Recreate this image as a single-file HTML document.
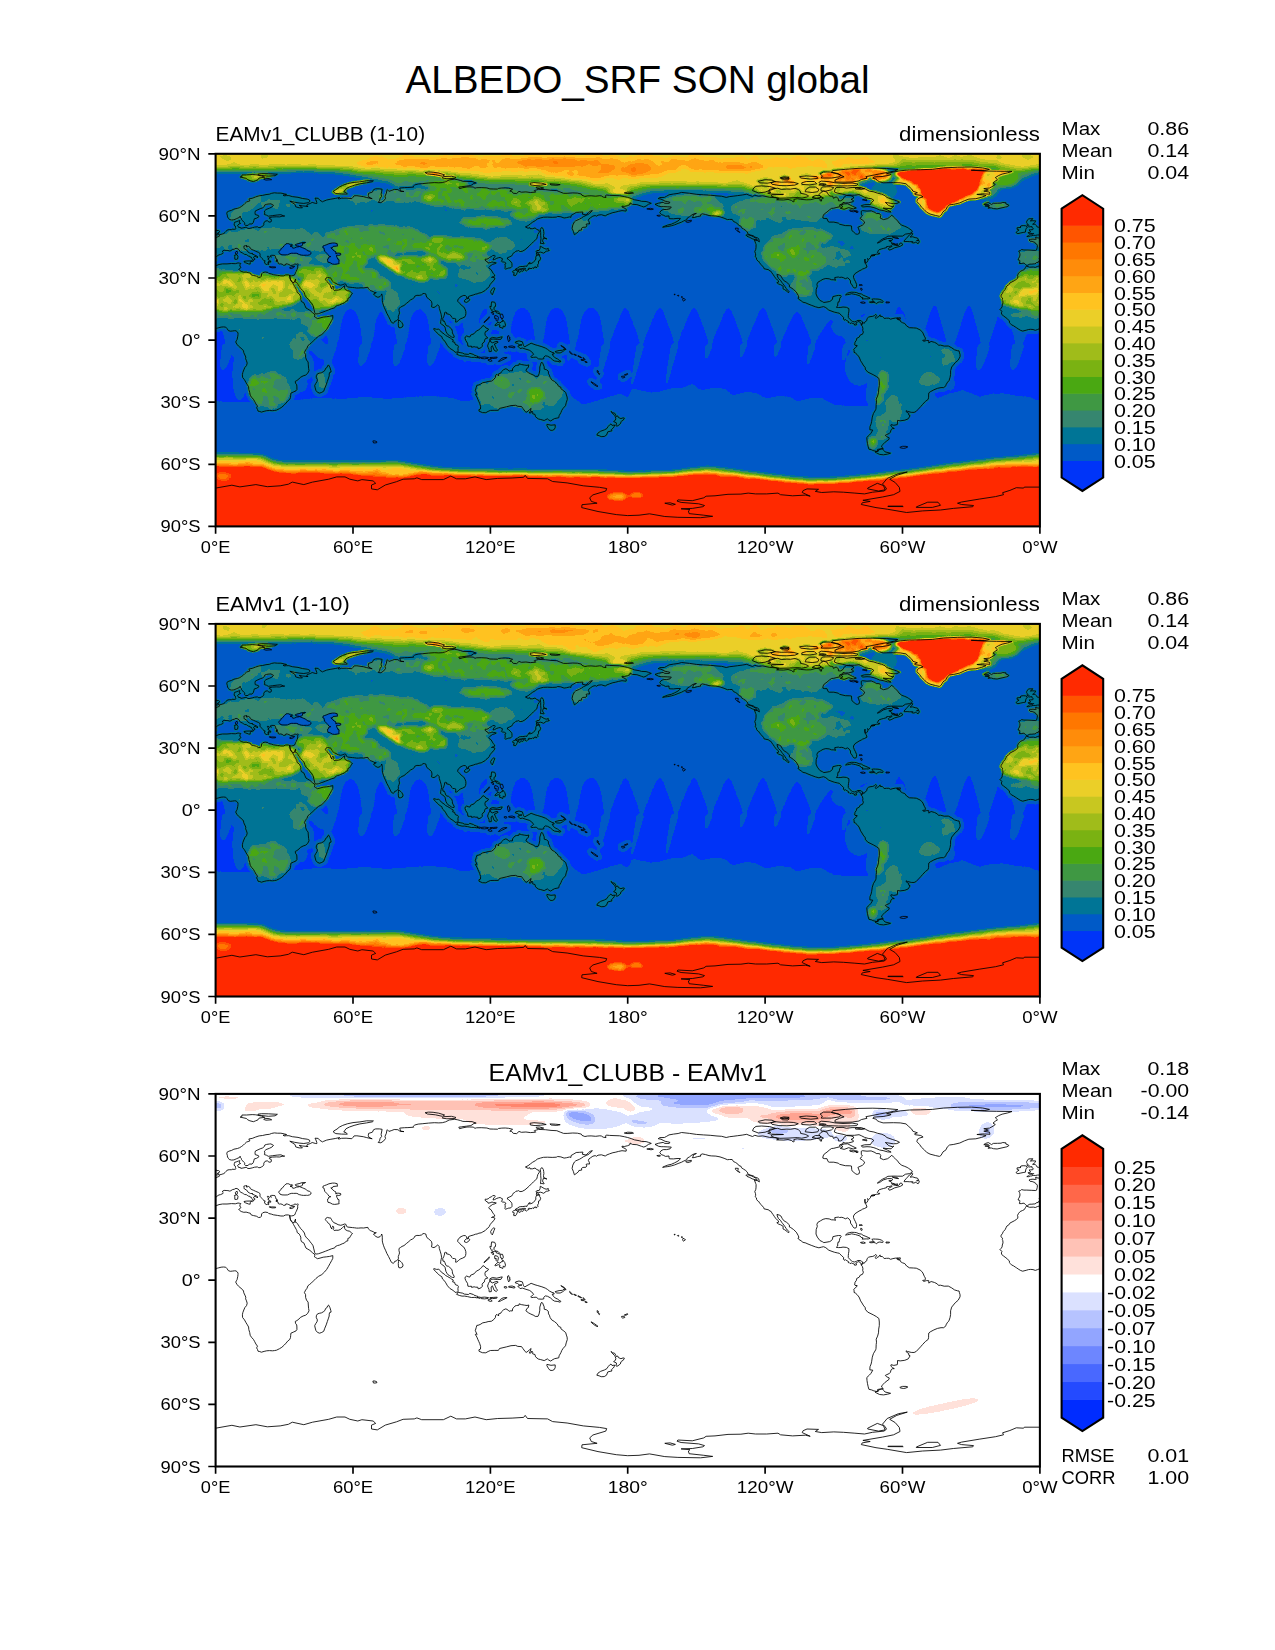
<!DOCTYPE html>
<html><head><meta charset="utf-8"><title>ALBEDO_SRF SON global</title>
<style>html,body{margin:0;padding:0;background:#fff}svg{display:block}text{font-family:"Liberation Sans", sans-serif;fill:#000}</style></head><body>
<svg width="1275" height="1650" viewBox="0 0 1275 1650">
<rect width="1275" height="1650" fill="#fff"/>
<defs>
<clipPath id="axclip"><rect x="0" y="0" width="824.3" height="372.6"/></clipPath>
<path id="landp" d="M-13.5 112.2L-10.3 113.4L-6.6 113.2L-4.6 113.6L-2.3 112.6L0 112L3.4 110.7L6.9 110.1L11.4 110.1L16 109.7L19.7 109.9L22.4 109.1L23.6 109.3L25.2 109.7L24.3 111L24.3 112.6L25.4 113.4L24.5 114.7L23.1 115.5L24 116.5L25.6 117.6L28.2 118.4L30.5 118.2L33.2 119L34.8 119.4L35.7 121.1L38 121.7L40.8 122.3L43 123.6L44.9 123.4L45.8 122.3L46 120.1L47.2 118.8L49.5 118.2L52.2 118.6L53.1 119.6L56.1 120.3L57.7 120.9L61.8 121.5L65.3 122.1L68 122.1L69.6 121.2L71.4 121L73 121.1L74 121.5L74.5 124.2L74.6 125.2L75.6 127.3L76.9 128.8L77.9 130.6L79.2 132.9L80.6 135.4L81.3 136.8L81.5 138.5L83.8 140.3L84.5 141.8L85.2 143.2L85.2 145.7L85.9 147.8L88.2 149L89.3 151.7L90.4 154.2L92.3 155.3L94.3 156.5L97.1 159L98.7 160.2L99.4 161.7L98.5 162.5L99.8 163.5L101.9 164.8L104.4 164.2L107.6 163.3L111.1 162.9L114 162.5L117.2 161.7L117.2 164.4L116.1 166.6L114.5 169.5L112.9 172.4L111.1 175.5L109 178L106.2 180.7L103 182.4L100.3 184.6L98 186.9L95.9 189L93.9 190.6L92.3 191.9L91.4 194.4L90 196.2L88.8 198.7L90 200.8L90 203.5L90.9 206.2L92.5 208.2L92.7 211.1L93 214.5L93.4 216.9L92 219.6L90 221.3L87.5 222.1L84.7 223.6L83.3 225.2L81.3 226.7L79.7 227.5L79.9 229.4L81.1 231L81.3 233.1L81.3 235.8L80.4 237L77.6 238.3L75.3 239.3L75.1 241.4L74.9 243.6L74.2 245.5L72.1 247.2L70.5 249.2L68.7 251.1L66.2 253.4L63.9 254.8L60.9 256.3L58.8 256.7L56.8 256.9L53.8 256.7L51.1 256.9L48.5 257.5L45.8 258.3L44.2 257.7L42.4 257.3L41.9 255.6L41 254L41.9 252.3L40.3 250.1L38.9 247.4L37.8 245.5L35.9 243.4L34.6 241.4L34.1 238.5L33.2 235.6L33 233.1L31.8 231L30.5 228.9L28.9 226L27 223.6L26.8 220.9L27.2 218.8L28.2 216.1L29.3 213.6L30.9 211.8L31.6 209.3L30.9 207L30 204.9L30.2 203.3L29.3 201.2L28.2 198.9L27.9 197.1L27.2 196L25.4 194.4L22.9 192.3L21.3 190.4L20.1 188.2L20.8 186.9L21.5 185.7L21.8 184.2L22.2 182.4L22.4 180.7L22.4 179.3L21.8 178.1L20.4 177L19 176.9L16.7 177.2L14.7 177.4L12.8 176.8L11.4 174.7L10.1 173.3L7.8 173.1L5.5 173.3L3.2 173.9L1.8 174.3L0 174.7L-2.3 175.7L-4.6 176.5L-6.9 175.7L-9.2 175.5L-11.4 175.7L-13.7 176.4L-17.2 177.3L-19.2 176.6L-21.1 175.5L-23.4 173.9L-24.7 173.1L-26.3 172L-28.4 171L-29.8 169.5L-30.5 168.5L-30.5 167L-32.1 165.6L-33.9 163.9L-34.8 163.3L-36.6 161.9L-38.2 160.6L-38.5 159L-38 157.5L-39.4 156.1L-40.1 155.8L-38.7 154.4L-37.8 153L-37.6 151.1L-36.9 149L-37.1 146.8L-37.6 145.7L-37.3 144.3L-39 142.8L-38.7 141.2L-37.6 139.9L-36.6 137.7L-34.8 135.8L-33.9 133.9L-33 132.1L-31.1 131L-30 129.2L-27.9 128.1L-25.6 126.9L-23.6 125.6L-22.2 124.4L-22 123L-22.4 121.5L-21.3 119.4L-19.7 117.6L-17.4 116.6L-15.6 115.7L-14.4 113.6L-13.5 112.2ZM810.8 112.2L814 113.4L817.7 113.2L819.7 113.6L822 112.6L824.3 112L827.7 110.7L831.2 110.1L835.7 110.1L840.3 109.7L844 109.9L846.7 109.1L847.9 109.3L849.5 109.7L848.6 111L848.6 112.6L849.7 113.4L848.8 114.7L847.4 115.5L848.3 116.5L849.9 117.6L852.5 118.4L854.8 118.2L857.5 119L859.1 119.4L860 121.1L862.3 121.7L865.1 122.3L867.3 123.6L869.2 123.4L870.1 122.3L870.3 120.1L871.5 118.8L873.8 118.2L876.5 118.6L877.4 119.6L880.4 120.3L882 120.9L886.1 121.5L889.6 122.1L892.3 122.1L893.9 121.2L895.7 121L897.3 121.1L898.3 121.5L898.8 124.2L898.9 125.2L899.9 127.3L901.2 128.8L902.2 130.6L903.5 132.9L904.9 135.4L905.6 136.8L905.8 138.5L908.1 140.3L908.8 141.8L909.5 143.2L909.5 145.7L910.2 147.8L912.5 149L913.6 151.7L914.7 154.2L916.6 155.3L918.6 156.5L921.4 159L923 160.2L923.7 161.7L922.8 162.5L924.1 163.5L926.2 164.8L928.7 164.2L931.9 163.3L935.4 162.9L938.3 162.5L941.5 161.7L941.5 164.4L940.4 166.6L938.8 169.5L937.2 172.4L935.4 175.5L933.3 178L930.5 180.7L927.3 182.4L924.6 184.6L922.3 186.9L920.2 189L918.2 190.6L916.6 191.9L915.7 194.4L914.3 196.2L913.1 198.7L914.3 200.8L914.3 203.5L915.2 206.2L916.8 208.2L917 211.1L917.3 214.5L917.7 216.9L916.3 219.6L914.3 221.3L911.8 222.1L909 223.6L907.6 225.2L905.6 226.7L904 227.5L904.2 229.4L905.4 231L905.6 233.1L905.6 235.8L904.7 237L901.9 238.3L899.6 239.3L899.4 241.4L899.2 243.6L898.5 245.5L896.4 247.2L894.8 249.2L893 251.1L890.5 253.4L888.2 254.8L885.2 256.3L883.1 256.7L881.1 256.9L878.1 256.7L875.4 256.9L872.8 257.5L870.1 258.3L868.5 257.7L866.7 257.3L866.2 255.6L865.3 254L866.2 252.3L864.6 250.1L863.2 247.4L862.1 245.5L860.2 243.4L858.9 241.4L858.4 238.5L857.5 235.6L857.3 233.1L856.1 231L854.8 228.9L853.2 226L851.3 223.6L851.1 220.9L851.5 218.8L852.5 216.1L853.6 213.6L855.2 211.8L855.9 209.3L855.2 207L854.3 204.9L854.5 203.3L853.6 201.2L852.5 198.9L852.2 197.1L851.5 196L849.7 194.4L847.2 192.3L845.6 190.4L844.4 188.2L845.1 186.9L845.8 185.7L846.1 184.2L846.5 182.4L846.7 180.7L846.7 179.3L846.1 178.1L844.7 177L843.3 176.9L841 177.2L839 177.4L837.1 176.8L835.7 174.7L834.4 173.3L832.1 173.1L829.8 173.3L827.5 173.9L826.1 174.3L824.3 174.7L822 175.7L819.7 176.5L817.4 175.7L815.1 175.5L812.9 175.7L810.6 176.4L807.1 177.3L805.1 176.6L803.2 175.5L800.9 173.9L799.6 173.1L798 172L795.9 171L794.5 169.5L793.8 168.5L793.8 167L792.2 165.6L790.4 163.9L789.5 163.3L787.7 161.9L786.1 160.6L785.8 159L786.3 157.5L784.9 156.1L784.2 155.8L785.6 154.4L786.5 153L786.7 151.1L787.4 149L787.2 146.8L786.7 145.7L787 144.3L785.3 142.8L785.6 141.2L786.7 139.9L787.7 137.7L789.5 135.8L790.4 133.9L791.3 132.1L793.2 131L794.3 129.2L796.4 128.1L798.7 126.9L800.7 125.6L802.1 124.4L802.3 123L801.9 121.5L803 119.4L804.6 117.6L806.9 116.6L808.7 115.7L809.9 113.6L810.8 112.2ZM112.9 211.1L114.3 213.6L115.2 216.5L115.5 218.2L114.1 218.6L113.6 220.2L113.6 222.1L112.9 224.2L111.7 227.7L110.6 231L109.2 234.3L108.1 237.4L106.2 238.5L104 239.3L101.9 238.5L100.3 236.6L99.6 234.1L99.1 231.8L100.1 229.8L101.4 227.9L101.8 226L100.7 223.8L100.7 221.9L101.9 220L103.7 219.4L105.8 219L107.6 218L109.4 216.5L109.9 214.7L111.5 213.6L112 212L112.9 211.1ZM74.5 124.2L74.9 125.9L76 127.5L77.2 128.5L78.5 128.9L79.1 127.3L79.9 125.2L79.8 127.1L79.5 128.2L80.8 128.5L82 130L83.6 132.5L85.2 134.8L87 136.6L88.8 139.1L89.5 141.8L90.9 143.9L93 145.7L94.6 148L96.2 149.9L97.5 151.9L98 154.2L98.5 156.1L99.1 158.8L99.8 160.1L101.4 160.1L103 159.8L106.5 158.6L109.9 157.3L112.7 156.2L115.6 155L119.1 154L119.8 152.6L121.8 151.7L124.1 151.1L126.6 149.9L128.9 149.1L130.5 147.3L132.2 147L132.3 144.5L133.9 144L134.9 142.2L136.2 140.3L136.9 139.6L135.8 138.9L134.2 137.4L131.7 136.8L129.8 135.8L129.1 134.6L128.9 133.1L129.1 131.9L128.3 132.4L126.9 133.7L124.8 135.6L122.5 136.4L120.4 136.3L118.6 136.6L117.7 135.6L118.1 134.6L118 132.8L117.2 132.2L116.3 133.4L116.3 135.1L115.2 133.7L114.8 132.1L114.4 130.6L112.7 129.4L111.5 127.7L110.1 126.3L109.7 125.4L110.4 124.3L112 123.5L113.6 124.1L114.7 123.8L116.1 125.9L116.5 126.7L118.1 128.7L120.4 129.6L122.5 130.8L125.2 131.4L127.3 130.8L128.9 130.1L130.3 130.4L131 132.5L132.3 133.2L134.4 133.4L136.9 133.7L139 133.9L141 134.2L142.9 134.2L145.4 134L148.1 134.1L150.4 133.7L152.3 133.5L152.7 134.9L154.1 136L154.8 136.8L156.2 137.2L157.8 137.9L159.4 138.9L160.7 138.8L158.4 139.9L157.9 140.2L158.7 141.2L160.3 142.6L162.3 143.5L164.4 142.8L165.5 141.6L166.1 140.1L166.6 141.6L166.7 143.9L166.7 147L167.1 149L167.8 151.3L168.8 154L169.9 156.3L171.3 159.6L172.9 162.5L174.5 165.7L175.4 167.9L177.5 169.5L178.8 168.5L179.1 167.5L180.9 167L182.8 165L182.7 162.5L183.4 160.8L183.9 159L183.4 156.7L183.4 154.6L185 153.5L186.4 152.5L188.4 151.7L190.7 149.7L193.3 147.6L194.9 146.1L196.9 145.1L198.7 143.7L199.2 142.3L201.3 141.5L203.6 141.6L206.1 141L207.4 139.7L208.8 139.7L210.2 140.1L210.7 142.2L211.3 143.7L212.7 144.7L214.5 146.3L215.9 147.6L216.4 150.1L215.9 153L217.1 153.5L218.4 153.7L220.3 152.6L221.9 151.1L222.6 151.4L223.5 152.4L223.7 154.6L224.6 157.3L225.5 160.4L226 163.5L225.5 165.6L225.1 167.7L225 169.7L226 170.4L227.4 171.4L228.5 172.3L229.4 173.2L229.8 175.1L230.3 177.4L231.3 179.3L232.2 180.7L234 181.7L235.8 183L237 183.6L238.5 183.5L238.6 182.4L237.7 180.9L236.8 179.1L236.8 177.6L236.1 175.3L234.2 173.6L232.9 172.4L231.3 172.1L230.3 171.4L229.4 168.9L228.7 167.3L227.4 167.3L227.1 164.8L228.1 162.9L228.5 161.7L229 160.2L229 158.8L230.1 158.4L231.1 158.8L231 160L232.4 160.2L234 160.8L235.4 161.9L236.1 163.5L237.2 164.6L238.8 164.6L240 165L240.2 166.2L240 168.3L241.1 168.1L242.7 166.8L244.3 165.4L245.2 164.9L247.1 164.2L249.4 162.9L250 161.5L250.3 159.6L250.2 157.7L249.4 155.3L248 153L246.4 151.9L244.3 149.9L243.6 149L242 147.4L242.5 145.3L243.9 144.3L244.5 143.2L246.6 142.2L248.2 141.6L249.8 141.8L251 142.8L251.2 144.3L252.8 144.3L253 142.6L255.3 141.8L257.6 141.2L259.9 140.3L261.5 140.1L263.3 139.3L265.6 138.9L267.2 138L269.7 136.6L270.4 135.6L272.2 134.3L273.6 132.7L274.5 130.8L276.4 128.3L278.4 126.5L279.1 125L279.3 124.2L277.1 123.4L275.9 123.6L277.7 122.8L279.1 122.3L278.9 120.9L277.5 119.6L276.8 118.2L275.5 115.9L273.4 114.5L273.2 113.6L274.1 112.6L275.5 111.6L277.1 110.5L279.3 109.9L280.7 109.1L279.6 108.7L278 108.6L276.4 108.1L274.5 108.9L272.5 109.3L272.2 108.3L270.2 107.2L269.5 106.2L269.7 105.2L271.3 105.4L273.2 104.5L273.9 103.6L275.9 102.9L277.1 101.7L278.9 101.6L279.8 102.4L278.4 103.7L277.7 105.2L277.5 106.1L278.9 105.7L281.2 104.5L283 103.9L284.6 103.6L285.5 104.3L286.7 104.7L286.7 106.2L285.8 107.4L286.9 108.1L288.7 108.3L289.9 108.9L290.3 109.9L289.2 110.5L289.6 111.8L289.6 113.4L289.2 114.7L289.9 115.3L291.7 114.7L292.6 114.3L294.5 114.1L295.6 113.6L296.3 112.8L296.4 111.6L296.3 109.7L295.6 108.3L294.5 107.2L293.1 105.8L291.8 105.2L291.9 103.9L293.5 103.3L296.1 102.1L297 100.6L297.2 99.8L298.8 98.7L299.5 98.3L300.4 97.3L302 97.1L302.9 96.7L304.3 97.7L306.6 97.5L309.3 96L311.4 94.2L313.7 92.1L316 89.8L317.8 88L320.1 85.9L321.2 84.9L321.7 82.8L322.2 80.7L323.8 78.2L323.5 76.6L321.2 75.6L319.4 74.1L317.1 74.9L314.4 74.9L314.1 73.7L312.5 74.5L309.8 73.1L312.5 71.8L314.8 70L317.1 68.3L319.9 66.7L321.7 65.2L324.7 64.2L327.9 63.4L332 63.3L336.6 63.5L340.7 63.3L342.1 62.6L345.3 63L348.5 64.2L351 63.8L353.8 63.1L355.4 63.5L355.4 61.7L358.3 60L360.6 58.6L364.1 58.4L367.3 58.2L366.8 60.4L370.5 61.1L372.8 58.8L374.4 57.5L376.7 56.7L375.5 58.4L373.9 59.4L373.2 60.4L370.7 61.5L367.7 62.9L366.2 64L363.8 65.4L360.2 66.9L358.8 68.1L357.2 71.2L356.5 74.5L357.7 77.4L358.8 80.9L360.6 79.7L362.7 78L363.3 76.6L366.1 76.2L365.9 74.5L367.3 73.5L370.2 73.4L371.2 72L370.5 70.4L372.3 70L373.9 70.2L373.7 68.3L372.8 66.7L373.2 65.2L375.1 63.8L377.3 62.3L379.6 61.7L380.8 62.4L382.4 61.3L385.8 60.9L389.9 62.2L390.6 61.3L393.8 60L397.3 58.8L399.6 58.4L403 57.5L406.4 56.8L410.5 57.3L410.8 55.7L409.4 54.6L406.4 53.2L406.4 52.3L408.7 52.6L412.1 51.8L414.4 50.7L414.4 49.1L416.7 50.5L421.3 50.8L425.9 52.4L428.2 53.2L430.5 52.2L432.8 50.5L435.7 49.5L432.8 48.4L430.5 47.7L425.9 47.5L423.6 46.8L419 46L415.6 44.7L412.1 43.6L408.7 42.8L404.1 41.9L398.4 41.7L393.8 41.5L390.6 41.2L389.9 42L390.4 43.7L387.6 43.3L385.8 42.1L384.2 41.9L380.1 42.4L375.5 42L372.1 42.1L369.3 42.6L366.4 41.5L365.7 40.2L361.8 39.3L357.2 39.1L351.5 39.5L348 39.5L344.6 38.2L341.2 36.8L335.4 36.5L329.7 35.8L322.9 35.5L320.6 36.2L318.7 36.8L320.1 38.3L314.8 38.7L310.3 38.1L305.7 38.4L303.4 37.5L301.1 39.7L297.7 39.5L296.1 37.5L294.2 37.3L297 35.4L293.1 34.4L289.6 34.1L286.2 34.2L282.8 34.6L282.1 35.3L278.2 35.2L274.3 35.1L271.3 34.1L265.6 33.8L261 33.9L259.4 34.4L257.6 33.2L254.2 33.1L251.4 33.1L247.3 33.9L243.9 34.8L243.2 33.3L246.1 32.9L250.7 32.3L255.3 31.7L258.3 29.6L260.6 29.2L256.4 27.7L247.3 27.5L245 26.7L241.6 25.8L238.8 25.4L233.6 26.1L230.1 27.9L226.7 28.8L223.2 29L218.7 28.8L212.9 29.2L207.2 29.8L202.6 30.2L199.2 31.1L197.6 32.5L198.1 33.3L192.3 33.7L188.9 33.8L184.1 34.2L184.6 35.6L185.2 37.3L188.4 37.7L184.6 37.5L182.3 35.8L178.6 35.6L175.6 36.8L173.3 37.5L171.7 35.8L171.3 36.4L170.8 39.3L169.4 42.4L169.9 44.7L168.1 47L165.3 48.9L162.6 48.6L163.9 47L164.6 44.3L166 42.6L165.5 40.4L166 38.1L166.5 35.4L163.7 35L160.1 35L158 35.8L156.8 38.3L153 39.5L152.7 41.8L153.4 43.5L156.6 44.9L151.1 43.7L147.7 42.8L141.3 41.9L138.5 42L137.4 43.5L136.2 44.8L130.5 44.3L125.9 44.4L123.6 45.1L122.5 44.9L124.1 43.6L120.2 44.5L114.5 45.5L111.1 46.2L107.6 47.6L106.9 48L104.2 46.4L102.6 44.5L99.4 44.3L100.3 46L101.2 48.6L101.2 49.7L99.6 49.5L96.6 48.6L94.6 49.7L91.6 50.7L91.1 52.6L92.5 52.6L87 52.1L83.6 51.5L85.9 53L86.8 54L83.6 54L80.1 53L79.5 50.7L76.7 48.9L74.2 47.3L79 48.4L83.6 49.2L88.2 49.6L92.7 48.9L94.3 47.6L93.9 46.2L91.6 45.3L87 44.7L82.4 43.5L76.7 42.8L73.3 41.8L71 41.8L68.7 42L67.5 41.4L71 40.6L68.7 40L65.3 39.3L61.8 39.3L58.8 39L56.1 39.5L53.8 40.4L50.4 40.8L46.9 41.6L43.5 42L40.1 43.1L36.6 44.5L33.2 45.1L34.3 47L30.9 48.2L29.3 49.7L27.9 51.1L25.9 52.6L24 53.8L21.8 54.6L18.3 55.3L16 56.5L13.3 57.3L11.4 58.4L11.2 60L11.7 61.3L11.9 63.1L12.8 64.4L13.7 65.6L16 66.2L18.3 66L20.6 65L22.4 64.2L24 63.5L24.5 62.3L25 63.8L25.6 64.4L25.9 65.6L27 66.9L28.2 68.3L29.3 69.3L28.9 70.4L29.8 71.6L32.5 71.6L33 71L33.7 70.1L36.4 70.2L37.6 68.9L38.2 66.9L38.7 65L41 64.4L43.3 62.9L42.8 61.7L39.6 60.7L39.4 58.8L39.8 57.1L42.4 55.9L44.6 54.9L46.9 54.1L48.8 52.6L49.2 51.1L51.1 50.5L53.8 50.1L55.3 50L57.9 51.5L56.3 53.2L53.8 54.4L50.4 55.7L48.8 57.3L49.2 59L48.8 60.7L50.8 61.3L52.7 62.4L57.1 61.8L61.6 61.2L65.3 60.9L68 62.1L69.1 62.2L66.4 62.4L64.1 63.1L60.7 63L56.7 63.2L53.8 63.8L53.8 64.8L55.6 65.5L55.8 67.1L55.2 68.2L53.4 68.3L51.7 66.9L49.5 67.4L48.2 69.3L48.2 71L46.9 72.6L45.7 73.1L44.4 73.8L42.7 73.7L42.1 73L38.9 73.3L36.6 74L33.4 74.7L31.6 74.3L30.7 73.3L28.4 73.9L25.2 74.5L25 73.7L22.9 73.5L22.7 72.9L22 71.6L22.4 71.4L23.4 70.1L25 69.6L23.6 68.5L24 67.5L24.3 66.8L22.7 67.2L20.6 68L19 68.5L18.7 69.8L18.5 71.3L19.7 72.2L19.9 73.7L20.4 74.7L19.7 75.3L18.5 75.5L16.5 75.3L16 75.9L14.2 75.8L12.4 76L11 76.7L10.3 77.8L9.4 78.7L8.2 79.7L7.3 80L5.5 80.6L3.7 80.9L3.7 82.4L2.5 82.9L0.2 83.8L-0.7 84.2L-2.7 84.1L-3 83.4L-4.4 83.4L-3.7 85.5L-4.6 85.6L-6.9 85.3L-9.2 85.5L-10.9 86.1L-9.8 87.4L-7.8 87.6L-5.7 88.4L-5 88.5L-4.6 89.6L-2.7 90.8L-2.5 91.9L-2.7 93.9L-3.4 96.3L-4.1 96.6L-6.9 96.5L-8.7 96.4L-13.1 96.2L-16 96.2L-18.3 95.7L-19.2 96.5L-21.2 97.3L-20.4 98.7L-20.1 99.6L-19.9 101.1L-20.4 103.1L-21.4 104.8L-21.8 106.1L-20.8 106.3L-20.1 106.7L-20.1 107.7L-20.5 109.7L-18.1 109.7L-16.9 109.3L-15.8 109.4L-14.5 110.5L-13.7 111.4L-12.8 111.8L-12.3 111.5L-10.1 110.3L-8 110.3L-5.6 110L-4.8 110.2L-3.7 108.9L-1.6 108.5L-1.5 107.6L-0.3 106.8L0.5 106.1L-0.5 105.2L-0.7 104.5L0 103.5L1.6 102.3L2.1 102.1L2.7 101.2L5 100.7L7.3 99.6L7.6 98.7L6.9 98.1L7.1 97.1L8.5 96.5L10.5 96.6L12.3 96.7L14.2 97.2L15.3 96.8L16.7 95.8L18.8 95.3L20.4 94.4L22.4 95.1L23.6 96.2L24 97.4L25.4 98.5L27 99.2L28 99.9L28.9 100.5L31.1 100.9L32.2 101.8L32.7 102.2L33.9 102.2L34.3 103.1L35.8 103.4L36.2 104.5L36.9 105.6L37.1 106.2L36.3 106.5L35.8 107.6L36.9 107.7L38 107L38 106L39.3 105.6L39.2 104.7L37.8 104L38.7 102.6L39.5 102.6L41 103L41.4 103.9L42.4 103.3L41.2 102.2L38.7 101.1L36.5 100.1L37.1 99.6L35 99.6L33.7 99L32.5 98.3L31.1 96.2L28.9 95.1L28.2 94L28.6 93.3L28.2 92.3L30 91.8L31.5 91.8L30.9 92.1L31.1 93.3L32.7 92.5L34.1 93.2L34.8 94.8L36.4 95.8L37.7 96.3L39.8 97.3L41.4 98L42.8 98.5L44.3 99.6L44.5 100.8L44.3 102.3L45.7 103.8L46.3 104.5L47.4 105.6L48.3 106.9L49.7 107.1L48.8 108.1L49.6 110L51.2 110.8L51.6 110.1L53.1 110.8L52.7 109.1L52.2 108.6L53.8 108.8L52.7 107.8L54.2 107.7L55.1 108.4L55.1 107.2L54 106.6L52.5 105.9L52.4 104.8L53.4 105.2L52.4 103.7L51.7 102.5L52.5 102.3L53.5 103L54.3 103.6L55 102.7L55.9 103.2L54.7 102.1L55.9 101.5L57.5 101.5L59.3 101.7L59.6 102.3L60 103.4L60 104.5L61.6 105.5L61.4 106.2L60.4 106.3L62.1 106.7L60.2 107.2L62.4 108L62.7 109.7L64.1 110.2L64.7 110L66.6 110.4L67.8 111.4L69.8 111.3L70.3 110L71.9 110.2L73.3 110.7L75.1 111.7L77.6 111.2L79.3 110.1L80.8 110.5L82 110.1L82.8 110.5L82 111.2L82.3 112L82 112.8L82.2 114.1L81.6 115.1L81.3 116.1L80.6 117.6L80.1 118.4L79.6 120L78.9 121.1L78.3 121.5L77.4 121.8L75.8 122L74.5 121.9L74 121.5ZM898.8 124.2L899.2 125.9L900.3 127.5L901.5 128.5L902.8 128.9L903.4 127.3L904.2 125.2L904.1 127.1L903.8 128.2L905.1 128.5L906.3 130L907.9 132.5L909.5 134.8L911.3 136.6L913.1 139.1L913.8 141.8L915.2 143.9L917.3 145.7L918.9 148L920.5 149.9L921.8 151.9L922.3 154.2L922.8 156.1L923.4 158.8L924.1 160.1L925.7 160.1L927.3 159.8L930.8 158.6L934.2 157.3L937 156.2L939.9 155L943.4 154L944.1 152.6L946.1 151.7L948.4 151.1L950.9 149.9L953.2 149.1L954.8 147.3L956.5 147L956.6 144.5L958.2 144L959.2 142.2L960.5 140.3L961.2 139.6L960.1 138.9L958.5 137.4L956 136.8L954.1 135.8L953.4 134.6L953.2 133.1L953.4 131.9L952.6 132.4L951.2 133.7L949.1 135.6L946.8 136.4L944.7 136.3L942.9 136.6L942 135.6L942.4 134.6L942.3 132.8L941.5 132.2L940.6 133.4L940.6 135.1L939.5 133.7L939.1 132.1L938.7 130.6L937 129.4L935.8 127.7L934.4 126.3L934 125.4L934.7 124.3L936.3 123.5L937.9 124.1L939 123.8L940.4 125.9L940.8 126.7L942.4 128.7L944.7 129.6L946.8 130.8L949.5 131.4L951.6 130.8L953.2 130.1L954.6 130.4L955.3 132.5L956.6 133.2L958.7 133.4L961.2 133.7L963.3 133.9L965.3 134.2L967.2 134.2L969.7 134L972.4 134.1L974.7 133.7L976.6 133.5L977 134.9L978.4 136L979.1 136.8L980.5 137.2L982.1 137.9L983.7 138.9L985 138.8L982.7 139.9L982.2 140.2L983 141.2L984.6 142.6L986.6 143.5L988.7 142.8L989.8 141.6L990.4 140.1L990.9 141.6L991 143.9L991 147L991.4 149L992.1 151.3L993.1 154L994.2 156.3L995.6 159.6L997.2 162.5L998.8 165.7L999.7 167.9L1001.8 169.5L1003.1 168.5L1003.4 167.5L1005.2 167L1007.1 165L1007 162.5L1007.7 160.8L1008.2 159L1007.7 156.7L1007.7 154.6L1009.3 153.5L1010.7 152.5L1012.7 151.7L1015 149.7L1017.6 147.6L1019.2 146.1L1021.2 145.1L1023 143.7L1023.5 142.3L1025.6 141.5L1027.9 141.6L1030.4 141L1031.7 139.7L1033.1 139.7L1034.5 140.1L1035 142.2L1035.6 143.7L1037 144.7L1038.8 146.3L1040.2 147.6L1040.7 150.1L1040.2 153L1041.4 153.5L1042.7 153.7L1044.6 152.6L1046.2 151.1L1046.9 151.4L1047.8 152.4L1048 154.6L1048.9 157.3L1049.8 160.4L1050.3 163.5L1049.8 165.6L1049.4 167.7L1049.3 169.7L1050.3 170.4L1051.7 171.4L1052.8 172.3L1053.7 173.2L1054.1 175.1L1054.6 177.4L1055.6 179.3L1056.5 180.7L1058.3 181.7L1060.1 183L1061.3 183.6L1062.8 183.5L1062.9 182.4L1062 180.9L1061.1 179.1L1061.1 177.6L1060.4 175.3L1058.5 173.6L1057.2 172.4L1055.6 172.1L1054.6 171.4L1053.7 168.9L1053 167.3L1051.7 167.3L1051.4 164.8L1052.4 162.9L1052.8 161.7L1053.3 160.2L1053.3 158.8L1054.4 158.4L1055.4 158.8L1055.3 160L1056.7 160.2L1058.3 160.8L1059.7 161.9L1060.4 163.5L1061.5 164.6L1063.1 164.6L1064.3 165L1064.5 166.2L1064.3 168.3L1065.4 168.1L1067 166.8L1068.6 165.4L1069.5 164.9L1071.4 164.2L1073.7 162.9L1074.3 161.5L1074.6 159.6L1074.5 157.7L1073.7 155.3L1072.3 153L1070.7 151.9L1068.6 149.9L1067.9 149L1066.3 147.4L1066.8 145.3L1068.2 144.3L1068.8 143.2L1070.9 142.2L1072.5 141.6L1074.1 141.8L1075.3 142.8L1075.5 144.3L1077.1 144.3L1077.3 142.6L1079.6 141.8L1081.9 141.2L1084.2 140.3L1085.8 140.1L1087.6 139.3L1089.9 138.9L1091.5 138L1094 136.6L1094.7 135.6L1096.5 134.3L1097.9 132.7L1098.8 130.8L1100.7 128.3L1102.7 126.5L1103.4 125L1103.6 124.2L1101.4 123.4L1100.2 123.6L1102 122.8L1103.4 122.3L1103.2 120.9L1101.8 119.6L1101.1 118.2L1099.8 115.9L1097.7 114.5L1097.5 113.6L1098.4 112.6L1099.8 111.6L1101.4 110.5L1103.6 109.9L1105 109.1L1103.9 108.7L1102.3 108.6L1100.7 108.1L1098.8 108.9L1096.8 109.3L1096.5 108.3L1094.5 107.2L1093.8 106.2L1094 105.2L1095.6 105.4L1097.5 104.5L1098.2 103.6L1100.2 102.9L1101.4 101.7L1103.2 101.6L1104.1 102.4L1102.7 103.7L1102 105.2L1101.8 106.1L1103.2 105.7L1105.5 104.5L1107.3 103.9L1108.9 103.6L1109.8 104.3L1111 104.7L1111 106.2L1110.1 107.4L1111.2 108.1L1113 108.3L1114.2 108.9L1114.6 109.9L1113.5 110.5L1113.9 111.8L1113.9 113.4L1113.5 114.7L1114.2 115.3L1116 114.7L1116.9 114.3L1118.8 114.1L1119.9 113.6L1120.6 112.8L1120.7 111.6L1120.6 109.7L1119.9 108.3L1118.8 107.2L1117.4 105.8L1116.1 105.2L1116.2 103.9L1117.8 103.3L1120.4 102.1L1121.3 100.6L1121.5 99.8L1123.1 98.7L1123.8 98.3L1124.7 97.3L1126.3 97.1L1127.2 96.7L1128.6 97.7L1130.9 97.5L1133.6 96L1135.7 94.2L1138 92.1L1140.3 89.8L1142.1 88L1144.4 85.9L1145.5 84.9L1146 82.8L1146.5 80.7L1148.1 78.2L1147.8 76.6L1145.5 75.6L1143.7 74.1L1141.4 74.9L1138.7 74.9L1138.4 73.7L1136.8 74.5L1134.1 73.1L1136.8 71.8L1139.1 70L1141.4 68.3L1144.2 66.7L1146 65.2L1149 64.2L1152.2 63.4L1156.3 63.3L1160.9 63.5L1165 63.3L1166.4 62.6L1169.6 63L1172.8 64.2L1175.3 63.8L1178.1 63.1L1179.7 63.5L1179.7 61.7L1182.6 60L1184.9 58.6L1188.4 58.4L1191.6 58.2L1191.1 60.4L1194.8 61.1L1197.1 58.8L1198.7 57.5L1201 56.7L1199.8 58.4L1198.2 59.4L1197.5 60.4L1195 61.5L1192 62.9L1190.5 64L1188.1 65.4L1184.5 66.9L1183.1 68.1L1181.5 71.2L1180.8 74.5L1182 77.4L1183.1 80.9L1184.9 79.7L1187 78L1187.6 76.6L1190.4 76.2L1190.2 74.5L1191.6 73.5L1194.5 73.4L1195.5 72L1194.8 70.4L1196.6 70L1198.2 70.2L1198 68.3L1197.1 66.7L1197.5 65.2L1199.4 63.8L1201.6 62.3L1203.9 61.7L1205.1 62.4L1206.7 61.3L1210.1 60.9L1214.2 62.2L1214.9 61.3L1218.1 60L1221.6 58.8L1223.9 58.4L1227.3 57.5L1230.7 56.8L1234.8 57.3L1235.1 55.7L1233.7 54.6L1230.7 53.2L1230.7 52.3L1233 52.6L1236.4 51.8L1238.7 50.7L1238.7 49.1L1241 50.5L1245.6 50.8L1250.2 52.4L1252.5 53.2L1254.8 52.2L1257.1 50.5L1260 49.5L1257.1 48.4L1254.8 47.7L1250.2 47.5L1247.9 46.8L1243.3 46L1239.9 44.7L1236.4 43.6L1233 42.8L1228.4 41.9L1222.7 41.7L1218.1 41.5L1214.9 41.2L1214.2 42L1214.7 43.7L1211.9 43.3L1210.1 42.1L1208.5 41.9L1204.4 42.4L1199.8 42L1196.4 42.1L1193.6 42.6L1190.7 41.5L1190 40.2L1186.1 39.3L1181.5 39.1L1175.8 39.5L1172.3 39.5L1168.9 38.2L1165.5 36.8L1159.7 36.5L1154 35.8L1147.2 35.5L1144.9 36.2L1143 36.8L1144.4 38.3L1139.1 38.7L1134.6 38.1L1130 38.4L1127.7 37.5L1125.4 39.7L1122 39.5L1120.4 37.5L1118.5 37.3L1121.3 35.4L1117.4 34.4L1113.9 34.1L1110.5 34.2L1107.1 34.6L1106.4 35.3L1102.5 35.2L1098.6 35.1L1095.6 34.1L1089.9 33.8L1085.3 33.9L1083.7 34.4L1081.9 33.2L1078.5 33.1L1075.7 33.1L1071.6 33.9L1068.2 34.8L1067.5 33.3L1070.4 32.9L1075 32.3L1079.6 31.7L1082.6 29.6L1084.9 29.2L1080.7 27.7L1071.6 27.5L1069.3 26.7L1065.9 25.8L1063.1 25.4L1057.9 26.1L1054.4 27.9L1051 28.8L1047.5 29L1043 28.8L1037.2 29.2L1031.5 29.8L1026.9 30.2L1023.5 31.1L1021.9 32.5L1022.4 33.3L1016.6 33.7L1013.2 33.8L1008.4 34.2L1008.9 35.6L1009.5 37.3L1012.7 37.7L1008.9 37.5L1006.6 35.8L1002.9 35.6L999.9 36.8L997.6 37.5L996 35.8L995.6 36.4L995.1 39.3L993.7 42.4L994.2 44.7L992.4 47L989.6 48.9L986.9 48.6L988.2 47L988.9 44.3L990.3 42.6L989.8 40.4L990.3 38.1L990.8 35.4L988 35L984.4 35L982.3 35.8L981.1 38.3L977.3 39.5L977 41.8L977.7 43.5L980.9 44.9L975.4 43.7L972 42.8L965.6 41.9L962.8 42L961.7 43.5L960.5 44.8L954.8 44.3L950.2 44.4L947.9 45.1L946.8 44.9L948.4 43.6L944.5 44.5L938.8 45.5L935.4 46.2L931.9 47.6L931.2 48L928.5 46.4L926.9 44.5L923.7 44.3L924.6 46L925.5 48.6L925.5 49.7L923.9 49.5L920.9 48.6L918.9 49.7L915.9 50.7L915.4 52.6L916.8 52.6L911.3 52.1L907.9 51.5L910.2 53L911.1 54L907.9 54L904.4 53L903.8 50.7L901 48.9L898.5 47.3L903.3 48.4L907.9 49.2L912.5 49.6L917 48.9L918.6 47.6L918.2 46.2L915.9 45.3L911.3 44.7L906.7 43.5L901 42.8L897.6 41.8L895.3 41.8L893 42L891.8 41.4L895.3 40.6L893 40L889.6 39.3L886.1 39.3L883.1 39L880.4 39.5L878.1 40.4L874.7 40.8L871.2 41.6L867.8 42L864.4 43.1L860.9 44.5L857.5 45.1L858.6 47L855.2 48.2L853.6 49.7L852.2 51.1L850.2 52.6L848.3 53.8L846.1 54.6L842.6 55.3L840.3 56.5L837.6 57.3L835.7 58.4L835.5 60L836 61.3L836.2 63.1L837.1 64.4L838 65.6L840.3 66.2L842.6 66L844.9 65L846.7 64.2L848.3 63.5L848.8 62.3L849.3 63.8L849.9 64.4L850.2 65.6L851.3 66.9L852.5 68.3L853.6 69.3L853.2 70.4L854.1 71.6L856.8 71.6L857.3 71L858 70.1L860.7 70.2L861.9 68.9L862.5 66.9L863 65L865.3 64.4L867.6 62.9L867.1 61.7L863.9 60.7L863.7 58.8L864.1 57.1L866.7 55.9L868.9 54.9L871.2 54.1L873.1 52.6L873.5 51.1L875.4 50.5L878.1 50.1L879.6 50L882.2 51.5L880.6 53.2L878.1 54.4L874.7 55.7L873.1 57.3L873.5 59L873.1 60.7L875.1 61.3L877 62.4L881.4 61.8L885.9 61.2L889.6 60.9L892.3 62.1L893.4 62.2L890.7 62.4L888.4 63.1L885 63L881 63.2L878.1 63.8L878.1 64.8L879.9 65.5L880.1 67.1L879.5 68.2L877.7 68.3L876 66.9L873.8 67.4L872.5 69.3L872.5 71L871.2 72.6L870 73.1L868.7 73.8L867 73.7L866.4 73L863.2 73.3L860.9 74L857.7 74.7L855.9 74.3L855 73.3L852.7 73.9L849.5 74.5L849.3 73.7L847.2 73.5L847 72.9L846.3 71.6L846.7 71.4L847.7 70.1L849.3 69.6L847.9 68.5L848.3 67.5L848.6 66.8L847 67.2L844.9 68L843.3 68.5L843 69.8L842.8 71.3L844 72.2L844.2 73.7L844.7 74.7L844 75.3L842.8 75.5L840.8 75.3L840.3 75.9L838.5 75.8L836.7 76L835.3 76.7L834.6 77.8L833.7 78.7L832.5 79.7L831.6 80L829.8 80.6L828 80.9L828 82.4L826.8 82.9L824.5 83.8L823.6 84.2L821.6 84.1L821.3 83.4L819.9 83.4L820.6 85.5L819.7 85.6L817.4 85.3L815.1 85.5L813.4 86.1L814.5 87.4L816.5 87.6L818.6 88.4L819.3 88.5L819.7 89.6L821.6 90.8L821.8 91.9L821.6 93.9L820.9 96.3L820.2 96.6L817.4 96.5L815.6 96.4L811.2 96.2L808.3 96.2L806 95.7L805.1 96.5L803.1 97.3L803.9 98.7L804.2 99.6L804.4 101.1L803.9 103.1L802.9 104.8L802.5 106.1L803.5 106.3L804.2 106.7L804.2 107.7L803.8 109.7L806.2 109.7L807.4 109.3L808.5 109.4L809.8 110.5L810.6 111.4L811.5 111.8L812 111.5L814.2 110.3L816.3 110.3L818.7 110L819.5 110.2L820.6 108.9L822.7 108.5L822.8 107.6L824 106.8L824.8 106.1L823.8 105.2L823.6 104.5L824.3 103.5L825.9 102.3L826.4 102.1L827 101.2L829.3 100.7L831.6 99.6L831.9 98.7L831.2 98.1L831.4 97.1L832.8 96.5L834.8 96.6L836.6 96.7L838.5 97.2L839.6 96.8L841 95.8L843.1 95.3L844.7 94.4L846.7 95.1L847.9 96.2L848.3 97.4L849.7 98.5L851.3 99.2L852.3 99.9L853.2 100.5L855.4 100.9L856.5 101.8L857 102.2L858.2 102.2L858.6 103.1L860.1 103.4L860.5 104.5L861.2 105.6L861.4 106.2L860.6 106.5L860.1 107.6L861.2 107.7L862.3 107L862.3 106L863.6 105.6L863.5 104.7L862.1 104L863 102.6L863.8 102.6L865.3 103L865.7 103.9L866.7 103.3L865.5 102.2L863 101.1L860.8 100.1L861.4 99.6L859.3 99.6L858 99L856.8 98.3L855.4 96.2L853.2 95.1L852.5 94L852.9 93.3L852.5 92.3L854.3 91.8L855.8 91.8L855.2 92.1L855.4 93.3L857 92.5L858.4 93.2L859.1 94.8L860.7 95.8L862 96.3L864.1 97.3L865.7 98L867.1 98.5L868.6 99.6L868.8 100.8L868.6 102.3L870 103.8L870.6 104.5L871.7 105.6L872.6 106.9L874 107.1L873.1 108.1L873.9 110L875.5 110.8L875.9 110.1L877.4 110.8L877 109.1L876.5 108.6L878.1 108.8L877 107.8L878.5 107.7L879.4 108.4L879.4 107.2L878.3 106.6L876.8 105.9L876.7 104.8L877.7 105.2L876.7 103.7L876 102.5L876.8 102.3L877.8 103L878.6 103.6L879.3 102.7L880.2 103.2L879 102.1L880.2 101.5L881.8 101.5L883.6 101.7L883.9 102.3L884.3 103.4L884.3 104.5L885.9 105.5L885.7 106.2L884.7 106.3L886.4 106.7L884.5 107.2L886.7 108L887 109.7L888.4 110.2L889 110L890.9 110.4L892.1 111.4L894.1 111.3L894.6 110L896.2 110.2L897.6 110.7L899.4 111.7L901.9 111.2L903.6 110.1L905.1 110.5L906.3 110.1L907.1 110.5L906.3 111.2L906.6 112L906.3 112.8L906.5 114.1L905.9 115.1L905.6 116.1L904.9 117.6L904.4 118.4L903.9 120L903.2 121.1L902.6 121.5L901.7 121.8L900.1 122L898.8 121.9L898.3 121.5ZM-13.1 82.7L-11.4 82.8L-9.5 82.1L-8 82L-6.9 81.4L-4.6 81.6L-2.5 81.2L0 81.1L2.2 80.9L3.2 80.4L3.2 79.9L1.6 79.8L2.1 79.1L3.7 78.5L4 77.4L3 76.7L0.9 76.7L0.2 75.6L-0.2 74.3L-1.4 73.5L-2.7 73.2L-3.4 72L-4.1 71.1L-4.8 70.4L-7.3 70.4L-6 69.8L-5 68.5L-4.7 68L-4.1 67.1L-7.8 66.9L-9.6 67.3L-8.9 66.4L-7.1 65.2L-7 64.9L-11.4 65L-12.1 66L-13.1 67.3L-13.3 68.7L-12.6 69.8L-12.8 71.7L-11.2 71L-10.8 71.4L-11.7 72.7L-11.2 73.2L-8 72.7L-8.2 73.5L-6.9 74.3L-6.5 75L-7.1 75.8L-9.2 76L-10.5 75.9L-10.3 77L-9.4 77.6L-9.4 78.2L-11.9 78.9L-11.6 79.4L-9.6 79.5L-7.3 79.8L-6.2 79.6L-6.9 80.3L-9.6 80.3L-10.4 81.1L-11.6 82L-13.1 82.7ZM811.2 82.7L812.9 82.8L814.8 82.1L816.3 82L817.4 81.4L819.7 81.6L821.8 81.2L824.3 81.1L826.5 80.9L827.5 80.4L827.5 79.9L825.9 79.8L826.4 79.1L828 78.5L828.3 77.4L827.3 76.7L825.2 76.7L824.5 75.6L824.1 74.3L822.9 73.5L821.6 73.2L820.9 72L820.2 71.1L819.5 70.4L817 70.4L818.3 69.8L819.3 68.5L819.6 68L820.2 67.1L816.5 66.9L814.7 67.3L815.4 66.4L817.2 65.2L817.3 64.9L812.9 65L812.2 66L811.2 67.3L811 68.7L811.7 69.8L811.5 71.7L813.1 71L813.5 71.4L812.6 72.7L813.1 73.2L816.3 72.7L816.1 73.5L817.4 74.3L817.8 75L817.2 75.8L815.1 76L813.8 75.9L814 77L814.9 77.6L814.9 78.2L812.4 78.9L812.7 79.4L814.7 79.5L817 79.8L818.1 79.6L817.4 80.3L814.7 80.3L813.9 81.1L812.7 82L811.2 82.7ZM809.8 78.3L810.1 76L810.6 74.5L811.7 73.8L811.5 73.1L810.3 72L807.6 71.8L805.3 72.1L804.6 73.3L805.3 73.6L801.4 74L801.6 75.6L803.5 76.2L802.3 77L800.5 78.5L800.9 79.3L802.3 79.8L805.3 79.1L808.3 78.5L809.8 78.3ZM772.3 54.2L774.2 53.6L773.5 52.8L769.3 52.1L773.9 51.8L772.8 50.8L768.2 50.7L770 49.5L772.8 48.7L775.3 50.3L775.8 50.7L777.8 49.5L781.9 49.4L785.4 49.3L787.2 48.6L790.4 49L790.2 50.1L792.9 51.1L793.2 51.8L791.3 52.9L789.5 53.3L785.4 54.2L781.5 55.1L777.8 54.8L775.8 54.1L772.3 54.2ZM26.3 22.6L24.5 23.2L30.9 24.6L32.1 25.9L34.3 26.9L37.8 27.8L40.1 26.9L42.4 25.9L43.5 24.2L49.2 23.4L45.8 22.1L40.1 20.9L36.6 20.7L30.9 21.1L26.3 21.1L26.3 22.6ZM42.4 20.3L45.8 19.8L52.7 19.9L61.8 20.4L59.5 21.9L52.7 22.4L45.8 21.6L42.4 21.1L42.4 20.3ZM49.2 24.4L53.8 24.8L56.1 25.9L50.4 26.3L48.1 25.5L49.2 24.4ZM117.9 38.3L120.2 39.7L125.9 40.2L131.7 40.3L130.5 38.7L128.2 38.1L129.4 36.2L130.5 34.8L133.9 33.1L138.5 31.5L144.3 30L151.1 29L156.8 27.9L157.8 27L151.1 26.9L144.3 28L137.4 28.7L131.7 29.9L127.1 31.5L123.6 33.3L121.4 35.2L118.1 37.1L117.9 38.3ZM217.5 18.4L223.2 19.3L229 21.1L226.7 22.4L219.8 20.9L211.8 20.1L209.5 18.8L212.9 18.2L217.5 18.4ZM227.8 22.8L235.8 22.4L240.4 23.6L239.3 24.6L231.3 24.9L226.7 24.2L227.8 22.8ZM314.4 29.4L318.3 28.8L326.3 29.4L330.6 30.6L325.1 31.3L319.4 31.7L314.8 31.1L314.4 29.4ZM334.3 30L340 30.3L344.6 30.8L341.2 31.5L335.4 31.1L334.3 30ZM320.6 33.3L324 33.1L328.1 34.2L325.1 35L321 34.4L320.6 33.3ZM408.7 39.1L412.1 38.3L416.7 38.5L417.9 39.3L414.4 39.7L409.9 39.6L408.7 39.1ZM325.8 73.9L324.7 75.6L325.1 78.7L325.1 81.8L325.4 84.9L325.1 87.4L324.9 89.8L326.3 89.6L328.3 90L328.6 89.4L327.4 88.4L327 86.9L327.9 84.2L331.3 85.1L328.1 83.6L327.9 81.8L328.3 79.7L328.1 77.6L327.7 75.6L326.7 73.9L325.8 73.9ZM320.6 100.4L321.2 98.7L320.3 98.1L321.2 96.7L323.5 96.7L324.5 94.6L324.7 92.3L326.3 93.2L328.6 94.6L330.6 95.3L332.7 94.6L332.5 96L333.8 96.6L332 97.3L330.6 97.4L328.1 99.4L325.1 98.3L322.9 98.7L321.5 98.3L322.7 99.9L321.7 100.5L320.6 100.4ZM322.6 100.4L324 100.7L324 102.5L325.1 104.3L324.2 106.8L322.9 107.2L322.9 109.7L321.9 111.2L322.5 112.4L321.5 113.4L320.3 114.1L320.1 112.8L319.6 113.4L318.5 113.4L318 114.7L317.1 113.9L316.4 114.7L313.7 114.7L313.5 114L312.8 114.7L313.5 115.4L312.1 116.1L310.9 117.1L309.3 116.1L309.5 115.3L310 114.6L308.2 114.4L306.6 114.9L303.4 115.3L301.8 116L299.8 116L300 115.1L301.6 114.5L303.6 113L305.2 112.7L307.3 112.7L309.6 112.3L311.4 112.5L311.6 111.3L313 110.3L313.1 109.3L314.5 108.7L313.7 109.5L313.9 110.1L316.4 109.4L318 108.1L319.4 106.8L320.3 105.2L320.1 103.7L320.6 102.3L321.2 101L322.4 101.7L323.3 101L322.6 100.4ZM302.2 117.3L303.8 116.1L305.9 115.8L307.1 115.2L308.3 115.5L308.5 116.2L307.3 117.5L305.7 117L304.5 118.5L303.4 118.2L302.2 117.3ZM299.8 116.1L301.6 116.7L302 118L301.6 118.8L301 120.3L300.2 121.5L299.3 122.1L298.9 121.1L298.1 121.6L298.1 120.1L298.8 119L298.1 118.6L297.2 118.6L297 117.6L297.7 117L298.6 116.7L299.8 116.1ZM278.2 133.9L279.3 134.6L278.4 136.6L277.5 139.1L276.7 141L275.5 139.5L275 137.7L276.4 135.4L277.1 134.6L278.2 133.9ZM248.9 146.6L250.7 145L253 144.7L254.2 145.7L253 147.4L251 148.6L248.9 148L248.9 146.6ZM276.1 148L279.1 148.4L280 150.5L279.8 152.8L278.4 153.4L278.4 155.5L280 157.1L282.3 157.5L284.2 159.4L283.9 160.3L282.3 159.4L280.7 159L280.5 157.5L278.7 157.5L277.1 157.9L276.1 156.9L276.9 156.2L276 156.4L275.5 155.6L274.5 153.6L274.3 152.5L275.5 153.1L275.7 150.1L276.1 148ZM287.1 166L289.2 168.7L289.9 171.2L289 173.3L287.8 172L287.1 174.7L286.4 174.1L283.9 173.3L284.4 171.2L282.6 170.8L279.6 172L279.3 171.2L281.2 169.3L282.6 168.3L283.5 169.3L285.5 168.5L285.8 167.7L287.1 167.7L287.1 166ZM284.6 160.4L286.9 160.4L287.8 163.3L286.7 165.2L286.2 165.6L285.8 163.9L284.8 163.7L284.8 162.5L284.6 160.4ZM279.3 161.7L281.9 162.3L282.8 163.7L282.3 166.8L281.4 167.6L280.3 166.2L280.7 164.6L279.1 164.6L279.1 161.9L279.3 161.7ZM268.4 168.9L273.6 164.4L273.6 162.9L273.2 163.5L271.3 165.6L268.4 168.3L268.4 168.9ZM275.5 158.6L277.5 158.6L278.2 160.2L277.5 161L276.6 159.8L275.5 158.6ZM249.6 183.2L251.1 182.1L252.6 182.8L254.2 183.2L255.1 181.3L258.5 179.9L260.8 177.2L263.3 176L264.7 174.7L265.8 173.9L267.2 171.9L268.4 172L269.5 173.1L270.4 174.2L273 175.3L271.6 177.2L270 177.6L269.3 179.5L269.7 181.7L272.2 184.2L270 184.6L269 186.3L268.8 188L267.4 189L266.5 190.4L266.8 192.3L265.6 193.8L263.3 194.8L262.4 194.8L262.2 193.3L260.1 193.3L258.5 192.9L256 193.5L255.8 192.3L253.9 192.5L252.3 192.3L251.9 189.4L250.3 186.9L250 186.3L249.4 184.4L249.6 183.2ZM218.2 174.7L221 175.5L223.2 175.4L225.1 177.2L226 178.5L228.5 180.1L229.9 181.5L232.2 182.8L234.7 184.2L236.1 185.3L237.7 186.1L237 188L239 188.4L239.5 190.2L240.2 191.1L241.8 191.3L242.8 192.5L242.3 194.8L242.5 196.7L242.3 198.4L241.1 198.3L239.5 198.5L238.1 196.9L234.2 194.5L231.9 191.9L229.8 188.3L228.3 186.3L226.9 185.1L226.2 182.8L223.7 181.3L222.3 179.7L220 177.7L218 175.3L218.2 174.7ZM240.9 200.4L242.7 198.5L244.5 198.8L247.1 199.3L248.7 200.2L252.8 200.6L254.2 199.5L257.8 200.6L258.3 201.2L260.8 202.1L261.9 202.3L261.9 204.1L259.2 203.5L255.8 203.6L251.9 202.7L249.1 202.2L246.4 202.2L243.9 201.6L240.9 200.4ZM274.3 184.9L276.8 183.6L281.2 184.3L285.3 183.2L286.7 183L285.3 185.5L282.1 185.6L278.2 185.3L275.5 185.3L274.9 186.7L275.2 188.2L277.1 189L278.7 188.2L281.6 187.5L282.6 188.3L280.5 189.6L278.7 190.2L280 192.9L280.7 194.6L281.9 196.2L280.7 197.7L278.4 196.2L277.7 194.2L276.8 191.9L275.5 193.1L275.7 195.8L275.7 197.7L273.6 197.9L273.4 195.6L272.5 193.5L272 192.1L272.9 189.4L274.1 187.3L274.3 184.9ZM300 188L303.4 187.1L306.8 188L307.5 190.4L308 191.9L309.1 193.1L311.4 191.7L313.5 190.6L315.5 189.4L319.4 190.9L322.2 191.7L326.3 192.9L329.7 194.2L332 195.6L333.8 197.1L336.4 198.5L338.4 199.1L338.5 200.2L336.6 200.3L337.7 202.2L339.6 204.1L341.9 205.1L343.5 206.4L345.3 207.4L344.6 208.3L342.3 207.6L338.9 207.2L337 206L335 204.1L332 202.4L329.7 202L328.1 203.5L328.3 204.9L326.3 205.3L322.9 205.1L320.6 203.3L317.8 203.5L316 203.7L315.1 202.9L317.1 201.4L318 200.4L316 197.9L313.7 196.4L310.3 195.4L306.8 194.2L304.5 194.7L302.2 192.3L305 191.4L306.4 191.1L303.6 190.9L301.8 189.5L299.7 189L300 188ZM282.8 207.6L285.1 205.3L287.4 204L290.8 203.6L291.5 203.8L288.5 205.3L286.2 206.4L283.9 207.6L282.8 207.6ZM265.6 203.5L269 203.2L272.9 203.7L272.5 204.5L269 205L265.6 204.7L265.6 203.5ZM274.3 203.7L278.2 203.5L281.6 203.3L281.2 204.3L277.1 204.7L274.3 204.5L274.3 203.7ZM272.5 205.8L275.2 205.8L276.6 207L274.8 207.6L272.5 206.6L272.5 205.8ZM262.2 203.1L264.9 203.3L264.5 204.5L262.4 203.9L262.2 203.1ZM291.9 182.4L293.1 181.7L293.5 183.6L294.7 184.2L293.5 185.1L294.7 185.7L293.1 188L292.4 186.3L291.9 184.2L291.9 182.4ZM293.1 192.5L296.5 192.1L299.5 193.1L298.8 194.2L295.4 193.5L293.1 193.3L293.1 192.5ZM288.5 192.9L290.8 192.7L291.3 193.8L289.6 194.3L288.5 193.5L288.5 192.9ZM339.6 197.7L343.5 196.7L346.9 196.4L348.5 195L349 196.4L346.9 197.9L344.6 199.1L341.2 199.1L339.6 198.1L339.6 197.7ZM345.3 191.7L348 193.1L350.3 195.2L350.1 196.2L348.7 194.2L345.7 192.3L345.3 191.7ZM354 197.5L357 200.4L355.6 200.2L354.2 198.5L354 197.5ZM358.3 200.2L360.9 201.4L360.4 201.8L358.1 200.6L358.3 200.2ZM362.5 201.8L366.1 203.7L365.7 204.1L362.2 202.4L362.5 201.8ZM365.4 205.6L368.2 206L368.2 206.8L365.7 206.6L365.4 205.6ZM367.7 203.7L369.6 206L368.9 206.2L367.5 204.3L367.7 203.7ZM369.3 207.6L371.6 208.2L371.4 208.8L369.3 208.2L369.3 207.6ZM381.5 216.7L382.8 217.4L382.8 218.6L381.7 218.6L381.5 216.7ZM382.8 219.4L384.2 220L383.8 220.7L382.8 220L382.8 219.4ZM375.5 227.9L378.9 229.8L382.4 232.5L381 232.5L377.8 230.4L375.5 228.3L375.5 227.9ZM406 222.5L408.5 222.3L409.2 223.6L407.1 224.2L406 223.4L406 222.5ZM408.7 221.1L411.9 219.8L412.1 220.5L409.9 221.5L408.7 221.1ZM182.9 166L185.2 167.7L186.2 168.7L187.5 171.2L186.8 173.1L184.6 174L183.2 173.7L182.8 172L182.7 169.7L182.9 167.7L182.9 166ZM326.3 208.4L327 209.1L328.6 213L328.6 215.3L330.9 215.9L332.7 217.4L332.9 220L333.8 221.3L334.5 223.6L336.1 226L338.9 227.7L341.6 230L343 232.5L345.3 233.5L345.3 234.9L347.6 236.6L350.1 238.7L350.8 241.2L351.5 243.2L351.7 245.6L350.6 249L349.9 251.9L347.6 254.4L346.2 256.5L345.3 258.8L343.5 261.9L343.2 263.9L338.9 264.8L336.4 266.2L335.2 267.2L333.2 266.2L331.8 265L328.6 266.7L325.1 265.7L322.6 265.1L319.9 262.9L319.4 260.6L317.1 260L317.1 258.3L316.2 257.1L315.5 259L313.7 259.2L314.8 257.1L315.5 254.6L313.7 256.1L311.4 258.1L310.5 258.5L309.6 257.7L307.3 254.6L305.9 252.7L302.2 252.5L300 251.5L295.4 251.8L290.8 253L287.4 253.8L283.9 254.6L282.8 256.5L279.3 256.5L274.8 256.6L272.5 257.6L270.2 258.9L266.8 258.8L263.5 257.4L263.3 255.9L264.9 255.2L265 252.5L264 249.4L263.1 247.4L262.4 245.9L261.3 243.2L259.7 240.5L260.8 240.1L261.5 240.7L260.3 238L259.7 236.8L260.6 233.7L261.3 231.4L262.4 231.4L264.5 230.6L267.2 228.9L270.2 228.4L272.5 227.7L275.9 227.3L278.2 225.6L279.8 223.6L280 221.5L281.4 220.5L283 222.1L283 220L285.1 219.4L285.8 218L288 215.9L290.3 214.9L292.6 216.3L293.5 217.4L295.1 216.9L296.7 217.1L297 214.7L298.4 213.4L299.5 212L301.1 211.6L303.4 211.3L303.6 209.9L305.7 210.7L309.1 211.3L311.4 211.6L313.2 211.1L312.8 213.6L311.2 214.7L310.3 216.9L313 219L315.3 220.2L318.3 221.5L319.6 222.5L322.4 222.5L323.5 220L324.2 216.3L324.2 213.2L324.9 211.1L325.4 209.1L326.3 208.4ZM331.3 270.5L335.4 271.4L339.6 271L339.6 273.7L338.6 275.7L336.6 276.6L334.3 276.3L332.7 274.3L331.3 271.8L331.3 270.5ZM395.4 257.5L396.8 258.8L399.1 259.4L400.2 261.4L400.7 262.7L402.1 262.1L402.8 263.7L405.3 264.8L407.6 264L408.8 264.3L407.6 266.4L406.2 267.2L405.1 268.1L405.3 269.1L403.7 271L401.4 272.4L400.2 271.8L400.9 270.1L400.7 269L398 267.7L399.8 266.4L400.2 264.5L399.6 262.7L398.9 261.6L396.6 259.2L395.4 257.5ZM395.4 270.1L396.4 271.6L399.1 271.2L398.6 272.8L397.7 274.1L395.7 275.9L396.4 277L392.2 278L390.9 281.3L388.6 282.7L385.6 282.8L383.5 281.9L381.2 281.3L382.4 279.2L385.1 277.4L388.8 276.1L391.3 274.7L392.5 272.8L394.1 271L395.4 270.1ZM28.4 107.6L30.7 107.2L35.7 107.1L34.6 108.9L34.6 110.3L33 110.1L29.8 108.9L28.4 108.1L28.4 107.6ZM18.8 101.6L21.1 100.9L22.4 102.3L22 105.2L20.6 105.6L19.2 105.4L19.2 102.9L18.8 101.6ZM19.7 98.5L21.5 97.3L21.9 98.9L21.3 100.6L20.1 100.4L19.7 98.5ZM53.8 112.8L56.1 113L60.2 113.2L59.8 113.9L56.6 114L53.8 113.3L53.8 112.8ZM74 113.9L75.6 113.1L79.1 112.4L77.9 113.9L75.6 114.7L74.2 114.4L74 113.9ZM157.3 287.1L159.4 287.1L161.4 288.1L161 289L158 289.2L157.5 288.1L157.3 287.1ZM466 38.6L474 39.5L480.8 40.5L487.7 41L494.6 41.4L501.4 42.1L506 42.4L510.6 43.6L514 42.8L517.5 42.4L522.1 41.8L526.6 41.2L531.2 40.4L532.4 41L536.9 42.6L539.2 41.4L542.7 42.4L547.2 42L554.1 43.5L559.8 43.9L563.3 45.1L561 46L567.9 46.2L572.4 45.6L575.9 46.6L577.5 48L578.6 47.6L578.2 45.7L581.6 44.9L585 45.5L590.7 46L595.3 45.9L598.8 44.9L601.1 44.4L604.5 45.1L604.5 47L606.1 47.2L605.6 45.5L607.9 44.3L604.5 42.4L603.3 41L605.2 38.7L607.9 37.3L611.4 38.3L612.5 40.4L614.1 42.2L617.1 42.4L617.8 44.5L620.5 43.1L622.8 44.9L622.8 47L625.1 47L627.4 45.5L628.3 43.5L630.8 41.7L635.4 42L638.1 43.1L637.7 44.5L635.4 45.5L637.7 46.6L637.7 47.8L633.1 49L629.7 49.1L627.4 48.6L627.4 49.7L623.9 51.1L624.6 52.8L620.5 53.8L618.2 54.4L615.9 54.6L613.6 56.3L611.4 58.2L608.6 60.2L607.5 62.1L607.2 64.2L608.6 64.7L611.4 64.8L612.5 67.7L613.6 68.3L618.2 68.3L622.8 69.3L623.9 70.4L629.7 71.8L634.3 71.9L635.9 72.2L636.1 75.6L636.3 76.8L638.1 78.2L640 80.1L641.8 80.5L643.6 79.7L643.9 77.6L643 75.1L642.3 73.5L646.8 71.4L648 70.4L649.1 68.3L646.8 66.2L644.6 64.8L645.7 63.1L646.8 62.1L645.7 60.4L645.7 57.3L646.8 56.8L651.4 57.3L655.5 57L659.4 58.6L660.6 59.6L664 59.8L665.2 61.7L664.5 64.2L667.9 65.8L672 64.8L674.3 63.1L676.2 61.3L677.8 63.1L680 65.2L682.3 67.3L683.5 69.3L686.2 71.4L689.2 72.5L691.5 73.5L693.1 74.5L696.1 76.6L696.8 78.2L694.2 79.7L689.9 80.3L686.9 82.3L682.3 82.3L677.8 82.2L672.3 82.4L669.7 84L667.2 85.1L664.7 86.7L661.7 89.2L664 88.6L667.5 86.1L672 84.7L675.9 84.7L677.1 85.3L676.4 86.5L673.2 86.9L675.5 87.8L675.9 89L676.6 90.7L678.2 91.1L680 91.5L682.8 91.7L683.5 91.1L684.6 89.2L686 89.2L687.1 91.1L684.6 92.5L678.9 94L675.5 95.8L673.6 96.3L672.7 94.8L673.6 94L676.6 92.5L675.9 91.9L674.3 92.5L672.9 92.6L670.9 92.9L670.9 93.8L667.9 94.6L666.3 95L663.6 95.9L662.4 97.1L662.4 98.1L661.7 98.6L662.6 99.5L664 99.3L664 100L662 100.4L660.8 100.4L659.4 100.8L657.2 101L655.5 101.6L659.4 101.4L658.1 101.9L654.9 102.4L654.9 103.9L653 105.6L651.9 104.7L652.3 106L652.3 107L651.2 108.5L650.3 109.5L649.6 107.2L649.4 105.2L648.9 107.6L649.6 109.7L650.5 110.5L651.4 113.2L649.1 114.5L646.8 115.3L645.7 116.1L643.4 117.2L641.4 118.5L639.3 119.9L637.9 122.1L637.9 123.6L638.8 125.9L639.7 127.5L641 130.6L640.9 132.9L640.2 134.1L638.6 134.2L637.2 132.7L636.5 131.2L634.9 129.2L634.9 127.1L633.6 125.2L632 124L629.7 124.9L628.1 124L626.2 123.4L623.9 123.6L622.8 123.2L620.5 123.5L619.1 123.8L619.6 125.9L620.1 126.3L618.2 126L615.9 125.9L613.6 125L610.2 124.7L607.5 125.4L604.9 126.9L602.2 128.5L601.3 130.4L601.7 132.5L600.6 135.6L600.4 140.1L601.7 143.2L604.3 146.6L606.8 147.8L608.2 148.7L611.4 148.2L614.1 147.7L615.9 146.6L616.9 145.2L617.3 142.8L620.5 142L622.8 141.6L625.1 141.7L625.6 142.6L624.2 144.5L623.9 146.3L623.3 148.4L622.6 148L622.1 150.1L622.1 152.1L620.7 153.4L622.8 153.7L625.3 153.6L627.4 153.2L630.8 153.5L633.3 154.8L633.3 157.3L632.9 159.6L632.7 161.7L632.7 163.6L634.3 165.6L635.9 166.9L637 167.7L638.8 168.1L640.7 167.5L641.4 166.9L643.4 166.5L645.7 167L647.1 168.4L645.9 171.4L645.2 169.7L644.6 168.5L643.2 167.8L642.3 167.8L641.6 168.7L640.2 169.3L641.1 170.9L639.1 171.4L638.8 170.2L637.2 169.7L635.9 169.1L634.5 169.7L633.6 168.7L632.7 168.8L632.9 167.7L630.6 166.4L629.9 165.7L629.4 166.5L627.8 165.4L628.1 163.7L626.2 161.9L624.4 160.2L623.7 159.4L621.7 159L618.7 158.3L616.4 157.5L613.2 156.3L610.2 153.8L607.9 152.8L606.1 153.2L603.3 153.9L599.9 153L595.6 151.4L591.4 149.7L590.3 149.1L587.3 148.4L585.5 146.9L583.2 145.5L582.3 144.1L583.3 143.6L582.7 141.8L580.7 138.3L577.9 135.6L575.2 133.7L573.8 133.1L573.8 131L571.1 128.5L568.1 126.7L566.5 124.4L565.3 122.1L564.2 121.4L561.4 120.5L561.7 122.1L562.8 124.6L565.1 126.7L566 128.3L567.2 129.8L569.2 132.5L570.6 134.6L571.7 136.2L573.7 137.9L572.7 138.9L571.7 137.7L569 135.8L567.4 135L567.6 132.5L565.1 130.9L563 130.2L561.2 128.8L563 128.3L562.8 127.1L561 125.2L559.4 123.8L558.7 122.5L557.3 120.4L556.2 119L555.7 117.8L553.2 116.4L553 115.9L551.4 115.6L548.4 114.9L547.9 113.4L545.2 110.5L543.8 108.7L543.8 108.1L542.7 107.6L541.1 105.8L540.8 103.9L539.5 102.7L540.1 101.4L539.9 99.8L539.2 97.7L540.1 95.8L540.4 94L540.5 90.7L540.1 89.6L538.8 86.1L541.5 86.6L543.8 88L543.1 84.9L542.2 84.2L539.2 83.2L538.1 82.2L534.7 81.1L532.4 80.3L531.7 78.2L530.1 76.6L527.8 75.1L525.9 73.9L525.5 72.5L523.2 71.6L522.1 70L519.8 68.5L517.9 67.7L516.6 65.6L514 65.6L511.8 65.8L508.5 64.4L504.4 63L500.3 62.2L495.7 62L493.4 61.7L490 60.7L486.6 60L484.7 61.1L485.4 62.1L482 62.7L478.6 63.7L476.7 63.8L477.4 62.7L477.9 60.9L480.8 59.6L478.6 60L476.3 61.1L474 62.9L471.7 64.2L471.2 65.8L468.2 67.1L466 68.3L462.5 69.6L459.1 71L455.7 72L452.2 72.7L449.9 73L447 73.4L448.8 72.5L452.2 71.2L455.7 70.4L459.1 68.9L461.4 67.7L463.7 66.2L464.8 64.6L461.4 64.6L457.9 65L453.8 64.9L453.4 63.5L453.4 62.1L449.9 62.5L447.6 61.3L446 60.9L444.2 58.8L445.4 56.9L447.6 55.7L451.1 55.7L454.5 54.9L455.7 53.2L452.2 53L447.6 52.8L445.6 52.8L443.1 52.4L439.4 50.5L443.1 49.3L447.6 48.5L449.2 49.5L453.4 49.5L454.5 48.6L452 47.8L449.5 47.4L447.6 46.4L445.4 45.3L442.6 44.8L444.2 43.7L448.8 43.6L451.1 42.4L453.4 41L457.9 40.2L462.5 39.6L466 38.6ZM647.1 168.4L648.4 169.7L649.6 167.9L651.2 166.8L651.4 164.8L652.9 163.4L654.4 162.9L657.2 162.5L659 161.7L660.1 160.5L661 161.8L659.7 163.5L660.4 164.8L661.5 163.6L663.3 162.7L663.6 162.2L664.5 161L664.6 162.5L666.8 162.7L668.1 163.9L668.6 164.6L670.9 164.4L673.2 164.4L675 165.4L677.3 164.7L680 164.2L682.6 164.2L681.2 164.6L681.7 165.6L684.6 166.4L684.9 167.7L686.9 168.9L689.2 169.7L691 172.1L693.8 173.9L697.9 174.1L700.7 174.3L704.5 176.1L706.2 177.6L707.3 179.1L708.7 182.4L709.8 184.2L709.6 185.9L708.9 186.3L707.1 186.5L708 187.5L711 186.7L713.2 186.8L713.2 189.2L715.5 187.6L719 188.6L721.7 190L722.9 191.5L724.9 191.3L728.6 192.3L732.7 192.2L736.1 194L738.9 196L741.9 196.9L743.5 197.1L743.7 198.3L744.5 201L744.4 203L742.6 206.3L739.6 208.9L736.1 213.2L735 216.9L735 220.5L734.5 223.4L733.4 226.9L732 228.3L730.4 231L730.4 231.8L728.1 233.8L725.4 233.8L721.9 234.5L718.3 236L714.6 238L713.2 239.1L713 241.2L713 243.4L712.6 245.5L709.8 247.6L707.1 250.5L705 252.9L702 256.1L700.7 257.5L698.5 258.6L695.6 258.5L692 257.6L690.6 256.9L690.6 257.9L693.3 259.8L693.1 261.2L694.5 261.9L692.6 265L689.2 266.4L684.6 267L681.9 266.6L681.9 269.1L681.7 270.8L678.2 271.5L675.5 270.8L675.2 272.2L677.1 273.9L678.7 274.7L676.6 274.9L675.5 275.9L674.8 278.4L673.9 279.5L669.7 281.5L670.9 282.8L673.6 284L673.4 285.5L669.5 288.4L667.5 290.4L666.3 291.9L665.9 293.1L667.7 294.7L665.2 295L662 295.6L661.7 297.7L658.3 297L656 296L653.3 295.4L652.6 292.9L651.9 289.8L651.4 286.7L651.2 283.6L653.7 281.3L655.3 279.5L657.2 276.3L654.2 275.9L654.4 272.8L655.5 270.1L656 267.9L656.7 263.3L657.8 259.8L660.1 255.9L660.4 254.7L660.6 250.5L660.9 248.3L660.6 245.3L662 242.2L662.9 238.9L663.1 235.2L663.7 231.8L663.7 228.1L663.3 224.6L660.8 222.7L657.6 220.9L652.1 218.2L649.6 215.3L649.8 214L647.6 211.2L646.4 209.1L645 207L644.3 205.1L643.4 203.1L641.4 200.6L639.7 199.1L638.4 198.5L638.6 196.9L638 195.9L640 193.5L641.4 192.5L641.4 191.3L640.4 191.9L639.1 191.1L639.4 188.4L640.9 186.3L641.1 184.6L643.6 183.3L644.8 181.1L646.8 180.5L647.8 178.3L647.1 176.6L647.3 174.7L646.8 172.6L645.9 171.4ZM667.2 295.3L668.1 296.6L669.5 298.1L675 299.4L672 300.3L667.9 301L664 300.6L660.6 298.9L659.4 298.1L662.9 297.3L663.1 296L665.6 295.2L667.2 295.3ZM684.2 293.5L686.9 292.5L690.4 292.5L692.2 293.1L690.4 294.1L688.1 294.6L685.1 294.1L684.2 293.5ZM629.9 141.1L632 139.3L634.3 138.7L635.6 138.4L638.8 138.5L641.1 138.8L643.4 139.9L645.7 140.1L647.5 141.4L650.3 142.5L652.6 143.5L654.5 144.4L652.6 145.1L650.7 145L646.4 145.2L647.5 144L645.5 143.5L644.6 142.2L642.3 141.4L640 140.7L637.7 140.3L636.1 139.9L634.3 140.4L632.2 140.8L629.9 141.1ZM653.8 148.3L656.2 147.8L658.6 147.9L657.6 146.8L656.2 145.5L657.8 145.1L660.1 145.2L662.4 145.3L664.2 145.6L665.9 146.3L667.7 147.7L667 148.6L664.2 148.1L662.4 148.5L660.8 149.9L659.9 149L658.3 148.6L655.3 148.9L653.8 148.3ZM644.9 148.5L648 148.1L649.8 149L648 149.6L645.2 149L644.9 148.5ZM670.4 148.1L674 148.3L673.6 149L670.4 149.1L670.4 148.1ZM682.6 164.2L684.7 163.9L684.6 165.4L682.6 165.5L682.6 164.2ZM645.2 134.3L646.2 134.6L646.6 136.2L645.7 136.6L645 135.4L645.2 134.3ZM643.4 131.2L645.9 130.8L646.8 131.4L644.6 131.5L643.4 131.2ZM723.8 62.5L720.1 61.7L714.4 60.2L711 58.4L708.7 55.9L705.9 53.4L704.1 50.7L701.3 47.8L701.8 45.5L704.1 44.1L707.5 43.1L705.2 41.6L699.5 40.8L698.8 40L701.8 38.9L697.2 37.3L696.1 35.2L692.6 32.1L690.4 30L684.6 29L677.8 28.8L667.5 29L664 27.9L661.7 26.9L660.6 25.3L657.2 24.4L658.3 23.2L667.5 22.6L674.3 21.3L675.5 20.5L670.9 19.9L677.8 18.2L684.6 17L693.8 16.1L705.2 15.9L716.7 15.5L728.1 14.1L741.9 13.4L755.6 13.2L767.1 14.1L773.9 15.5L769.3 16.6L755.6 16.4L769.3 17.2L780.8 17.4L796.4 17.6L792.2 19L786.5 20.3L783.1 21.7L779.7 23.8L781.9 25.9L779.7 27.3L777.4 29.2L779.7 30.6L777.4 32.3L773.9 34.2L768.2 34.8L772.8 36.2L768.2 37.3L773.9 38.3L774.4 40.4L767.1 40L761.3 40.6L767.1 41L770.5 41.8L765.9 43.5L760.2 44.9L753.3 45.3L748.7 47L744.2 49.1L738.2 50.5L733.9 51.1L731.6 53.2L730.4 55.9L727.4 58L726.3 60L725.2 61.7L723.8 62.5ZM675.5 58.2L672 58L667.5 56.7L664 56.1L660.6 54.6L658.3 53.8L654.9 53L651.4 52.8L646.8 53.2L645.7 51.8L649.1 50.9L654.9 50.7L656 48.6L658.3 46.6L656 44.9L652.6 44.5L649.1 43.5L645.7 41.8L643.4 40.8L638.8 41.4L630.8 41.4L627.4 40.4L621.7 39.3L618.7 38.1L619.4 35.6L620.5 33.7L627.4 33.5L630.8 34.4L636.5 33.7L640 33.7L645.7 35.2L649.1 34.6L650.3 35.6L653.7 37.3L658.3 38.1L661.7 39.3L666.3 40.4L669.7 42L670.9 43.5L676.6 45.5L681.2 47L683.9 48.4L681.2 49.7L677.8 49.9L669.7 48.6L673.2 51.8L676.6 52.8L678.2 52.2L675.5 54.9L667.5 54.3L672 56.3L675.5 58.2ZM558.7 43.5L564.4 44.4L572.4 44.2L581.6 43.7L586.2 44.3L591.9 43.1L593 42L589.6 40.4L585 39.5L585 38.1L582.7 35.6L579.3 34.6L574.7 35.4L571.3 35.2L565.6 35.6L562.1 34.4L554.1 35.4L553 37.5L555.3 38.5L552.1 39.3L555.3 40.2L567.9 40.6L556.4 41L555.3 42L558.7 43.5ZM542.7 39.1L536.9 36.8L538.1 34.2L540.4 32.5L546.1 32.1L554.1 32.7L559.8 34.4L555.3 36.2L549.5 38.3L542.7 39.1ZM556.4 30.4L563.3 31.7L571.3 31.9L579.3 31.3L582.7 29.8L578.2 28.6L572.4 28.2L565.6 28.4L558.7 27.7L555.3 29L556.4 30.4ZM619.4 28.2L627.4 28.4L636.5 28.2L643.4 27.1L645.7 25.7L651.4 24.4L650.3 22.8L657.2 21.5L664 20.1L672 18.6L678.9 17.2L682.3 15.7L670.9 14.7L657.2 14.3L643.4 14.5L629.7 15.5L617.1 16.8L615.9 18.6L622.8 19.9L625.1 21.5L628.5 23L623.9 24.4L619.4 26.3L619.4 28.2ZM604.5 30L612.5 31.7L622.8 32.1L632 32.1L641.1 31.7L642.3 30.2L636.5 29.2L627.4 29.6L619.4 29L613.6 27.9L605.6 27.3L603.3 28.6L604.5 30ZM605.6 24.2L615.9 24.2L623.9 23L625.1 21.1L620.5 19.7L614.8 18.2L607.9 18.2L604.5 20.1L606.8 22.1L605.6 24.2ZM605.6 37.1L610.2 37.3L615.9 36L618.2 33.9L614.8 32.9L606.8 33.1L605.2 35.2L605.6 37.1ZM589.6 37.9L596.5 38.7L602.2 37.9L603.3 35.6L599.9 33.3L594.2 33.3L590.7 35.2L589.6 37.9ZM596.5 43.5L601.1 44.5L605.6 43.5L604.5 41.8L599.9 41.6L596.5 43.5ZM625.1 51.3L628.5 50.1L632 49.9L636.5 52.2L640.7 54.2L637.7 55.1L633.1 53.8L628.5 55.5L624.6 54.4L627.4 52.8L625.1 51.3ZM586.2 30.6L594.2 31.1L601.1 30L598.8 27.7L590.7 27.7L586.2 29L586.2 30.6ZM543.8 29L551.8 29.4L559.8 27.9L556.4 26.3L549.5 25.9L542.7 27.5L543.8 29ZM603.3 31.1L609.1 31.9L610.4 30.4L606.8 29.7L603.3 31.1ZM585 24.2L595.3 25.3L602.2 24.6L601.1 22.8L590.7 22.1L583.9 22.8L585 24.2ZM566.7 25.9L572.4 26.1L573.6 24.8L569 24.2L565.6 24.8L566.7 25.9ZM564.4 24.2L571.3 24.2L573.6 23.4L567.9 23L564.4 24.2ZM634.3 56.1L637.7 56.5L641.1 57.3L637.7 58L634.3 57.3L634.3 56.1ZM640 57.3L642.3 57.3L642.3 58.6L640.4 58.6L640 57.3ZM646.8 46L651.4 47L650.3 45.1L646.8 46ZM640 35.2L644.6 35.4L649.1 35L645.7 33.7L640 33.7L640 35.2ZM688.5 87.8L688.5 87.1L690.4 84.9L692 83.2L693.8 81.1L696.1 79.5L697.2 79.9L696.1 81.8L694.5 83.2L697.2 83L699.5 83.8L701.8 84.2L702.9 85.7L700.9 86.9L703.4 86.7L703.7 87.9L702.7 89.7L701.3 89.4L700.2 88.2L698.4 89.2L696.3 88.8L697.2 87.8L694.2 87.9L691.5 87.7L688.5 87.8ZM676.6 83L681.2 83.6L683 84.7L680 84.5L676.6 83ZM676.8 89.2L680 90.3L682.3 90.1L681.2 91.1L677.8 90.3L676.8 89.2ZM541.7 86.2L540.4 86.1L536.5 84.9L534.2 83.6L531.4 82.5L530.3 81.2L532.6 81L535.8 82L537.6 82.8L539.9 84.2L541.5 85.7L541.7 86.2ZM519.8 74.3L522.7 74.5L522.3 76.6L524.3 78.7L521.4 77L519.8 75.3L519.8 74.3ZM470.5 67.3L475.8 66.4L475.6 67.7L472.1 68.7L470.1 67.9L470.5 67.3ZM431.2 55.1L435 54.5L437.8 55.3L435.5 55.9L431.2 55.1ZM441.2 61.7L444.2 61.3L444.9 62.1L443.1 62.5L441.2 61.7ZM467 145.4L467.4 144.4L469.2 145.2L469.9 145.9L467.8 147.2L467.3 146.8L467 145.4ZM465.5 143L467.1 143.2L466.4 143.8L465.5 143ZM461.8 141.7L463 141.4L463.3 142.2L462.3 142.2L461.8 141.7ZM458.4 140.6L459.5 140.3L459.4 141L458.5 140.9L458.4 140.6ZM652.1 334.3L661.7 329.5L667.9 331.8L669.5 336L662.9 337.2L652.1 335.1L652.1 334.3ZM700.7 353.1L712.1 348.4L722.4 348.4L724.9 351.5L716.7 353.6L700.7 353.6L700.7 353.1ZM672.3 352.3L686.9 352.3L687.6 352.8L672.3 352.7L672.3 352.3ZM449.2 349.4L454.5 349L459.8 350.5L456.8 351.3L449.2 349.4Z"/>
<path id="fillp" d="M-13.5 112.2L-10.3 113.4L-6.6 113.2L-4.6 113.6L-2.3 112.6L0 112L3.4 110.7L6.9 110.1L11.4 110.1L16 109.7L19.7 109.9L22.4 109.1L23.6 109.3L25.2 109.7L24.3 111L24.3 112.6L25.4 113.4L24.5 114.7L23.1 115.5L24 116.5L25.6 117.6L28.2 118.4L30.5 118.2L33.2 119L34.8 119.4L35.7 121.1L38 121.7L40.8 122.3L43 123.6L44.9 123.4L45.8 122.3L46 120.1L47.2 118.8L49.5 118.2L52.2 118.6L53.1 119.6L56.1 120.3L57.7 120.9L61.8 121.5L65.3 122.1L68 122.1L69.6 121.2L71.4 121L73 121.1L74 121.5L74.5 124.2L74.6 125.2L75.6 127.3L76.9 128.8L77.9 130.6L79.2 132.9L80.6 135.4L81.3 136.8L81.5 138.5L83.8 140.3L84.5 141.8L85.2 143.2L85.2 145.7L85.9 147.8L88.2 149L89.3 151.7L90.4 154.2L92.3 155.3L94.3 156.5L97.1 159L98.7 160.2L99.4 161.7L98.5 162.5L99.8 163.5L101.9 164.8L104.4 164.2L107.6 163.3L111.1 162.9L114 162.5L117.2 161.7L117.2 164.4L116.1 166.6L114.5 169.5L112.9 172.4L111.1 175.5L109 178L106.2 180.7L103 182.4L100.3 184.6L98 186.9L95.9 189L93.9 190.6L92.3 191.9L91.4 194.4L90 196.2L88.8 198.7L90 200.8L90 203.5L90.9 206.2L92.5 208.2L92.7 211.1L93 214.5L93.4 216.9L92 219.6L90 221.3L87.5 222.1L84.7 223.6L83.3 225.2L81.3 226.7L79.7 227.5L79.9 229.4L81.1 231L81.3 233.1L81.3 235.8L80.4 237L77.6 238.3L75.3 239.3L75.1 241.4L74.9 243.6L74.2 245.5L72.1 247.2L70.5 249.2L68.7 251.1L66.2 253.4L63.9 254.8L60.9 256.3L58.8 256.7L56.8 256.9L53.8 256.7L51.1 256.9L48.5 257.5L45.8 258.3L44.2 257.7L42.4 257.3L41.9 255.6L41 254L41.9 252.3L40.3 250.1L38.9 247.4L37.8 245.5L35.9 243.4L34.6 241.4L34.1 238.5L33.2 235.6L33 233.1L31.8 231L30.5 228.9L28.9 226L27 223.6L26.8 220.9L27.2 218.8L28.2 216.1L29.3 213.6L30.9 211.8L31.6 209.3L30.9 207L30 204.9L30.2 203.3L29.3 201.2L28.2 198.9L27.9 197.1L27.2 196L25.4 194.4L22.9 192.3L21.3 190.4L20.1 188.2L20.8 186.9L21.5 185.7L21.8 184.2L22.2 182.4L22.4 180.7L22.4 179.3L21.8 178.1L20.4 177L19 176.9L16.7 177.2L14.7 177.4L12.8 176.8L11.4 174.7L10.1 173.3L7.8 173.1L5.5 173.3L3.2 173.9L1.8 174.3L0 174.7L-2.3 175.7L-4.6 176.5L-6.9 175.7L-9.2 175.5L-11.4 175.7L-13.7 176.4L-17.2 177.3L-19.2 176.6L-21.1 175.5L-23.4 173.9L-24.7 173.1L-26.3 172L-28.4 171L-29.8 169.5L-30.5 168.5L-30.5 167L-32.1 165.6L-33.9 163.9L-34.8 163.3L-36.6 161.9L-38.2 160.6L-38.5 159L-38 157.5L-39.4 156.1L-40.1 155.8L-38.7 154.4L-37.8 153L-37.6 151.1L-36.9 149L-37.1 146.8L-37.6 145.7L-37.3 144.3L-39 142.8L-38.7 141.2L-37.6 139.9L-36.6 137.7L-34.8 135.8L-33.9 133.9L-33 132.1L-31.1 131L-30 129.2L-27.9 128.1L-25.6 126.9L-23.6 125.6L-22.2 124.4L-22 123L-22.4 121.5L-21.3 119.4L-19.7 117.6L-17.4 116.6L-15.6 115.7L-14.4 113.6L-13.5 112.2ZM810.8 112.2L814 113.4L817.7 113.2L819.7 113.6L822 112.6L824.3 112L827.7 110.7L831.2 110.1L835.7 110.1L840.3 109.7L844 109.9L846.7 109.1L847.9 109.3L849.5 109.7L848.6 111L848.6 112.6L849.7 113.4L848.8 114.7L847.4 115.5L848.3 116.5L849.9 117.6L852.5 118.4L854.8 118.2L857.5 119L859.1 119.4L860 121.1L862.3 121.7L865.1 122.3L867.3 123.6L869.2 123.4L870.1 122.3L870.3 120.1L871.5 118.8L873.8 118.2L876.5 118.6L877.4 119.6L880.4 120.3L882 120.9L886.1 121.5L889.6 122.1L892.3 122.1L893.9 121.2L895.7 121L897.3 121.1L898.3 121.5L898.8 124.2L898.9 125.2L899.9 127.3L901.2 128.8L902.2 130.6L903.5 132.9L904.9 135.4L905.6 136.8L905.8 138.5L908.1 140.3L908.8 141.8L909.5 143.2L909.5 145.7L910.2 147.8L912.5 149L913.6 151.7L914.7 154.2L916.6 155.3L918.6 156.5L921.4 159L923 160.2L923.7 161.7L922.8 162.5L924.1 163.5L926.2 164.8L928.7 164.2L931.9 163.3L935.4 162.9L938.3 162.5L941.5 161.7L941.5 164.4L940.4 166.6L938.8 169.5L937.2 172.4L935.4 175.5L933.3 178L930.5 180.7L927.3 182.4L924.6 184.6L922.3 186.9L920.2 189L918.2 190.6L916.6 191.9L915.7 194.4L914.3 196.2L913.1 198.7L914.3 200.8L914.3 203.5L915.2 206.2L916.8 208.2L917 211.1L917.3 214.5L917.7 216.9L916.3 219.6L914.3 221.3L911.8 222.1L909 223.6L907.6 225.2L905.6 226.7L904 227.5L904.2 229.4L905.4 231L905.6 233.1L905.6 235.8L904.7 237L901.9 238.3L899.6 239.3L899.4 241.4L899.2 243.6L898.5 245.5L896.4 247.2L894.8 249.2L893 251.1L890.5 253.4L888.2 254.8L885.2 256.3L883.1 256.7L881.1 256.9L878.1 256.7L875.4 256.9L872.8 257.5L870.1 258.3L868.5 257.7L866.7 257.3L866.2 255.6L865.3 254L866.2 252.3L864.6 250.1L863.2 247.4L862.1 245.5L860.2 243.4L858.9 241.4L858.4 238.5L857.5 235.6L857.3 233.1L856.1 231L854.8 228.9L853.2 226L851.3 223.6L851.1 220.9L851.5 218.8L852.5 216.1L853.6 213.6L855.2 211.8L855.9 209.3L855.2 207L854.3 204.9L854.5 203.3L853.6 201.2L852.5 198.9L852.2 197.1L851.5 196L849.7 194.4L847.2 192.3L845.6 190.4L844.4 188.2L845.1 186.9L845.8 185.7L846.1 184.2L846.5 182.4L846.7 180.7L846.7 179.3L846.1 178.1L844.7 177L843.3 176.9L841 177.2L839 177.4L837.1 176.8L835.7 174.7L834.4 173.3L832.1 173.1L829.8 173.3L827.5 173.9L826.1 174.3L824.3 174.7L822 175.7L819.7 176.5L817.4 175.7L815.1 175.5L812.9 175.7L810.6 176.4L807.1 177.3L805.1 176.6L803.2 175.5L800.9 173.9L799.6 173.1L798 172L795.9 171L794.5 169.5L793.8 168.5L793.8 167L792.2 165.6L790.4 163.9L789.5 163.3L787.7 161.9L786.1 160.6L785.8 159L786.3 157.5L784.9 156.1L784.2 155.8L785.6 154.4L786.5 153L786.7 151.1L787.4 149L787.2 146.8L786.7 145.7L787 144.3L785.3 142.8L785.6 141.2L786.7 139.9L787.7 137.7L789.5 135.8L790.4 133.9L791.3 132.1L793.2 131L794.3 129.2L796.4 128.1L798.7 126.9L800.7 125.6L802.1 124.4L802.3 123L801.9 121.5L803 119.4L804.6 117.6L806.9 116.6L808.7 115.7L809.9 113.6L810.8 112.2ZM112.9 211.1L114.3 213.6L115.2 216.5L115.5 218.2L114.1 218.6L113.6 220.2L113.6 222.1L112.9 224.2L111.7 227.7L110.6 231L109.2 234.3L108.1 237.4L106.2 238.5L104 239.3L101.9 238.5L100.3 236.6L99.6 234.1L99.1 231.8L100.1 229.8L101.4 227.9L101.8 226L100.7 223.8L100.7 221.9L101.9 220L103.7 219.4L105.8 219L107.6 218L109.4 216.5L109.9 214.7L111.5 213.6L112 212L112.9 211.1ZM74.5 124.2L74.9 125.9L76 127.5L77.2 128.5L78.5 128.9L79.1 127.3L79.9 125.2L79.8 127.1L79.5 128.2L80.8 128.5L82 130L83.6 132.5L85.2 134.8L87 136.6L88.8 139.1L89.5 141.8L90.9 143.9L93 145.7L94.6 148L96.2 149.9L97.5 151.9L98 154.2L98.5 156.1L99.1 158.8L99.8 160.1L101.4 160.1L103 159.8L106.5 158.6L109.9 157.3L112.7 156.2L115.6 155L119.1 154L119.8 152.6L121.8 151.7L124.1 151.1L126.6 149.9L128.9 149.1L130.5 147.3L132.2 147L132.3 144.5L133.9 144L134.9 142.2L136.2 140.3L136.9 139.6L135.8 138.9L134.2 137.4L131.7 136.8L129.8 135.8L129.1 134.6L128.9 133.1L129.1 131.9L128.3 132.4L126.9 133.7L124.8 135.6L122.5 136.4L120.4 136.3L118.6 136.6L117.7 135.6L118.1 134.6L118 132.8L117.2 132.2L116.3 133.4L116.3 135.1L115.2 133.7L114.8 132.1L114.4 130.6L112.7 129.4L111.5 127.7L110.1 126.3L109.7 125.4L110.4 124.3L112 123.5L113.6 124.1L114.7 123.8L116.1 125.9L116.5 126.7L118.1 128.7L120.4 129.6L122.5 130.8L125.2 131.4L127.3 130.8L128.9 130.1L130.3 130.4L131 132.5L132.3 133.2L134.4 133.4L136.9 133.7L139 133.9L141 134.2L142.9 134.2L145.4 134L148.1 134.1L150.4 133.7L152.3 133.5L152.7 134.9L154.1 136L154.8 136.8L156.2 137.2L157.8 137.9L159.4 138.9L160.7 138.8L158.4 139.9L157.9 140.2L158.7 141.2L160.3 142.6L162.3 143.5L164.4 142.8L165.5 141.6L166.1 140.1L166.6 141.6L166.7 143.9L166.7 147L167.1 149L167.8 151.3L168.8 154L169.9 156.3L171.3 159.6L172.9 162.5L174.5 165.7L175.4 167.9L177.5 169.5L178.8 168.5L179.1 167.5L180.9 167L182.8 165L182.7 162.5L183.4 160.8L183.9 159L183.4 156.7L183.4 154.6L185 153.5L186.4 152.5L188.4 151.7L190.7 149.7L193.3 147.6L194.9 146.1L196.9 145.1L198.7 143.7L199.2 142.3L201.3 141.5L203.6 141.6L206.1 141L207.4 139.7L208.8 139.7L210.2 140.1L210.7 142.2L211.3 143.7L212.7 144.7L214.5 146.3L215.9 147.6L216.4 150.1L215.9 153L217.1 153.5L218.4 153.7L220.3 152.6L221.9 151.1L222.6 151.4L223.5 152.4L223.7 154.6L224.6 157.3L225.5 160.4L226 163.5L225.5 165.6L225.1 167.7L225 169.7L226 170.4L227.4 171.4L228.5 172.3L229.4 173.2L229.8 175.1L230.3 177.4L231.3 179.3L232.2 180.7L234 181.7L235.8 183L237 183.6L238.5 183.5L238.6 182.4L237.7 180.9L236.8 179.1L236.8 177.6L236.1 175.3L234.2 173.6L232.9 172.4L231.3 172.1L230.3 171.4L229.4 168.9L228.7 167.3L227.4 167.3L227.1 164.8L228.1 162.9L228.5 161.7L229 160.2L229 158.8L230.1 158.4L231.1 158.8L231 160L232.4 160.2L234 160.8L235.4 161.9L236.1 163.5L237.2 164.6L238.8 164.6L240 165L240.2 166.2L240 168.3L241.1 168.1L242.7 166.8L244.3 165.4L245.2 164.9L247.1 164.2L249.4 162.9L250 161.5L250.3 159.6L250.2 157.7L249.4 155.3L248 153L246.4 151.9L244.3 149.9L243.6 149L242 147.4L242.5 145.3L243.9 144.3L244.5 143.2L246.6 142.2L248.2 141.6L249.8 141.8L251 142.8L251.2 144.3L252.8 144.3L253 142.6L255.3 141.8L257.6 141.2L259.9 140.3L261.5 140.1L263.3 139.3L265.6 138.9L267.2 138L269.7 136.6L270.4 135.6L272.2 134.3L273.6 132.7L274.5 130.8L276.4 128.3L278.4 126.5L279.1 125L279.3 124.2L277.1 123.4L275.9 123.6L277.7 122.8L279.1 122.3L278.9 120.9L277.5 119.6L276.8 118.2L275.5 115.9L273.4 114.5L273.2 113.6L274.1 112.6L275.5 111.6L277.1 110.5L279.3 109.9L280.7 109.1L279.6 108.7L278 108.6L276.4 108.1L274.5 108.9L272.5 109.3L272.2 108.3L270.2 107.2L269.5 106.2L269.7 105.2L271.3 105.4L273.2 104.5L273.9 103.6L275.9 102.9L277.1 101.7L278.9 101.6L279.8 102.4L278.4 103.7L277.7 105.2L277.5 106.1L278.9 105.7L281.2 104.5L283 103.9L284.6 103.6L285.5 104.3L286.7 104.7L286.7 106.2L285.8 107.4L286.9 108.1L288.7 108.3L289.9 108.9L290.3 109.9L289.2 110.5L289.6 111.8L289.6 113.4L289.2 114.7L289.9 115.3L291.7 114.7L292.6 114.3L294.5 114.1L295.6 113.6L296.3 112.8L296.4 111.6L296.3 109.7L295.6 108.3L294.5 107.2L293.1 105.8L291.8 105.2L291.9 103.9L293.5 103.3L296.1 102.1L297 100.6L297.2 99.8L298.8 98.7L299.5 98.3L300.4 97.3L302 97.1L302.9 96.7L304.3 97.7L306.6 97.5L309.3 96L311.4 94.2L313.7 92.1L316 89.8L317.8 88L320.1 85.9L321.2 84.9L321.7 82.8L322.2 80.7L323.8 78.2L323.5 76.6L321.2 75.6L319.4 74.1L317.1 74.9L314.4 74.9L314.1 73.7L312.5 74.5L309.8 73.1L312.5 71.8L314.8 70L317.1 68.3L319.9 66.7L321.7 65.2L324.7 64.2L327.9 63.4L332 63.3L336.6 63.5L340.7 63.3L342.1 62.6L345.3 63L348.5 64.2L351 63.8L353.8 63.1L355.4 63.5L355.4 61.7L358.3 60L360.6 58.6L364.1 58.4L367.3 58.2L366.8 60.4L370.5 61.1L372.8 58.8L374.4 57.5L376.7 56.7L375.5 58.4L373.9 59.4L373.2 60.4L370.7 61.5L367.7 62.9L366.2 64L363.8 65.4L360.2 66.9L358.8 68.1L357.2 71.2L356.5 74.5L357.7 77.4L358.8 80.9L360.6 79.7L362.7 78L363.3 76.6L366.1 76.2L365.9 74.5L367.3 73.5L370.2 73.4L371.2 72L370.5 70.4L372.3 70L373.9 70.2L373.7 68.3L372.8 66.7L373.2 65.2L375.1 63.8L377.3 62.3L379.6 61.7L380.8 62.4L382.4 61.3L385.8 60.9L389.9 62.2L390.6 61.3L393.8 60L397.3 58.8L399.6 58.4L403 57.5L406.4 56.8L410.5 57.3L410.8 55.7L409.4 54.6L406.4 53.2L406.4 52.3L408.7 52.6L412.1 51.8L414.4 50.7L414.4 49.1L416.7 50.5L421.3 50.8L425.9 52.4L428.2 53.2L430.5 52.2L432.8 50.5L435.7 49.5L432.8 48.4L430.5 47.7L425.9 47.5L423.6 46.8L419 46L415.6 44.7L412.1 43.6L408.7 42.8L404.1 41.9L398.4 41.7L393.8 41.5L390.6 41.2L389.9 42L390.4 43.7L387.6 43.3L385.8 42.1L384.2 41.9L380.1 42.4L375.5 42L372.1 42.1L369.3 42.6L366.4 41.5L365.7 40.2L361.8 39.3L357.2 39.1L351.5 39.5L348 39.5L344.6 38.2L341.2 36.8L335.4 36.5L329.7 35.8L322.9 35.5L320.6 36.2L318.7 36.8L320.1 38.3L314.8 38.7L310.3 38.1L305.7 38.4L303.4 37.5L301.1 39.7L297.7 39.5L296.1 37.5L294.2 37.3L297 35.4L293.1 34.4L289.6 34.1L286.2 34.2L282.8 34.6L282.1 35.3L278.2 35.2L274.3 35.1L271.3 34.1L265.6 33.8L261 33.9L259.4 34.4L257.6 33.2L254.2 33.1L251.4 33.1L247.3 33.9L243.9 34.8L243.2 33.3L246.1 32.9L250.7 32.3L255.3 31.7L258.3 29.6L260.6 29.2L256.4 27.7L247.3 27.5L245 26.7L241.6 25.8L238.8 25.4L233.6 26.1L230.1 27.9L226.7 28.8L223.2 29L218.7 28.8L212.9 29.2L207.2 29.8L202.6 30.2L199.2 31.1L197.6 32.5L198.1 33.3L192.3 33.7L188.9 33.8L184.1 34.2L184.6 35.6L185.2 37.3L188.4 37.7L184.6 37.5L182.3 35.8L178.6 35.6L175.6 36.8L173.3 37.5L171.7 35.8L171.3 36.4L170.8 39.3L169.4 42.4L169.9 44.7L168.1 47L165.3 48.9L162.6 48.6L163.9 47L164.6 44.3L166 42.6L165.5 40.4L166 38.1L166.5 35.4L163.7 35L160.1 35L158 35.8L156.8 38.3L153 39.5L152.7 41.8L153.4 43.5L156.6 44.9L151.1 43.7L147.7 42.8L141.3 41.9L138.5 42L137.4 43.5L136.2 44.8L130.5 44.3L125.9 44.4L123.6 45.1L122.5 44.9L124.1 43.6L120.2 44.5L114.5 45.5L111.1 46.2L107.6 47.6L106.9 48L104.2 46.4L102.6 44.5L99.4 44.3L100.3 46L101.2 48.6L101.2 49.7L99.6 49.5L96.6 48.6L94.6 49.7L91.6 50.7L91.1 52.6L92.5 52.6L87 52.1L83.6 51.5L85.9 53L86.8 54L83.6 54L80.1 53L79.5 50.7L76.7 48.9L74.2 47.3L79 48.4L83.6 49.2L88.2 49.6L92.7 48.9L94.3 47.6L93.9 46.2L91.6 45.3L87 44.7L82.4 43.5L76.7 42.8L73.3 41.8L71 41.8L68.7 42L67.5 41.4L71 40.6L68.7 40L65.3 39.3L61.8 39.3L58.8 39L56.1 39.5L53.8 40.4L50.4 40.8L46.9 41.6L43.5 42L40.1 43.1L36.6 44.5L33.2 45.1L34.3 47L30.9 48.2L29.3 49.7L27.9 51.1L25.9 52.6L24 53.8L21.8 54.6L18.3 55.3L16 56.5L13.3 57.3L11.4 58.4L11.2 60L11.7 61.3L11.9 63.1L12.8 64.4L13.7 65.6L16 66.2L18.3 66L20.6 65L22.4 64.2L24 63.5L24.5 62.3L25 63.8L25.6 64.4L25.9 65.6L27 66.9L28.2 68.3L29.3 69.3L28.9 70.4L29.8 71.6L32.5 71.6L33 71L33.7 70.1L36.4 70.2L37.6 68.9L38.2 66.9L38.7 65L41 64.4L43.3 62.9L42.8 61.7L39.6 60.7L39.4 58.8L39.8 57.1L42.4 55.9L44.6 54.9L46.9 54.1L48.8 52.6L49.2 51.1L51.1 50.5L53.8 50.1L55.3 50L57.9 51.5L56.3 53.2L53.8 54.4L50.4 55.7L48.8 57.3L49.2 59L48.8 60.7L50.8 61.3L52.7 62.4L57.1 61.8L61.6 61.2L65.3 60.9L68 62.1L69.1 62.2L66.4 62.4L64.1 63.1L60.7 63L56.7 63.2L53.8 63.8L53.8 64.8L55.6 65.5L55.8 67.1L55.2 68.2L53.4 68.3L51.7 66.9L49.5 67.4L48.2 69.3L48.2 71L46.9 72.6L45.7 73.1L44.4 73.8L42.7 73.7L42.1 73L38.9 73.3L36.6 74L33.4 74.7L31.6 74.3L30.7 73.3L28.4 73.9L25.2 74.5L25 73.7L22.9 73.5L22.7 72.9L22 71.6L22.4 71.4L23.4 70.1L25 69.6L23.6 68.5L24 67.5L24.3 66.8L22.7 67.2L20.6 68L19 68.5L18.7 69.8L18.5 71.3L19.7 72.2L19.9 73.7L20.4 74.7L19.7 75.3L18.5 75.5L16.5 75.3L16 75.9L14.2 75.8L12.4 76L11 76.7L10.3 77.8L9.4 78.7L8.2 79.7L7.3 80L5.5 80.6L3.7 80.9L3.7 82.4L2.5 82.9L0.2 83.8L-0.7 84.2L-2.7 84.1L-3 83.4L-4.4 83.4L-3.7 85.5L-4.6 85.6L-6.9 85.3L-9.2 85.5L-10.9 86.1L-9.8 87.4L-7.8 87.6L-5.7 88.4L-5 88.5L-4.6 89.6L-2.7 90.8L-2.5 91.9L-2.7 93.9L-3.4 96.3L-4.1 96.6L-6.9 96.5L-8.7 96.4L-13.1 96.2L-16 96.2L-18.3 95.7L-19.2 96.5L-21.2 97.3L-20.4 98.7L-20.1 99.6L-19.9 101.1L-20.4 103.1L-21.4 104.8L-21.8 106.1L-20.8 106.3L-20.1 106.7L-20.1 107.7L-20.5 109.7L-18.1 109.7L-16.9 109.3L-15.8 109.4L-14.5 110.5L-13.7 111.4L-12.8 111.8L-12.3 111.5L-10.1 110.3L-8 110.3L-5.6 110L-4.8 110.2L-3.7 108.9L-1.6 108.5L-1.5 107.6L-0.3 106.8L0.5 106.1L-0.5 105.2L-0.7 104.5L0 103.5L1.6 102.3L2.1 102.1L2.7 101.2L5 100.7L7.3 99.6L7.6 98.7L6.9 98.1L7.1 97.1L8.5 96.5L10.5 96.6L12.3 96.7L14.2 97.2L15.3 96.8L16.7 95.8L18.8 95.3L20.4 94.4L22.4 95.1L23.6 96.2L24 97.4L25.4 98.5L27 99.2L28 99.9L28.9 100.5L31.1 100.9L32.2 101.8L32.7 102.2L33.9 102.2L34.3 103.1L35.8 103.4L36.2 104.5L36.9 105.6L37.1 106.2L36.3 106.5L35.8 107.6L36.9 107.7L38 107L38 106L39.3 105.6L39.2 104.7L37.8 104L38.7 102.6L39.5 102.6L41 103L41.4 103.9L42.4 103.3L41.2 102.2L38.7 101.1L36.5 100.1L37.1 99.6L35 99.6L33.7 99L32.5 98.3L31.1 96.2L28.9 95.1L28.2 94L28.6 93.3L28.2 92.3L30 91.8L31.5 91.8L30.9 92.1L31.1 93.3L32.7 92.5L34.1 93.2L34.8 94.8L36.4 95.8L37.7 96.3L39.8 97.3L41.4 98L42.8 98.5L44.3 99.6L44.5 100.8L44.3 102.3L45.7 103.8L46.3 104.5L47.4 105.6L48.3 106.9L49.7 107.1L48.8 108.1L49.6 110L51.2 110.8L51.6 110.1L53.1 110.8L52.7 109.1L52.2 108.6L53.8 108.8L52.7 107.8L54.2 107.7L55.1 108.4L55.1 107.2L54 106.6L52.5 105.9L52.4 104.8L53.4 105.2L52.4 103.7L51.7 102.5L52.5 102.3L53.5 103L54.3 103.6L55 102.7L55.9 103.2L54.7 102.1L55.9 101.5L57.5 101.5L59.3 101.7L59.6 102.3L60 103.4L60 104.5L61.6 105.5L61.4 106.2L60.4 106.3L62.1 106.7L60.2 107.2L62.4 108L62.7 109.7L64.1 110.2L64.7 110L66.6 110.4L67.8 111.4L69.8 111.3L70.3 110L71.9 110.2L73.3 110.7L75.1 111.7L77.6 111.2L79.3 110.1L80.8 110.5L82 110.1L82.8 110.5L82 111.2L82.3 112L82 112.8L82.2 114.1L81.6 115.1L81.3 116.1L80.6 117.6L80.1 118.4L79.6 120L78.9 121.1L78.3 121.5L77.4 121.8L75.8 122L74.5 121.9L74 121.5ZM898.8 124.2L899.2 125.9L900.3 127.5L901.5 128.5L902.8 128.9L903.4 127.3L904.2 125.2L904.1 127.1L903.8 128.2L905.1 128.5L906.3 130L907.9 132.5L909.5 134.8L911.3 136.6L913.1 139.1L913.8 141.8L915.2 143.9L917.3 145.7L918.9 148L920.5 149.9L921.8 151.9L922.3 154.2L922.8 156.1L923.4 158.8L924.1 160.1L925.7 160.1L927.3 159.8L930.8 158.6L934.2 157.3L937 156.2L939.9 155L943.4 154L944.1 152.6L946.1 151.7L948.4 151.1L950.9 149.9L953.2 149.1L954.8 147.3L956.5 147L956.6 144.5L958.2 144L959.2 142.2L960.5 140.3L961.2 139.6L960.1 138.9L958.5 137.4L956 136.8L954.1 135.8L953.4 134.6L953.2 133.1L953.4 131.9L952.6 132.4L951.2 133.7L949.1 135.6L946.8 136.4L944.7 136.3L942.9 136.6L942 135.6L942.4 134.6L942.3 132.8L941.5 132.2L940.6 133.4L940.6 135.1L939.5 133.7L939.1 132.1L938.7 130.6L937 129.4L935.8 127.7L934.4 126.3L934 125.4L934.7 124.3L936.3 123.5L937.9 124.1L939 123.8L940.4 125.9L940.8 126.7L942.4 128.7L944.7 129.6L946.8 130.8L949.5 131.4L951.6 130.8L953.2 130.1L954.6 130.4L955.3 132.5L956.6 133.2L958.7 133.4L961.2 133.7L963.3 133.9L965.3 134.2L967.2 134.2L969.7 134L972.4 134.1L974.7 133.7L976.6 133.5L977 134.9L978.4 136L979.1 136.8L980.5 137.2L982.1 137.9L983.7 138.9L985 138.8L982.7 139.9L982.2 140.2L983 141.2L984.6 142.6L986.6 143.5L988.7 142.8L989.8 141.6L990.4 140.1L990.9 141.6L991 143.9L991 147L991.4 149L992.1 151.3L993.1 154L994.2 156.3L995.6 159.6L997.2 162.5L998.8 165.7L999.7 167.9L1001.8 169.5L1003.1 168.5L1003.4 167.5L1005.2 167L1007.1 165L1007 162.5L1007.7 160.8L1008.2 159L1007.7 156.7L1007.7 154.6L1009.3 153.5L1010.7 152.5L1012.7 151.7L1015 149.7L1017.6 147.6L1019.2 146.1L1021.2 145.1L1023 143.7L1023.5 142.3L1025.6 141.5L1027.9 141.6L1030.4 141L1031.7 139.7L1033.1 139.7L1034.5 140.1L1035 142.2L1035.6 143.7L1037 144.7L1038.8 146.3L1040.2 147.6L1040.7 150.1L1040.2 153L1041.4 153.5L1042.7 153.7L1044.6 152.6L1046.2 151.1L1046.9 151.4L1047.8 152.4L1048 154.6L1048.9 157.3L1049.8 160.4L1050.3 163.5L1049.8 165.6L1049.4 167.7L1049.3 169.7L1050.3 170.4L1051.7 171.4L1052.8 172.3L1053.7 173.2L1054.1 175.1L1054.6 177.4L1055.6 179.3L1056.5 180.7L1058.3 181.7L1060.1 183L1061.3 183.6L1062.8 183.5L1062.9 182.4L1062 180.9L1061.1 179.1L1061.1 177.6L1060.4 175.3L1058.5 173.6L1057.2 172.4L1055.6 172.1L1054.6 171.4L1053.7 168.9L1053 167.3L1051.7 167.3L1051.4 164.8L1052.4 162.9L1052.8 161.7L1053.3 160.2L1053.3 158.8L1054.4 158.4L1055.4 158.8L1055.3 160L1056.7 160.2L1058.3 160.8L1059.7 161.9L1060.4 163.5L1061.5 164.6L1063.1 164.6L1064.3 165L1064.5 166.2L1064.3 168.3L1065.4 168.1L1067 166.8L1068.6 165.4L1069.5 164.9L1071.4 164.2L1073.7 162.9L1074.3 161.5L1074.6 159.6L1074.5 157.7L1073.7 155.3L1072.3 153L1070.7 151.9L1068.6 149.9L1067.9 149L1066.3 147.4L1066.8 145.3L1068.2 144.3L1068.8 143.2L1070.9 142.2L1072.5 141.6L1074.1 141.8L1075.3 142.8L1075.5 144.3L1077.1 144.3L1077.3 142.6L1079.6 141.8L1081.9 141.2L1084.2 140.3L1085.8 140.1L1087.6 139.3L1089.9 138.9L1091.5 138L1094 136.6L1094.7 135.6L1096.5 134.3L1097.9 132.7L1098.8 130.8L1100.7 128.3L1102.7 126.5L1103.4 125L1103.6 124.2L1101.4 123.4L1100.2 123.6L1102 122.8L1103.4 122.3L1103.2 120.9L1101.8 119.6L1101.1 118.2L1099.8 115.9L1097.7 114.5L1097.5 113.6L1098.4 112.6L1099.8 111.6L1101.4 110.5L1103.6 109.9L1105 109.1L1103.9 108.7L1102.3 108.6L1100.7 108.1L1098.8 108.9L1096.8 109.3L1096.5 108.3L1094.5 107.2L1093.8 106.2L1094 105.2L1095.6 105.4L1097.5 104.5L1098.2 103.6L1100.2 102.9L1101.4 101.7L1103.2 101.6L1104.1 102.4L1102.7 103.7L1102 105.2L1101.8 106.1L1103.2 105.7L1105.5 104.5L1107.3 103.9L1108.9 103.6L1109.8 104.3L1111 104.7L1111 106.2L1110.1 107.4L1111.2 108.1L1113 108.3L1114.2 108.9L1114.6 109.9L1113.5 110.5L1113.9 111.8L1113.9 113.4L1113.5 114.7L1114.2 115.3L1116 114.7L1116.9 114.3L1118.8 114.1L1119.9 113.6L1120.6 112.8L1120.7 111.6L1120.6 109.7L1119.9 108.3L1118.8 107.2L1117.4 105.8L1116.1 105.2L1116.2 103.9L1117.8 103.3L1120.4 102.1L1121.3 100.6L1121.5 99.8L1123.1 98.7L1123.8 98.3L1124.7 97.3L1126.3 97.1L1127.2 96.7L1128.6 97.7L1130.9 97.5L1133.6 96L1135.7 94.2L1138 92.1L1140.3 89.8L1142.1 88L1144.4 85.9L1145.5 84.9L1146 82.8L1146.5 80.7L1148.1 78.2L1147.8 76.6L1145.5 75.6L1143.7 74.1L1141.4 74.9L1138.7 74.9L1138.4 73.7L1136.8 74.5L1134.1 73.1L1136.8 71.8L1139.1 70L1141.4 68.3L1144.2 66.7L1146 65.2L1149 64.2L1152.2 63.4L1156.3 63.3L1160.9 63.5L1165 63.3L1166.4 62.6L1169.6 63L1172.8 64.2L1175.3 63.8L1178.1 63.1L1179.7 63.5L1179.7 61.7L1182.6 60L1184.9 58.6L1188.4 58.4L1191.6 58.2L1191.1 60.4L1194.8 61.1L1197.1 58.8L1198.7 57.5L1201 56.7L1199.8 58.4L1198.2 59.4L1197.5 60.4L1195 61.5L1192 62.9L1190.5 64L1188.1 65.4L1184.5 66.9L1183.1 68.1L1181.5 71.2L1180.8 74.5L1182 77.4L1183.1 80.9L1184.9 79.7L1187 78L1187.6 76.6L1190.4 76.2L1190.2 74.5L1191.6 73.5L1194.5 73.4L1195.5 72L1194.8 70.4L1196.6 70L1198.2 70.2L1198 68.3L1197.1 66.7L1197.5 65.2L1199.4 63.8L1201.6 62.3L1203.9 61.7L1205.1 62.4L1206.7 61.3L1210.1 60.9L1214.2 62.2L1214.9 61.3L1218.1 60L1221.6 58.8L1223.9 58.4L1227.3 57.5L1230.7 56.8L1234.8 57.3L1235.1 55.7L1233.7 54.6L1230.7 53.2L1230.7 52.3L1233 52.6L1236.4 51.8L1238.7 50.7L1238.7 49.1L1241 50.5L1245.6 50.8L1250.2 52.4L1252.5 53.2L1254.8 52.2L1257.1 50.5L1260 49.5L1257.1 48.4L1254.8 47.7L1250.2 47.5L1247.9 46.8L1243.3 46L1239.9 44.7L1236.4 43.6L1233 42.8L1228.4 41.9L1222.7 41.7L1218.1 41.5L1214.9 41.2L1214.2 42L1214.7 43.7L1211.9 43.3L1210.1 42.1L1208.5 41.9L1204.4 42.4L1199.8 42L1196.4 42.1L1193.6 42.6L1190.7 41.5L1190 40.2L1186.1 39.3L1181.5 39.1L1175.8 39.5L1172.3 39.5L1168.9 38.2L1165.5 36.8L1159.7 36.5L1154 35.8L1147.2 35.5L1144.9 36.2L1143 36.8L1144.4 38.3L1139.1 38.7L1134.6 38.1L1130 38.4L1127.7 37.5L1125.4 39.7L1122 39.5L1120.4 37.5L1118.5 37.3L1121.3 35.4L1117.4 34.4L1113.9 34.1L1110.5 34.2L1107.1 34.6L1106.4 35.3L1102.5 35.2L1098.6 35.1L1095.6 34.1L1089.9 33.8L1085.3 33.9L1083.7 34.4L1081.9 33.2L1078.5 33.1L1075.7 33.1L1071.6 33.9L1068.2 34.8L1067.5 33.3L1070.4 32.9L1075 32.3L1079.6 31.7L1082.6 29.6L1084.9 29.2L1080.7 27.7L1071.6 27.5L1069.3 26.7L1065.9 25.8L1063.1 25.4L1057.9 26.1L1054.4 27.9L1051 28.8L1047.5 29L1043 28.8L1037.2 29.2L1031.5 29.8L1026.9 30.2L1023.5 31.1L1021.9 32.5L1022.4 33.3L1016.6 33.7L1013.2 33.8L1008.4 34.2L1008.9 35.6L1009.5 37.3L1012.7 37.7L1008.9 37.5L1006.6 35.8L1002.9 35.6L999.9 36.8L997.6 37.5L996 35.8L995.6 36.4L995.1 39.3L993.7 42.4L994.2 44.7L992.4 47L989.6 48.9L986.9 48.6L988.2 47L988.9 44.3L990.3 42.6L989.8 40.4L990.3 38.1L990.8 35.4L988 35L984.4 35L982.3 35.8L981.1 38.3L977.3 39.5L977 41.8L977.7 43.5L980.9 44.9L975.4 43.7L972 42.8L965.6 41.9L962.8 42L961.7 43.5L960.5 44.8L954.8 44.3L950.2 44.4L947.9 45.1L946.8 44.9L948.4 43.6L944.5 44.5L938.8 45.5L935.4 46.2L931.9 47.6L931.2 48L928.5 46.4L926.9 44.5L923.7 44.3L924.6 46L925.5 48.6L925.5 49.7L923.9 49.5L920.9 48.6L918.9 49.7L915.9 50.7L915.4 52.6L916.8 52.6L911.3 52.1L907.9 51.5L910.2 53L911.1 54L907.9 54L904.4 53L903.8 50.7L901 48.9L898.5 47.3L903.3 48.4L907.9 49.2L912.5 49.6L917 48.9L918.6 47.6L918.2 46.2L915.9 45.3L911.3 44.7L906.7 43.5L901 42.8L897.6 41.8L895.3 41.8L893 42L891.8 41.4L895.3 40.6L893 40L889.6 39.3L886.1 39.3L883.1 39L880.4 39.5L878.1 40.4L874.7 40.8L871.2 41.6L867.8 42L864.4 43.1L860.9 44.5L857.5 45.1L858.6 47L855.2 48.2L853.6 49.7L852.2 51.1L850.2 52.6L848.3 53.8L846.1 54.6L842.6 55.3L840.3 56.5L837.6 57.3L835.7 58.4L835.5 60L836 61.3L836.2 63.1L837.1 64.4L838 65.6L840.3 66.2L842.6 66L844.9 65L846.7 64.2L848.3 63.5L848.8 62.3L849.3 63.8L849.9 64.4L850.2 65.6L851.3 66.9L852.5 68.3L853.6 69.3L853.2 70.4L854.1 71.6L856.8 71.6L857.3 71L858 70.1L860.7 70.2L861.9 68.9L862.5 66.9L863 65L865.3 64.4L867.6 62.9L867.1 61.7L863.9 60.7L863.7 58.8L864.1 57.1L866.7 55.9L868.9 54.9L871.2 54.1L873.1 52.6L873.5 51.1L875.4 50.5L878.1 50.1L879.6 50L882.2 51.5L880.6 53.2L878.1 54.4L874.7 55.7L873.1 57.3L873.5 59L873.1 60.7L875.1 61.3L877 62.4L881.4 61.8L885.9 61.2L889.6 60.9L892.3 62.1L893.4 62.2L890.7 62.4L888.4 63.1L885 63L881 63.2L878.1 63.8L878.1 64.8L879.9 65.5L880.1 67.1L879.5 68.2L877.7 68.3L876 66.9L873.8 67.4L872.5 69.3L872.5 71L871.2 72.6L870 73.1L868.7 73.8L867 73.7L866.4 73L863.2 73.3L860.9 74L857.7 74.7L855.9 74.3L855 73.3L852.7 73.9L849.5 74.5L849.3 73.7L847.2 73.5L847 72.9L846.3 71.6L846.7 71.4L847.7 70.1L849.3 69.6L847.9 68.5L848.3 67.5L848.6 66.8L847 67.2L844.9 68L843.3 68.5L843 69.8L842.8 71.3L844 72.2L844.2 73.7L844.7 74.7L844 75.3L842.8 75.5L840.8 75.3L840.3 75.9L838.5 75.8L836.7 76L835.3 76.7L834.6 77.8L833.7 78.7L832.5 79.7L831.6 80L829.8 80.6L828 80.9L828 82.4L826.8 82.9L824.5 83.8L823.6 84.2L821.6 84.1L821.3 83.4L819.9 83.4L820.6 85.5L819.7 85.6L817.4 85.3L815.1 85.5L813.4 86.1L814.5 87.4L816.5 87.6L818.6 88.4L819.3 88.5L819.7 89.6L821.6 90.8L821.8 91.9L821.6 93.9L820.9 96.3L820.2 96.6L817.4 96.5L815.6 96.4L811.2 96.2L808.3 96.2L806 95.7L805.1 96.5L803.1 97.3L803.9 98.7L804.2 99.6L804.4 101.1L803.9 103.1L802.9 104.8L802.5 106.1L803.5 106.3L804.2 106.7L804.2 107.7L803.8 109.7L806.2 109.7L807.4 109.3L808.5 109.4L809.8 110.5L810.6 111.4L811.5 111.8L812 111.5L814.2 110.3L816.3 110.3L818.7 110L819.5 110.2L820.6 108.9L822.7 108.5L822.8 107.6L824 106.8L824.8 106.1L823.8 105.2L823.6 104.5L824.3 103.5L825.9 102.3L826.4 102.1L827 101.2L829.3 100.7L831.6 99.6L831.9 98.7L831.2 98.1L831.4 97.1L832.8 96.5L834.8 96.6L836.6 96.7L838.5 97.2L839.6 96.8L841 95.8L843.1 95.3L844.7 94.4L846.7 95.1L847.9 96.2L848.3 97.4L849.7 98.5L851.3 99.2L852.3 99.9L853.2 100.5L855.4 100.9L856.5 101.8L857 102.2L858.2 102.2L858.6 103.1L860.1 103.4L860.5 104.5L861.2 105.6L861.4 106.2L860.6 106.5L860.1 107.6L861.2 107.7L862.3 107L862.3 106L863.6 105.6L863.5 104.7L862.1 104L863 102.6L863.8 102.6L865.3 103L865.7 103.9L866.7 103.3L865.5 102.2L863 101.1L860.8 100.1L861.4 99.6L859.3 99.6L858 99L856.8 98.3L855.4 96.2L853.2 95.1L852.5 94L852.9 93.3L852.5 92.3L854.3 91.8L855.8 91.8L855.2 92.1L855.4 93.3L857 92.5L858.4 93.2L859.1 94.8L860.7 95.8L862 96.3L864.1 97.3L865.7 98L867.1 98.5L868.6 99.6L868.8 100.8L868.6 102.3L870 103.8L870.6 104.5L871.7 105.6L872.6 106.9L874 107.1L873.1 108.1L873.9 110L875.5 110.8L875.9 110.1L877.4 110.8L877 109.1L876.5 108.6L878.1 108.8L877 107.8L878.5 107.7L879.4 108.4L879.4 107.2L878.3 106.6L876.8 105.9L876.7 104.8L877.7 105.2L876.7 103.7L876 102.5L876.8 102.3L877.8 103L878.6 103.6L879.3 102.7L880.2 103.2L879 102.1L880.2 101.5L881.8 101.5L883.6 101.7L883.9 102.3L884.3 103.4L884.3 104.5L885.9 105.5L885.7 106.2L884.7 106.3L886.4 106.7L884.5 107.2L886.7 108L887 109.7L888.4 110.2L889 110L890.9 110.4L892.1 111.4L894.1 111.3L894.6 110L896.2 110.2L897.6 110.7L899.4 111.7L901.9 111.2L903.6 110.1L905.1 110.5L906.3 110.1L907.1 110.5L906.3 111.2L906.6 112L906.3 112.8L906.5 114.1L905.9 115.1L905.6 116.1L904.9 117.6L904.4 118.4L903.9 120L903.2 121.1L902.6 121.5L901.7 121.8L900.1 122L898.8 121.9L898.3 121.5ZM-13.1 82.7L-11.4 82.8L-9.5 82.1L-8 82L-6.9 81.4L-4.6 81.6L-2.5 81.2L0 81.1L2.2 80.9L3.2 80.4L3.2 79.9L1.6 79.8L2.1 79.1L3.7 78.5L4 77.4L3 76.7L0.9 76.7L0.2 75.6L-0.2 74.3L-1.4 73.5L-2.7 73.2L-3.4 72L-4.1 71.1L-4.8 70.4L-7.3 70.4L-6 69.8L-5 68.5L-4.7 68L-4.1 67.1L-7.8 66.9L-9.6 67.3L-8.9 66.4L-7.1 65.2L-7 64.9L-11.4 65L-12.1 66L-13.1 67.3L-13.3 68.7L-12.6 69.8L-12.8 71.7L-11.2 71L-10.8 71.4L-11.7 72.7L-11.2 73.2L-8 72.7L-8.2 73.5L-6.9 74.3L-6.5 75L-7.1 75.8L-9.2 76L-10.5 75.9L-10.3 77L-9.4 77.6L-9.4 78.2L-11.9 78.9L-11.6 79.4L-9.6 79.5L-7.3 79.8L-6.2 79.6L-6.9 80.3L-9.6 80.3L-10.4 81.1L-11.6 82L-13.1 82.7ZM811.2 82.7L812.9 82.8L814.8 82.1L816.3 82L817.4 81.4L819.7 81.6L821.8 81.2L824.3 81.1L826.5 80.9L827.5 80.4L827.5 79.9L825.9 79.8L826.4 79.1L828 78.5L828.3 77.4L827.3 76.7L825.2 76.7L824.5 75.6L824.1 74.3L822.9 73.5L821.6 73.2L820.9 72L820.2 71.1L819.5 70.4L817 70.4L818.3 69.8L819.3 68.5L819.6 68L820.2 67.1L816.5 66.9L814.7 67.3L815.4 66.4L817.2 65.2L817.3 64.9L812.9 65L812.2 66L811.2 67.3L811 68.7L811.7 69.8L811.5 71.7L813.1 71L813.5 71.4L812.6 72.7L813.1 73.2L816.3 72.7L816.1 73.5L817.4 74.3L817.8 75L817.2 75.8L815.1 76L813.8 75.9L814 77L814.9 77.6L814.9 78.2L812.4 78.9L812.7 79.4L814.7 79.5L817 79.8L818.1 79.6L817.4 80.3L814.7 80.3L813.9 81.1L812.7 82L811.2 82.7ZM809.8 78.3L810.1 76L810.6 74.5L811.7 73.8L811.5 73.1L810.3 72L807.6 71.8L805.3 72.1L804.6 73.3L805.3 73.6L801.4 74L801.6 75.6L803.5 76.2L802.3 77L800.5 78.5L800.9 79.3L802.3 79.8L805.3 79.1L808.3 78.5L809.8 78.3ZM772.3 54.2L774.2 53.6L773.5 52.8L769.3 52.1L773.9 51.8L772.8 50.8L768.2 50.7L770 49.5L772.8 48.7L775.3 50.3L775.8 50.7L777.8 49.5L781.9 49.4L785.4 49.3L787.2 48.6L790.4 49L790.2 50.1L792.9 51.1L793.2 51.8L791.3 52.9L789.5 53.3L785.4 54.2L781.5 55.1L777.8 54.8L775.8 54.1L772.3 54.2ZM26.3 22.6L24.5 23.2L30.9 24.6L32.1 25.9L34.3 26.9L37.8 27.8L40.1 26.9L42.4 25.9L43.5 24.2L49.2 23.4L45.8 22.1L40.1 20.9L36.6 20.7L30.9 21.1L26.3 21.1L26.3 22.6ZM42.4 20.3L45.8 19.8L52.7 19.9L61.8 20.4L59.5 21.9L52.7 22.4L45.8 21.6L42.4 21.1L42.4 20.3ZM117.9 38.3L120.2 39.7L125.9 40.2L131.7 40.3L130.5 38.7L128.2 38.1L129.4 36.2L130.5 34.8L133.9 33.1L138.5 31.5L144.3 30L151.1 29L156.8 27.9L157.8 27L151.1 26.9L144.3 28L137.4 28.7L131.7 29.9L127.1 31.5L123.6 33.3L121.4 35.2L118.1 37.1L117.9 38.3ZM217.5 18.4L223.2 19.3L229 21.1L226.7 22.4L219.8 20.9L211.8 20.1L209.5 18.8L212.9 18.2L217.5 18.4ZM227.8 22.8L235.8 22.4L240.4 23.6L239.3 24.6L231.3 24.9L226.7 24.2L227.8 22.8ZM314.4 29.4L318.3 28.8L326.3 29.4L330.6 30.6L325.1 31.3L319.4 31.7L314.8 31.1L314.4 29.4ZM325.8 73.9L324.7 75.6L325.1 78.7L325.1 81.8L325.4 84.9L325.1 87.4L324.9 89.8L326.3 89.6L328.3 90L328.6 89.4L327.4 88.4L327 86.9L327.9 84.2L331.3 85.1L328.1 83.6L327.9 81.8L328.3 79.7L328.1 77.6L327.7 75.6L326.7 73.9L325.8 73.9ZM320.6 100.4L321.2 98.7L320.3 98.1L321.2 96.7L323.5 96.7L324.5 94.6L324.7 92.3L326.3 93.2L328.6 94.6L330.6 95.3L332.7 94.6L332.5 96L333.8 96.6L332 97.3L330.6 97.4L328.1 99.4L325.1 98.3L322.9 98.7L321.5 98.3L322.7 99.9L321.7 100.5L320.6 100.4ZM322.6 100.4L324 100.7L324 102.5L325.1 104.3L324.2 106.8L322.9 107.2L322.9 109.7L321.9 111.2L322.5 112.4L321.5 113.4L320.3 114.1L320.1 112.8L319.6 113.4L318.5 113.4L318 114.7L317.1 113.9L316.4 114.7L313.7 114.7L313.5 114L312.8 114.7L313.5 115.4L312.1 116.1L310.9 117.1L309.3 116.1L309.5 115.3L310 114.6L308.2 114.4L306.6 114.9L303.4 115.3L301.8 116L299.8 116L300 115.1L301.6 114.5L303.6 113L305.2 112.7L307.3 112.7L309.6 112.3L311.4 112.5L311.6 111.3L313 110.3L313.1 109.3L314.5 108.7L313.7 109.5L313.9 110.1L316.4 109.4L318 108.1L319.4 106.8L320.3 105.2L320.1 103.7L320.6 102.3L321.2 101L322.4 101.7L323.3 101L322.6 100.4ZM302.2 117.3L303.8 116.1L305.9 115.8L307.1 115.2L308.3 115.5L308.5 116.2L307.3 117.5L305.7 117L304.5 118.5L303.4 118.2L302.2 117.3ZM299.8 116.1L301.6 116.7L302 118L301.6 118.8L301 120.3L300.2 121.5L299.3 122.1L298.9 121.1L298.1 121.6L298.1 120.1L298.8 119L298.1 118.6L297.2 118.6L297 117.6L297.7 117L298.6 116.7L299.8 116.1ZM278.2 133.9L279.3 134.6L278.4 136.6L277.5 139.1L276.7 141L275.5 139.5L275 137.7L276.4 135.4L277.1 134.6L278.2 133.9ZM248.9 146.6L250.7 145L253 144.7L254.2 145.7L253 147.4L251 148.6L248.9 148L248.9 146.6ZM276.1 148L279.1 148.4L280 150.5L279.8 152.8L278.4 153.4L278.4 155.5L280 157.1L282.3 157.5L284.2 159.4L283.9 160.3L282.3 159.4L280.7 159L280.5 157.5L278.7 157.5L277.1 157.9L276.1 156.9L276.9 156.2L276 156.4L275.5 155.6L274.5 153.6L274.3 152.5L275.5 153.1L275.7 150.1L276.1 148ZM287.1 166L289.2 168.7L289.9 171.2L289 173.3L287.8 172L287.1 174.7L286.4 174.1L283.9 173.3L284.4 171.2L282.6 170.8L279.6 172L279.3 171.2L281.2 169.3L282.6 168.3L283.5 169.3L285.5 168.5L285.8 167.7L287.1 167.7L287.1 166ZM249.6 183.2L251.1 182.1L252.6 182.8L254.2 183.2L255.1 181.3L258.5 179.9L260.8 177.2L263.3 176L264.7 174.7L265.8 173.9L267.2 171.9L268.4 172L269.5 173.1L270.4 174.2L273 175.3L271.6 177.2L270 177.6L269.3 179.5L269.7 181.7L272.2 184.2L270 184.6L269 186.3L268.8 188L267.4 189L266.5 190.4L266.8 192.3L265.6 193.8L263.3 194.8L262.4 194.8L262.2 193.3L260.1 193.3L258.5 192.9L256 193.5L255.8 192.3L253.9 192.5L252.3 192.3L251.9 189.4L250.3 186.9L250 186.3L249.4 184.4L249.6 183.2ZM218.2 174.7L221 175.5L223.2 175.4L225.1 177.2L226 178.5L228.5 180.1L229.9 181.5L232.2 182.8L234.7 184.2L236.1 185.3L237.7 186.1L237 188L239 188.4L239.5 190.2L240.2 191.1L241.8 191.3L242.8 192.5L242.3 194.8L242.5 196.7L242.3 198.4L241.1 198.3L239.5 198.5L238.1 196.9L234.2 194.5L231.9 191.9L229.8 188.3L228.3 186.3L226.9 185.1L226.2 182.8L223.7 181.3L222.3 179.7L220 177.7L218 175.3L218.2 174.7ZM240.9 200.4L242.7 198.5L244.5 198.8L247.1 199.3L248.7 200.2L252.8 200.6L254.2 199.5L257.8 200.6L258.3 201.2L260.8 202.1L261.9 202.3L261.9 204.1L259.2 203.5L255.8 203.6L251.9 202.7L249.1 202.2L246.4 202.2L243.9 201.6L240.9 200.4ZM274.3 184.9L276.8 183.6L281.2 184.3L285.3 183.2L286.7 183L285.3 185.5L282.1 185.6L278.2 185.3L275.5 185.3L274.9 186.7L275.2 188.2L277.1 189L278.7 188.2L281.6 187.5L282.6 188.3L280.5 189.6L278.7 190.2L280 192.9L280.7 194.6L281.9 196.2L280.7 197.7L278.4 196.2L277.7 194.2L276.8 191.9L275.5 193.1L275.7 195.8L275.7 197.7L273.6 197.9L273.4 195.6L272.5 193.5L272 192.1L272.9 189.4L274.1 187.3L274.3 184.9ZM300 188L303.4 187.1L306.8 188L307.5 190.4L308 191.9L309.1 193.1L311.4 191.7L313.5 190.6L315.5 189.4L319.4 190.9L322.2 191.7L326.3 192.9L329.7 194.2L332 195.6L333.8 197.1L336.4 198.5L338.4 199.1L338.5 200.2L336.6 200.3L337.7 202.2L339.6 204.1L341.9 205.1L343.5 206.4L345.3 207.4L344.6 208.3L342.3 207.6L338.9 207.2L337 206L335 204.1L332 202.4L329.7 202L328.1 203.5L328.3 204.9L326.3 205.3L322.9 205.1L320.6 203.3L317.8 203.5L316 203.7L315.1 202.9L317.1 201.4L318 200.4L316 197.9L313.7 196.4L310.3 195.4L306.8 194.2L304.5 194.7L302.2 192.3L305 191.4L306.4 191.1L303.6 190.9L301.8 189.5L299.7 189L300 188ZM339.6 197.7L343.5 196.7L346.9 196.4L348.5 195L349 196.4L346.9 197.9L344.6 199.1L341.2 199.1L339.6 198.1L339.6 197.7ZM182.9 166L185.2 167.7L186.2 168.7L187.5 171.2L186.8 173.1L184.6 174L183.2 173.7L182.8 172L182.7 169.7L182.9 167.7L182.9 166ZM326.3 208.4L327 209.1L328.6 213L328.6 215.3L330.9 215.9L332.7 217.4L332.9 220L333.8 221.3L334.5 223.6L336.1 226L338.9 227.7L341.6 230L343 232.5L345.3 233.5L345.3 234.9L347.6 236.6L350.1 238.7L350.8 241.2L351.5 243.2L351.7 245.6L350.6 249L349.9 251.9L347.6 254.4L346.2 256.5L345.3 258.8L343.5 261.9L343.2 263.9L338.9 264.8L336.4 266.2L335.2 267.2L333.2 266.2L331.8 265L328.6 266.7L325.1 265.7L322.6 265.1L319.9 262.9L319.4 260.6L317.1 260L317.1 258.3L316.2 257.1L315.5 259L313.7 259.2L314.8 257.1L315.5 254.6L313.7 256.1L311.4 258.1L310.5 258.5L309.6 257.7L307.3 254.6L305.9 252.7L302.2 252.5L300 251.5L295.4 251.8L290.8 253L287.4 253.8L283.9 254.6L282.8 256.5L279.3 256.5L274.8 256.6L272.5 257.6L270.2 258.9L266.8 258.8L263.5 257.4L263.3 255.9L264.9 255.2L265 252.5L264 249.4L263.1 247.4L262.4 245.9L261.3 243.2L259.7 240.5L260.8 240.1L261.5 240.7L260.3 238L259.7 236.8L260.6 233.7L261.3 231.4L262.4 231.4L264.5 230.6L267.2 228.9L270.2 228.4L272.5 227.7L275.9 227.3L278.2 225.6L279.8 223.6L280 221.5L281.4 220.5L283 222.1L283 220L285.1 219.4L285.8 218L288 215.9L290.3 214.9L292.6 216.3L293.5 217.4L295.1 216.9L296.7 217.1L297 214.7L298.4 213.4L299.5 212L301.1 211.6L303.4 211.3L303.6 209.9L305.7 210.7L309.1 211.3L311.4 211.6L313.2 211.1L312.8 213.6L311.2 214.7L310.3 216.9L313 219L315.3 220.2L318.3 221.5L319.6 222.5L322.4 222.5L323.5 220L324.2 216.3L324.2 213.2L324.9 211.1L325.4 209.1L326.3 208.4ZM331.3 270.5L335.4 271.4L339.6 271L339.6 273.7L338.6 275.7L336.6 276.6L334.3 276.3L332.7 274.3L331.3 271.8L331.3 270.5ZM395.4 257.5L396.8 258.8L399.1 259.4L400.2 261.4L400.7 262.7L402.1 262.1L402.8 263.7L405.3 264.8L407.6 264L408.8 264.3L407.6 266.4L406.2 267.2L405.1 268.1L405.3 269.1L403.7 271L401.4 272.4L400.2 271.8L400.9 270.1L400.7 269L398 267.7L399.8 266.4L400.2 264.5L399.6 262.7L398.9 261.6L396.6 259.2L395.4 257.5ZM395.4 270.1L396.4 271.6L399.1 271.2L398.6 272.8L397.7 274.1L395.7 275.9L396.4 277L392.2 278L390.9 281.3L388.6 282.7L385.6 282.8L383.5 281.9L381.2 281.3L382.4 279.2L385.1 277.4L388.8 276.1L391.3 274.7L392.5 272.8L394.1 271L395.4 270.1ZM28.4 107.6L30.7 107.2L35.7 107.1L34.6 108.9L34.6 110.3L33 110.1L29.8 108.9L28.4 108.1L28.4 107.6ZM18.8 101.6L21.1 100.9L22.4 102.3L22 105.2L20.6 105.6L19.2 105.4L19.2 102.9L18.8 101.6ZM466 38.6L474 39.5L480.8 40.5L487.7 41L494.6 41.4L501.4 42.1L506 42.4L510.6 43.6L514 42.8L517.5 42.4L522.1 41.8L526.6 41.2L531.2 40.4L532.4 41L536.9 42.6L539.2 41.4L542.7 42.4L547.2 42L554.1 43.5L559.8 43.9L563.3 45.1L561 46L567.9 46.2L572.4 45.6L575.9 46.6L577.5 48L578.6 47.6L578.2 45.7L581.6 44.9L585 45.5L590.7 46L595.3 45.9L598.8 44.9L601.1 44.4L604.5 45.1L604.5 47L606.1 47.2L605.6 45.5L607.9 44.3L604.5 42.4L603.3 41L605.2 38.7L607.9 37.3L611.4 38.3L612.5 40.4L614.1 42.2L617.1 42.4L617.8 44.5L620.5 43.1L622.8 44.9L622.8 47L625.1 47L627.4 45.5L628.3 43.5L630.8 41.7L635.4 42L638.1 43.1L637.7 44.5L635.4 45.5L637.7 46.6L637.7 47.8L633.1 49L629.7 49.1L627.4 48.6L627.4 49.7L623.9 51.1L624.6 52.8L620.5 53.8L618.2 54.4L615.9 54.6L613.6 56.3L611.4 58.2L608.6 60.2L607.5 62.1L607.2 64.2L608.6 64.7L611.4 64.8L612.5 67.7L613.6 68.3L618.2 68.3L622.8 69.3L623.9 70.4L629.7 71.8L634.3 71.9L635.9 72.2L636.1 75.6L636.3 76.8L638.1 78.2L640 80.1L641.8 80.5L643.6 79.7L643.9 77.6L643 75.1L642.3 73.5L646.8 71.4L648 70.4L649.1 68.3L646.8 66.2L644.6 64.8L645.7 63.1L646.8 62.1L645.7 60.4L645.7 57.3L646.8 56.8L651.4 57.3L655.5 57L659.4 58.6L660.6 59.6L664 59.8L665.2 61.7L664.5 64.2L667.9 65.8L672 64.8L674.3 63.1L676.2 61.3L677.8 63.1L680 65.2L682.3 67.3L683.5 69.3L686.2 71.4L689.2 72.5L691.5 73.5L693.1 74.5L696.1 76.6L696.8 78.2L694.2 79.7L689.9 80.3L686.9 82.3L682.3 82.3L677.8 82.2L672.3 82.4L669.7 84L667.2 85.1L664.7 86.7L661.7 89.2L664 88.6L667.5 86.1L672 84.7L675.9 84.7L677.1 85.3L676.4 86.5L673.2 86.9L675.5 87.8L675.9 89L676.6 90.7L678.2 91.1L680 91.5L682.8 91.7L683.5 91.1L684.6 89.2L686 89.2L687.1 91.1L684.6 92.5L678.9 94L675.5 95.8L673.6 96.3L672.7 94.8L673.6 94L676.6 92.5L675.9 91.9L674.3 92.5L672.9 92.6L670.9 92.9L670.9 93.8L667.9 94.6L666.3 95L663.6 95.9L662.4 97.1L662.4 98.1L661.7 98.6L662.6 99.5L664 99.3L664 100L662 100.4L660.8 100.4L659.4 100.8L657.2 101L655.5 101.6L659.4 101.4L658.1 101.9L654.9 102.4L654.9 103.9L653 105.6L651.9 104.7L652.3 106L652.3 107L651.2 108.5L650.3 109.5L649.6 107.2L649.4 105.2L648.9 107.6L649.6 109.7L650.5 110.5L651.4 113.2L649.1 114.5L646.8 115.3L645.7 116.1L643.4 117.2L641.4 118.5L639.3 119.9L637.9 122.1L637.9 123.6L638.8 125.9L639.7 127.5L641 130.6L640.9 132.9L640.2 134.1L638.6 134.2L637.2 132.7L636.5 131.2L634.9 129.2L634.9 127.1L633.6 125.2L632 124L629.7 124.9L628.1 124L626.2 123.4L623.9 123.6L622.8 123.2L620.5 123.5L619.1 123.8L619.6 125.9L620.1 126.3L618.2 126L615.9 125.9L613.6 125L610.2 124.7L607.5 125.4L604.9 126.9L602.2 128.5L601.3 130.4L601.7 132.5L600.6 135.6L600.4 140.1L601.7 143.2L604.3 146.6L606.8 147.8L608.2 148.7L611.4 148.2L614.1 147.7L615.9 146.6L616.9 145.2L617.3 142.8L620.5 142L622.8 141.6L625.1 141.7L625.6 142.6L624.2 144.5L623.9 146.3L623.3 148.4L622.6 148L622.1 150.1L622.1 152.1L620.7 153.4L622.8 153.7L625.3 153.6L627.4 153.2L630.8 153.5L633.3 154.8L633.3 157.3L632.9 159.6L632.7 161.7L632.7 163.6L634.3 165.6L635.9 166.9L637 167.7L638.8 168.1L640.7 167.5L641.4 166.9L643.4 166.5L645.7 167L647.1 168.4L645.9 171.4L645.2 169.7L644.6 168.5L643.2 167.8L642.3 167.8L641.6 168.7L640.2 169.3L641.1 170.9L639.1 171.4L638.8 170.2L637.2 169.7L635.9 169.1L634.5 169.7L633.6 168.7L632.7 168.8L632.9 167.7L630.6 166.4L629.9 165.7L629.4 166.5L627.8 165.4L628.1 163.7L626.2 161.9L624.4 160.2L623.7 159.4L621.7 159L618.7 158.3L616.4 157.5L613.2 156.3L610.2 153.8L607.9 152.8L606.1 153.2L603.3 153.9L599.9 153L595.6 151.4L591.4 149.7L590.3 149.1L587.3 148.4L585.5 146.9L583.2 145.5L582.3 144.1L583.3 143.6L582.7 141.8L580.7 138.3L577.9 135.6L575.2 133.7L573.8 133.1L573.8 131L571.1 128.5L568.1 126.7L566.5 124.4L565.3 122.1L564.2 121.4L561.4 120.5L561.7 122.1L562.8 124.6L565.1 126.7L566 128.3L567.2 129.8L569.2 132.5L570.6 134.6L571.7 136.2L573.7 137.9L572.7 138.9L571.7 137.7L569 135.8L567.4 135L567.6 132.5L565.1 130.9L563 130.2L561.2 128.8L563 128.3L562.8 127.1L561 125.2L559.4 123.8L558.7 122.5L557.3 120.4L556.2 119L555.7 117.8L553.2 116.4L553 115.9L551.4 115.6L548.4 114.9L547.9 113.4L545.2 110.5L543.8 108.7L543.8 108.1L542.7 107.6L541.1 105.8L540.8 103.9L539.5 102.7L540.1 101.4L539.9 99.8L539.2 97.7L540.1 95.8L540.4 94L540.5 90.7L540.1 89.6L538.8 86.1L541.5 86.6L543.8 88L543.1 84.9L542.2 84.2L539.2 83.2L538.1 82.2L534.7 81.1L532.4 80.3L531.7 78.2L530.1 76.6L527.8 75.1L525.9 73.9L525.5 72.5L523.2 71.6L522.1 70L519.8 68.5L517.9 67.7L516.6 65.6L514 65.6L511.8 65.8L508.5 64.4L504.4 63L500.3 62.2L495.7 62L493.4 61.7L490 60.7L486.6 60L484.7 61.1L485.4 62.1L482 62.7L478.6 63.7L476.7 63.8L477.4 62.7L477.9 60.9L480.8 59.6L478.6 60L476.3 61.1L474 62.9L471.7 64.2L471.2 65.8L468.2 67.1L466 68.3L462.5 69.6L459.1 71L455.7 72L452.2 72.7L449.9 73L447 73.4L448.8 72.5L452.2 71.2L455.7 70.4L459.1 68.9L461.4 67.7L463.7 66.2L464.8 64.6L461.4 64.6L457.9 65L453.8 64.9L453.4 63.5L453.4 62.1L449.9 62.5L447.6 61.3L446 60.9L444.2 58.8L445.4 56.9L447.6 55.7L451.1 55.7L454.5 54.9L455.7 53.2L452.2 53L447.6 52.8L445.6 52.8L443.1 52.4L439.4 50.5L443.1 49.3L447.6 48.5L449.2 49.5L453.4 49.5L454.5 48.6L452 47.8L449.5 47.4L447.6 46.4L445.4 45.3L442.6 44.8L444.2 43.7L448.8 43.6L451.1 42.4L453.4 41L457.9 40.2L462.5 39.6L466 38.6ZM647.1 168.4L648.4 169.7L649.6 167.9L651.2 166.8L651.4 164.8L652.9 163.4L654.4 162.9L657.2 162.5L659 161.7L660.1 160.5L661 161.8L659.7 163.5L660.4 164.8L661.5 163.6L663.3 162.7L663.6 162.2L664.5 161L664.6 162.5L666.8 162.7L668.1 163.9L668.6 164.6L670.9 164.4L673.2 164.4L675 165.4L677.3 164.7L680 164.2L682.6 164.2L681.2 164.6L681.7 165.6L684.6 166.4L684.9 167.7L686.9 168.9L689.2 169.7L691 172.1L693.8 173.9L697.9 174.1L700.7 174.3L704.5 176.1L706.2 177.6L707.3 179.1L708.7 182.4L709.8 184.2L709.6 185.9L708.9 186.3L707.1 186.5L708 187.5L711 186.7L713.2 186.8L713.2 189.2L715.5 187.6L719 188.6L721.7 190L722.9 191.5L724.9 191.3L728.6 192.3L732.7 192.2L736.1 194L738.9 196L741.9 196.9L743.5 197.1L743.7 198.3L744.5 201L744.4 203L742.6 206.3L739.6 208.9L736.1 213.2L735 216.9L735 220.5L734.5 223.4L733.4 226.9L732 228.3L730.4 231L730.4 231.8L728.1 233.8L725.4 233.8L721.9 234.5L718.3 236L714.6 238L713.2 239.1L713 241.2L713 243.4L712.6 245.5L709.8 247.6L707.1 250.5L705 252.9L702 256.1L700.7 257.5L698.5 258.6L695.6 258.5L692 257.6L690.6 256.9L690.6 257.9L693.3 259.8L693.1 261.2L694.5 261.9L692.6 265L689.2 266.4L684.6 267L681.9 266.6L681.9 269.1L681.7 270.8L678.2 271.5L675.5 270.8L675.2 272.2L677.1 273.9L678.7 274.7L676.6 274.9L675.5 275.9L674.8 278.4L673.9 279.5L669.7 281.5L670.9 282.8L673.6 284L673.4 285.5L669.5 288.4L667.5 290.4L666.3 291.9L665.9 293.1L667.7 294.7L665.2 295L662 295.6L661.7 297.7L658.3 297L656 296L653.3 295.4L652.6 292.9L651.9 289.8L651.4 286.7L651.2 283.6L653.7 281.3L655.3 279.5L657.2 276.3L654.2 275.9L654.4 272.8L655.5 270.1L656 267.9L656.7 263.3L657.8 259.8L660.1 255.9L660.4 254.7L660.6 250.5L660.9 248.3L660.6 245.3L662 242.2L662.9 238.9L663.1 235.2L663.7 231.8L663.7 228.1L663.3 224.6L660.8 222.7L657.6 220.9L652.1 218.2L649.6 215.3L649.8 214L647.6 211.2L646.4 209.1L645 207L644.3 205.1L643.4 203.1L641.4 200.6L639.7 199.1L638.4 198.5L638.6 196.9L638 195.9L640 193.5L641.4 192.5L641.4 191.3L640.4 191.9L639.1 191.1L639.4 188.4L640.9 186.3L641.1 184.6L643.6 183.3L644.8 181.1L646.8 180.5L647.8 178.3L647.1 176.6L647.3 174.7L646.8 172.6L645.9 171.4ZM667.2 295.3L668.1 296.6L669.5 298.1L675 299.4L672 300.3L667.9 301L664 300.6L660.6 298.9L659.4 298.1L662.9 297.3L663.1 296L665.6 295.2L667.2 295.3ZM629.9 141.1L632 139.3L634.3 138.7L635.6 138.4L638.8 138.5L641.1 138.8L643.4 139.9L645.7 140.1L647.5 141.4L650.3 142.5L652.6 143.5L654.5 144.4L652.6 145.1L650.7 145L646.4 145.2L647.5 144L645.5 143.5L644.6 142.2L642.3 141.4L640 140.7L637.7 140.3L636.1 139.9L634.3 140.4L632.2 140.8L629.9 141.1ZM653.8 148.3L656.2 147.8L658.6 147.9L657.6 146.8L656.2 145.5L657.8 145.1L660.1 145.2L662.4 145.3L664.2 145.6L665.9 146.3L667.7 147.7L667 148.6L664.2 148.1L662.4 148.5L660.8 149.9L659.9 149L658.3 148.6L655.3 148.9L653.8 148.3ZM723.8 62.5L720.1 61.7L714.4 60.2L711 58.4L708.7 55.9L705.9 53.4L704.1 50.7L701.3 47.8L701.8 45.5L704.1 44.1L707.5 43.1L705.2 41.6L699.5 40.8L698.8 40L701.8 38.9L697.2 37.3L696.1 35.2L692.6 32.1L690.4 30L684.6 29L677.8 28.8L667.5 29L664 27.9L661.7 26.9L660.6 25.3L657.2 24.4L658.3 23.2L667.5 22.6L674.3 21.3L675.5 20.5L670.9 19.9L677.8 18.2L684.6 17L693.8 16.1L705.2 15.9L716.7 15.5L728.1 14.1L741.9 13.4L755.6 13.2L767.1 14.1L773.9 15.5L769.3 16.6L755.6 16.4L769.3 17.2L780.8 17.4L796.4 17.6L792.2 19L786.5 20.3L783.1 21.7L779.7 23.8L781.9 25.9L779.7 27.3L777.4 29.2L779.7 30.6L777.4 32.3L773.9 34.2L768.2 34.8L772.8 36.2L768.2 37.3L773.9 38.3L774.4 40.4L767.1 40L761.3 40.6L767.1 41L770.5 41.8L765.9 43.5L760.2 44.9L753.3 45.3L748.7 47L744.2 49.1L738.2 50.5L733.9 51.1L731.6 53.2L730.4 55.9L727.4 58L726.3 60L725.2 61.7L723.8 62.5ZM675.5 58.2L672 58L667.5 56.7L664 56.1L660.6 54.6L658.3 53.8L654.9 53L651.4 52.8L646.8 53.2L645.7 51.8L649.1 50.9L654.9 50.7L656 48.6L658.3 46.6L656 44.9L652.6 44.5L649.1 43.5L645.7 41.8L643.4 40.8L638.8 41.4L630.8 41.4L627.4 40.4L621.7 39.3L618.7 38.1L619.4 35.6L620.5 33.7L627.4 33.5L630.8 34.4L636.5 33.7L640 33.7L645.7 35.2L649.1 34.6L650.3 35.6L653.7 37.3L658.3 38.1L661.7 39.3L666.3 40.4L669.7 42L670.9 43.5L676.6 45.5L681.2 47L683.9 48.4L681.2 49.7L677.8 49.9L669.7 48.6L673.2 51.8L676.6 52.8L678.2 52.2L675.5 54.9L667.5 54.3L672 56.3L675.5 58.2ZM558.7 43.5L564.4 44.4L572.4 44.2L581.6 43.7L586.2 44.3L591.9 43.1L593 42L589.6 40.4L585 39.5L585 38.1L582.7 35.6L579.3 34.6L574.7 35.4L571.3 35.2L565.6 35.6L562.1 34.4L554.1 35.4L553 37.5L555.3 38.5L552.1 39.3L555.3 40.2L567.9 40.6L556.4 41L555.3 42L558.7 43.5ZM542.7 39.1L536.9 36.8L538.1 34.2L540.4 32.5L546.1 32.1L554.1 32.7L559.8 34.4L555.3 36.2L549.5 38.3L542.7 39.1ZM556.4 30.4L563.3 31.7L571.3 31.9L579.3 31.3L582.7 29.8L578.2 28.6L572.4 28.2L565.6 28.4L558.7 27.7L555.3 29L556.4 30.4ZM619.4 28.2L627.4 28.4L636.5 28.2L643.4 27.1L645.7 25.7L651.4 24.4L650.3 22.8L657.2 21.5L664 20.1L672 18.6L678.9 17.2L682.3 15.7L670.9 14.7L657.2 14.3L643.4 14.5L629.7 15.5L617.1 16.8L615.9 18.6L622.8 19.9L625.1 21.5L628.5 23L623.9 24.4L619.4 26.3L619.4 28.2ZM604.5 30L612.5 31.7L622.8 32.1L632 32.1L641.1 31.7L642.3 30.2L636.5 29.2L627.4 29.6L619.4 29L613.6 27.9L605.6 27.3L603.3 28.6L604.5 30ZM605.6 24.2L615.9 24.2L623.9 23L625.1 21.1L620.5 19.7L614.8 18.2L607.9 18.2L604.5 20.1L606.8 22.1L605.6 24.2ZM605.6 37.1L610.2 37.3L615.9 36L618.2 33.9L614.8 32.9L606.8 33.1L605.2 35.2L605.6 37.1ZM589.6 37.9L596.5 38.7L602.2 37.9L603.3 35.6L599.9 33.3L594.2 33.3L590.7 35.2L589.6 37.9ZM596.5 43.5L601.1 44.5L605.6 43.5L604.5 41.8L599.9 41.6L596.5 43.5ZM625.1 51.3L628.5 50.1L632 49.9L636.5 52.2L640.7 54.2L637.7 55.1L633.1 53.8L628.5 55.5L624.6 54.4L627.4 52.8L625.1 51.3ZM586.2 30.6L594.2 31.1L601.1 30L598.8 27.7L590.7 27.7L586.2 29L586.2 30.6ZM543.8 29L551.8 29.4L559.8 27.9L556.4 26.3L549.5 25.9L542.7 27.5L543.8 29ZM603.3 31.1L609.1 31.9L610.4 30.4L606.8 29.7L603.3 31.1ZM585 24.2L595.3 25.3L602.2 24.6L601.1 22.8L590.7 22.1L583.9 22.8L585 24.2ZM566.7 25.9L572.4 26.1L573.6 24.8L569 24.2L565.6 24.8L566.7 25.9ZM564.4 24.2L571.3 24.2L573.6 23.4L567.9 23L564.4 24.2ZM640 35.2L644.6 35.4L649.1 35L645.7 33.7L640 33.7L640 35.2ZM688.5 87.8L688.5 87.1L690.4 84.9L692 83.2L693.8 81.1L696.1 79.5L697.2 79.9L696.1 81.8L694.5 83.2L697.2 83L699.5 83.8L701.8 84.2L702.9 85.7L700.9 86.9L703.4 86.7L703.7 87.9L702.7 89.7L701.3 89.4L700.2 88.2L698.4 89.2L696.3 88.8L697.2 87.8L694.2 87.9L691.5 87.7L688.5 87.8ZM541.7 86.2L540.4 86.1L536.5 84.9L534.2 83.6L531.4 82.5L530.3 81.2L532.6 81L535.8 82L537.6 82.8L539.9 84.2L541.5 85.7L541.7 86.2Z"/>
<path id="seap" d="M66.4 101L64.3 100.2L63.9 99.2L63 98.3L63.9 96.9L65.5 95.7L65.6 94.8L67.8 93.2L68.1 92.2L69.1 91.4L70.4 90L72.1 89.8L73.3 90L74.6 90.9L76.7 90.9L77 91.4L74.4 92.4L76.5 92.7L76.8 94L77.3 94.4L78.8 94.2L81.1 93.2L83.5 92.9L83.8 92.3L82.1 92.2L80.1 91.7L79.7 90.8L81.1 90.3L84.3 89.5L86 88.8L88.4 88.7L90 88.6L89.1 89.2L87.6 89.6L86.6 89.8L87.2 91.1L86.1 91.8L84.7 92.4L83.9 92.7L85.4 93.3L86.6 93.8L88.2 94.5L89.5 95L90.9 96L92.3 97.1L93.9 97.3L95.1 98.5L95.4 99L95.3 100.1L93.9 101L92 101.5L90.9 101.4L87.9 101.5L85.9 101.3L84 100.8L83.2 100.8L82.7 100L80.6 99.4L77.9 99.5L76.2 99.4L74.2 99.9L71.9 101L69.4 101.1L66.4 101ZM108.8 91.7L111.1 90.9L113.3 89.9L116.8 89.2L119.1 89.2L121.6 89.8L121.8 92.4L120.7 92.3L117.5 92.6L116.8 94L115.2 94L116.5 95.2L117.2 96L119.1 97.5L120.4 98.1L120.1 99.9L122.3 99.2L125 99.6L125.2 101L123.2 101.6L121.1 101.2L121.1 103.5L122.3 104.5L121.6 104.9L123.4 105.8L123.3 109L123.6 109.8L121.4 110.2L119.1 110.5L116.8 110.2L114.5 108.9L112.4 108.4L112 106.8L112 105.2L112.9 104.8L113.3 103.1L115.2 102.8L114.1 102.7L113.3 102.1L112.2 100.6L111.1 99.4L109.2 97.5L108.8 96L108.5 94.4L107.2 93.8L107.6 92.1L108.8 91.7Z"/>
<path id="antp" d="M-6.9 334.3L0 334.3L16.3 331.4L24.3 333.1L40.3 330.8L51.7 332.9L64.6 332L72.8 330.4L76.7 328.3L88.2 330.8L96.9 328.3L113.1 325.4L121.1 323.1L129.4 323.1L134.2 325.4L142.2 327.1L146.3 325.8L157.5 327.1L160.1 329.5L155.9 331.2L155.9 335.1L161.7 336L169.7 331.2L180.9 327.9L187.5 325.4L198.7 325L201.3 324L206.1 325.8L227.8 325.8L235.2 322.3L240.9 325L249.8 325L259.4 323.1L270.6 325.8L282.1 324.6L296.5 324.2L308 323.5L309.6 321.5L311.9 324.6L332 325L337 327.7L351.5 329.1L367.7 332L383.8 333.5L391.1 334.7L390.2 337.2L377.3 341.1L374.1 344L375.7 347.6L381.5 349.4L366.4 350.9L366.1 353.8L382.4 357.7L400.7 360.8L412.1 361.8L412.1 361.8L423.4 361.4L433.9 360L449.2 362.7L462.3 363.5L485 363.9L497.1 362.5L488.2 361.4L473.5 359.8L472.8 357.1L474.4 355.8L465.5 355L476.7 354.6L487.3 352.9L488.9 351.7L483.1 350L465.5 348.6L461.4 347.3L462.3 346.1L476.7 346.9L488.2 344L490.5 342.4L499.4 342L512.4 340.5L525.3 340.3L532.6 339.3L539.9 340.1L551.1 340.1L562.4 339.3L564.9 340.9L577 342L589.8 341.3L594.6 342.4L591.4 340.9L586.6 338.7L587.5 336.8L591.4 335.1L602.9 335.5L599.7 337.6L606.1 338.7L618.2 338L627.8 338.4L639.3 339.3L648.9 340.1L656.9 338.4L668.4 337.2L670.9 335.3L669.5 332.6L666.8 330.4L671.6 324.6L682.8 319.8L691.7 318.2L681.2 321.5L674.1 325.4L679.6 328.7L683.7 333.5L684.4 337.6L678 340.9L666.8 343.2L647.3 346.5L654.6 347.6L646.6 349L645.7 350.7L660.4 353.8L671.6 355.4L691 358.7L707.1 357.1L724.9 356.2L737.7 354.6L757.2 352.9L757.9 351.7L746 350.7L741.9 349.4L746 348.2L763.6 345.3L779.9 342.8L787.9 340.9L787 338.9L794.3 336.6L800.7 333.9L808 334.3L808.7 333.3L831.2 333.3L831.2 378.8L-6.9 378.8Z"/>
<g id="coastlines" fill="none" stroke="#000" stroke-width="0.85" stroke-linejoin="round"><use href="#landp"/><use href="#seap"/><use href="#antp"/></g>
<filter id="qA" x="-20" y="-20" width="870" height="420" filterUnits="userSpaceOnUse" color-interpolation-filters="sRGB"><feGaussianBlur stdDeviation="0.75"/><feComponentTransfer><feFuncR type="discrete" tableValues="0.0000 0.0000 0.0000 0.2118 0.2471 0.2902 0.4784 0.6275 0.7843 0.9216 1.0000 1.0000 1.0000 1.0000 1.0000 1.0000 1.0000 1.0000 1.0000 1.0000"/><feFuncG type="discrete" tableValues="0.2039 0.3529 0.4588 0.5255 0.5961 0.6588 0.6980 0.7373 0.7804 0.8118 0.7647 0.6471 0.5490 0.4667 0.3333 0.1647 0.1647 0.1647 0.1647 0.1647"/><feFuncB type="discrete" tableValues="0.9725 0.7804 0.5882 0.4353 0.2627 0.0706 0.0706 0.1020 0.1255 0.1569 0.1255 0.0784 0.0392 0.0000 0.0000 0.0000 0.0000 0.0000 0.0000 0.0000"/></feComponentTransfer></filter>
<filter id="qD" x="-20" y="-20" width="870" height="420" filterUnits="userSpaceOnUse" color-interpolation-filters="sRGB"><feGaussianBlur stdDeviation="0.8"/><feComponentTransfer><feFuncR type="discrete" tableValues="0.0000 0.1412 0.2863 0.4275 0.5725 0.7137 0.8588 1.0000 1.0000 1.0000 1.0000 1.0000 1.0000 1.0000 1.0000"/><feFuncG type="discrete" tableValues="0.1725 0.2902 0.4078 0.5255 0.6471 0.7647 0.8824 1.0000 0.8824 0.7608 0.6431 0.5216 0.4039 0.2824 0.1647"/><feFuncB type="discrete" tableValues="1.0000 1.0000 1.0000 1.0000 1.0000 1.0000 1.0000 1.0000 0.8588 0.7137 0.5725 0.4275 0.2863 0.1412 0.0000"/></feComponentTransfer></filter>
<filter id="b1" x="-20" y="-20" width="870" height="420" filterUnits="userSpaceOnUse" color-interpolation-filters="sRGB"><feGaussianBlur stdDeviation="1.2"/></filter>
<filter id="b2" x="-20" y="-20" width="870" height="420" filterUnits="userSpaceOnUse" color-interpolation-filters="sRGB"><feGaussianBlur stdDeviation="2.0"/></filter>
<filter id="b3" x="-20" y="-20" width="870" height="420" filterUnits="userSpaceOnUse" color-interpolation-filters="sRGB"><feGaussianBlur stdDeviation="2.8"/></filter>
<filter id="b4" x="-20" y="-20" width="870" height="420" filterUnits="userSpaceOnUse" color-interpolation-filters="sRGB"><feGaussianBlur stdDeviation="4.0"/></filter>
<filter id="b2n" x="-20" y="-20" width="870" height="420" filterUnits="userSpaceOnUse" color-interpolation-filters="sRGB"><feGaussianBlur stdDeviation="1.8" result="bl"/><feTurbulence type="fractalNoise" baseFrequency="0.11" numOctaves="2" seed="7" result="tn"/><feColorMatrix in="tn" type="matrix" values="1 0 0 0 0  1 0 0 0 0  1 0 0 0 0  0 0 0 0 1" result="ng"/><feComposite in="bl" in2="ng" operator="arithmetic" k1="0.62" k2="0.69" k3="0" k4="0"/></filter>
<filter id="b2i" x="-20" y="-20" width="870" height="420" filterUnits="userSpaceOnUse" color-interpolation-filters="sRGB"><feGaussianBlur stdDeviation="2.0" result="bl"/><feTurbulence type="fractalNoise" baseFrequency="0.07" numOctaves="2" seed="3" result="tn"/><feColorMatrix in="tn" type="matrix" values="1 0 0 0 0  1 0 0 0 0  1 0 0 0 0  0 0 0 0 1" result="ng"/><feComposite in="bl" in2="ng" operator="arithmetic" k1="0.2" k2="0.9" k3="0" k4="0"/></filter>
<filter id="b3i" x="-20" y="-20" width="870" height="420" filterUnits="userSpaceOnUse" color-interpolation-filters="sRGB"><feGaussianBlur stdDeviation="2.7" result="bl"/><feTurbulence type="fractalNoise" baseFrequency="0.08" numOctaves="2" seed="11" result="tn"/><feColorMatrix in="tn" type="matrix" values="1 0 0 0 0  1 0 0 0 0  1 0 0 0 0  0 0 0 0 1" result="ng"/><feComposite in="bl" in2="ng" operator="arithmetic" k1="0.3" k2="0.85" k3="0" k4="0"/></filter>
<mask id="landmask" maskUnits="userSpaceOnUse" x="-20" y="-20" width="870" height="420"><rect x="-20" y="-20" width="870" height="420" fill="#000"/><use href="#fillp" fill="#fff" stroke="#fff" stroke-width="2.8" stroke-linejoin="round"/><use href="#seap" fill="#000" stroke="#000" stroke-width="0.6"/></mask>
<g id="fieldA" filter="url(#qA)"><rect x="-20" y="-20" width="870" height="420" fill="rgb(18,18,18)"/><g filter="url(#b1)"><path d="M-53.8 191.5L-50.1 187.3L-47.8 179.6L-44.9 170.7L-42.4 162.9L-40.5 157.3L-38.9 153.8L-37.6 151.8L-36.6 151.1L-35.7 151.8L-34.3 154L-33 157.8L-31.4 163.4L-29.3 170.7L-26.8 179.6L-24.9 187.3L-23.9 191.5L-19.5 191.5L-15.8 187.3L-13.5 179.6L-10.6 170.7L-8.1 162.9L-6.1 157.3L-4.6 153.8L-3.3 151.8L-2.3 151.1L-1.3 151.8L0 154L1.4 157.8L2.9 163.4L5 170.7L7.5 179.6L9.5 187.3L10.4 191.5L14.9 191.5L18.6 187.3L20.9 179.6L23.8 170.7L26.3 162.9L28.2 157.3L29.7 153.8L31.1 151.8L32.1 151.1L33.2 151.8L34.8 154L36.4 157.8L38.2 163.4L40.8 170.7L43.7 179.6L46 187.3L47.2 191.5L49.2 191.5L51.3 188.4L52.7 183.4L53.8 176.5L55 169.6L56.6 164.1L58.8 160L61.6 157L64.1 155.6L66.4 155.3L68.7 155.6L71.2 157.2L73.7 160.4L75.8 164.7L77.2 170L78.3 176.5L79.5 183.4L80.6 188.4L81.5 191.5L83.6 191.5L85.6 188.4L87 183.4L88.2 176.5L89.3 169.6L90.9 164.1L93.2 160L95.9 157L98.5 155.6L100.7 155.3L102.7 155.6L104.9 157.2L107 160.4L108.8 164.7L110 170L110.9 176.5L111.9 183.4L112.9 188.4L113.7 191.5L117.9 191.5L122.2 188.4L123.3 183.4L124.3 176.5L125.3 169.6L126.7 164.1L128.6 160L131 157L133.1 155.6L135.1 155.3L137.1 155.6L139.2 157.2L141.4 160.4L143.1 164.7L144.3 170L145.3 176.5L146.3 183.4L147.2 188.4L148 191.5L152.3 191.5L156.5 188.4L157.7 183.4L158.7 176.5L159.6 169.6L161 164.1L163 160L165.3 157L167.5 155.6L169.4 155.3L171.4 155.6L173.6 157.2L175.7 160.4L177.5 164.7L178.7 170L179.6 176.5L180.6 183.4L181.6 188.4L182.4 191.5L186.6 191.5L190.8 188.4L192 183.4L193 176.5L194 169.6L195.4 164.1L197.3 160L199.7 157L201.8 155.6L203.8 155.3L205.7 155.6L207.9 157.2L210.1 160.4L211.8 164.7L213 170L214 176.5L215 183.4L215.9 188.4L216.7 191.5L221 191.5L225.2 188.4L226.4 183.4L227.4 176.5L228.3 169.6L229.7 164.1L231.7 160L234 157L236.2 155.6L238.1 155.3L240.1 155.6L242.2 157.2L244.4 160.4L246.2 164.7L247.3 170L248.3 176.5L249.3 183.4L250.3 188.4L251.1 191.5L255.3 191.5L259.5 188.4L260.7 183.2L261.7 176L262.7 168.7L264 162.9L266 158.6L268.4 155.5L270.5 154L272.5 153.6L274.6 154L277 155.7L279.4 159L281.4 163.5L282.7 169.1L283.8 176L284.8 183.2L285.9 188.4L286.8 191.5L289.6 191.5L292.5 188.4L293.8 183.2L294.9 176L296 168.7L297.5 162.9L299.7 158.6L302.3 155.5L304.7 154L306.8 153.6L309 154L311.4 155.7L313.8 159L315.7 163.5L317 169.1L318.1 176L319.2 183.2L320.3 188.4L321.1 191.5L324 191.5L326.9 188.4L328.2 183.2L329.2 176L330.3 168.7L331.8 162.9L334 158.6L336.6 155.5L339 154L341.2 153.6L343.3 154L345.7 155.7L348.1 159L350.1 163.5L351.4 169.1L352.4 176L353.5 183.2L354.6 188.4L355.5 191.5L358.3 191.5L361.2 188.4L362.5 183.2L363.6 176L364.7 168.7L366.2 162.9L368.4 158.6L371 155.5L373.3 154L375.5 153.6L377.7 154L380.1 155.7L382.5 159L384.4 163.5L385.7 169.1L386.8 176L387.9 183.2L389 188.4L389.8 191.5L392.7 191.5L394.7 187.3L397.3 180.1L400.5 171.8L403.4 164.6L405.5 159.4L407.3 156.1L408.8 154.2L409.9 153.6L411 154.2L412.6 156.3L414.2 159.8L416 165L418.6 171.8L421.5 180.1L423.8 187.3L425 191.5L427 191.5L428.2 187.3L430.9 180.1L434.4 171.8L437.3 164.6L439.6 159.4L441.5 156.1L443.1 154.2L444.2 153.6L445.4 154.2L447 156.3L448.6 159.8L450.4 165L452.9 171.8L455.9 180.1L458.2 187.3L459.3 191.5L461.4 191.5L462.5 187.3L465.3 180.1L468.7 171.8L471.7 164.6L474 159.4L475.8 156.1L477.4 154.2L478.6 153.6L479.7 154.2L481.3 156.3L482.9 159.8L484.7 165L487.3 171.8L490.2 180.1L492.5 187.3L493.7 191.5L495.7 191.5L496.9 187.3L499.6 180.1L503.1 171.8L506 164.6L508.3 159.4L510.2 156.1L511.8 154.2L512.9 153.6L514 154.2L515.6 156.3L517.2 159.8L519.1 165L521.6 171.8L524.6 180.1L526.9 187.3L528 191.5L530.1 191.5L531.2 187.3L534 180.1L537.4 171.8L540.4 164.6L542.7 159.4L544.5 156.1L546.1 154.2L547.2 153.6L548.4 154.2L550 156.3L551.6 159.8L553.4 165L555.9 171.8L558.9 180.1L561.2 187.3L562.4 191.5L564.4 191.5L565.6 187.3L568.3 180.9L571.7 173.6L574.7 167.3L577 162.8L578.8 159.9L580.4 158.3L581.6 157.7L582.7 158.3L584.3 160.1L585.9 163.2L587.8 167.7L590.3 173.6L593.3 180.9L595.6 187.3L596.7 191.5L598.8 191.5L599.9 187.3L602.7 182.4L606.1 177.2L609.1 172.7L611.4 169.4L613.2 167.4L614.8 166.2L615.9 165.8L617.1 166.2L618.7 167.5L620.3 169.7L622.1 172.9L624.6 177.2L627.6 182.4L629.9 187.3L631 191.5L633.1 191.5L634.3 187.3L637 180.1L640.4 171.8L643.4 164.6L645.7 159.4L647.5 156.1L649.1 154.2L650.3 153.6L651.4 154.2L653 156.3L654.6 159.8L656.5 165L659 171.8L662 180.1L664.2 187.3L665.4 191.5L667.5 191.5L668.6 187.3L671.3 179.6L674.8 170.7L677.8 162.9L680 157.3L681.9 153.8L683.5 151.8L684.6 151.1L685.6 151.8L686.9 154L688.3 157.8L689.8 163.4L691.9 170.7L694.4 179.6L696.4 187.3L697.3 191.5L701.8 191.5L705.5 187.3L707.8 179.6L710.7 170.7L713.2 162.9L715.1 157.3L716.7 153.8L718 151.8L719 151.1L719.9 151.8L721.3 154L722.6 157.8L724.2 163.4L726.3 170.7L728.8 179.6L730.7 187.3L731.7 191.5L736.1 191.5L739.8 187.3L742.2 179.6L745 170.7L747.5 162.9L749.5 157.3L751 153.8L752.4 151.8L753.3 151.1L754.3 151.8L755.6 154L757 157.8L758.5 163.4L760.6 170.7L763.1 179.6L765.1 187.3L766 191.5L770.5 191.5L774.2 187.3L776.5 179.6L779.4 170.7L781.9 162.9L783.8 157.3L785.4 153.8L786.7 151.8L787.7 151.1L788.6 151.8L790 154L791.3 157.8L792.9 163.4L795 170.7L797.5 179.6L799.4 187.3L800.4 191.5L804.8 191.5L808.5 187.3L810.8 179.6L813.7 170.7L816.2 162.9L818.2 157.3L819.7 153.8L821 151.8L822 151.1L823 151.8L824.3 154L825.7 157.8L827.2 163.4L829.3 170.7L831.8 179.6L833.8 187.3L834.7 191.5L839.2 191.5L842.9 187.3L845.2 179.6L848.1 170.7L850.6 162.9L852.5 157.3L854 153.8L855.4 151.8L856.4 151.1L857.5 151.8L859.1 154L860.7 157.8L862.5 163.4L865.1 170.7L868 179.6L870.3 187.3L871.5 191.5L870.1 248.4L842.6 248.4L824.3 247.4L812.2 243L801.4 242.2L787.7 239.7L776.2 240.1L763.6 243L747.6 236.4L732.7 240.1L714.4 247.8L686.9 250.5L659.4 252.5L636.5 252.5L618.2 251.1L606.1 244.5L595.3 244.3L581.8 247.8L573.8 243L563.3 242.2L549.5 244.5L541.5 239.7L531.2 238L517.2 241.4L509 234.9L499.2 233.9L485 236.4L476.7 230L467.1 233.9L452.4 234.9L444.2 238L435 239.1L416.7 234.9L412.1 244.3L404.8 239.7L383.8 246.1L367.7 251.1L351.5 239.7L343.5 242.2L258.7 246.3L247.3 247.8L235.8 244.3L217.5 242.2L194.6 243.2L171.7 245.3L148.8 243.2L125.9 245.3L103 244.3L80.1 246.3L57.2 248.4L34.3 248.4L18.3 248.4L0 247.4L-22.9 244.3L-45.8 246.3Z" fill="rgb(10,10,10)"/><path d="M-27.5 190.4L-28.1 194.9L-28.6 199.4L-29 203.9L-29.4 208.4L-29.5 212.9L-27.5 217.4L-27.5 217.4L-23.5 212.9L-21.6 208.4L-20 203.9L-18.4 199.4L-17 194.9L-15.6 190.4Z" fill="rgb(18,18,18)"/><path d="M6.9 190.4L6.3 194.9L5.8 199.4L5.3 203.9L5 208.4L4.8 212.9L6.9 217.4L6.9 217.4L10.9 212.9L12.7 208.4L14.4 203.9L15.9 199.4L17.4 194.9L18.8 190.4Z" fill="rgb(18,18,18)"/><path d="M43.6 190.4L43.4 193.5L43.2 196.7L43 199.8L42.8 202.9L42.8 206L43 209.1L43 209.1L44.7 206L46 202.9L47.2 199.8L48.4 196.7L49.6 193.5L50.7 190.4Z" fill="rgb(18,18,18)"/><path d="M78 190.4L77.7 193.5L77.5 196.7L77.3 199.8L77.2 202.9L77.1 206L77.4 209.1L77.4 209.1L79 206L80.4 202.9L81.6 199.8L82.8 196.7L83.9 193.5L85.1 190.4Z" fill="rgb(18,18,18)"/><path d="M110.1 190.4L109.7 194.2L109.3 198L109 201.8L108.8 205.6L108.8 209.4L110.8 213.2L110.8 213.2L114.6 209.4L116.2 205.6L117.7 201.8L119.1 198L120.3 194.2L121.6 190.4Z" fill="rgb(18,18,18)"/><path d="M144.5 190.4L144 194.2L143.7 198L143.3 201.8L143.1 205.6L143.1 209.4L145.2 213.2L145.2 213.2L148.9 209.4L150.6 205.6L152 201.8L153.4 198L154.7 194.2L155.9 190.4Z" fill="rgb(18,18,18)"/><path d="M178.8 190.4L178.4 194.2L178 198L177.7 201.8L177.5 205.6L177.5 209.4L179.5 213.2L179.5 213.2L183.2 209.4L184.9 205.6L186.4 201.8L187.7 198L189 194.2L190.3 190.4Z" fill="rgb(18,18,18)"/><path d="M213.2 190.4L212.7 194.2L212.3 198L212 201.8L211.8 205.6L211.8 209.4L213.9 213.2L213.9 213.2L217.6 209.4L219.3 205.6L220.7 201.8L222.1 198L223.4 194.2L224.6 190.4Z" fill="rgb(18,18,18)"/><path d="M247.5 190.4L247.2 193.5L247 196.7L246.8 199.8L246.8 202.9L246.9 206L249.1 209.1L249.1 209.1L252.7 206L254.2 202.9L255.5 199.8L256.7 196.7L257.9 193.5L259 190.4Z" fill="rgb(18,18,18)"/><path d="M283.2 190.4L283.1 193.5L283 196.7L282.9 199.8L282.9 202.9L283 206L283.5 209.1L283.5 209.1L285.3 206L286.8 202.9L288.2 199.8L289.5 196.7L290.7 193.5L291.9 190.4Z" fill="rgb(18,18,18)"/><path d="M317.6 190.4L317.4 193.5L317.3 196.7L317.2 199.8L317.2 202.9L317.3 206L317.8 209.1L317.8 209.1L319.7 206L321.1 202.9L322.5 199.8L323.8 196.7L325.1 193.5L326.3 190.4Z" fill="rgb(18,18,18)"/><path d="M351.9 190.4L351.8 193.5L351.7 196.7L351.6 199.8L351.6 202.9L351.7 206L352.2 209.1L352.2 209.1L354 206L355.5 202.9L356.8 199.8L358.1 196.7L359.4 193.5L360.6 190.4Z" fill="rgb(18,18,18)"/><path d="M386.3 190.4L385.1 198L384 205.6L383 213.2L382 220.8L381 228.4L380.6 236L380.6 236L383.4 228.4L385.9 220.8L388.2 213.2L390.5 205.6L392.8 198L395 190.4Z" fill="rgb(18,18,18)"/><path d="M421.4 190.4L420.2 198L419 205.6L417.8 213.2L416.7 220.8L415.6 228.4L414.9 236L414.9 236L417.5 228.4L419.8 220.8L422.1 213.2L424.2 205.6L426.4 198L428.5 190.4Z" fill="rgb(18,18,18)"/><path d="M455.8 190.4L454.5 198L453.3 205.6L452.1 213.2L451 220.8L450 228.4L449.2 236L449.2 236L451.9 228.4L454.2 220.8L456.4 213.2L458.6 205.6L460.7 198L462.9 190.4Z" fill="rgb(18,18,18)"/><path d="M490.1 190.4L490 193.2L489.8 196L489.7 198.7L489.6 201.5L489.7 204.2L490 207L490 207L491.6 204.2L492.8 201.5L494 198.7L495.1 196L496.2 193.2L497.2 190.4Z" fill="rgb(18,18,18)"/><path d="M524.5 190.4L524.4 192.9L524.3 195.3L524.3 197.7L524.3 200.1L524.4 202.5L524.8 204.9L524.8 204.9L526.3 202.5L527.5 200.1L528.5 197.7L529.6 195.3L530.6 192.9L531.6 190.4Z" fill="rgb(18,18,18)"/><path d="M558.8 190.4L558.7 192.9L558.7 195.3L558.6 197.7L558.6 200.1L558.7 202.5L559.2 204.9L559.2 204.9L560.6 202.5L561.8 200.1L562.9 197.7L563.9 195.3L564.9 192.9L565.9 190.4Z" fill="rgb(18,18,18)"/><path d="M593.2 190.4L592.8 194.2L592.4 198L592.1 201.8L591.8 205.6L591.5 209.4L591.7 213.2L591.7 213.2L593.5 209.4L594.9 205.6L596.3 201.8L597.7 198L599 194.2L600.3 190.4Z" fill="rgb(18,18,18)"/><path d="M627.5 190.4L627.3 193.5L627 196.7L626.9 199.8L626.7 202.9L626.7 206L626.9 209.1L626.9 209.1L628.6 206L629.9 202.9L631.1 199.8L632.3 196.7L633.5 193.5L634.6 190.4Z" fill="rgb(18,18,18)"/><path d="M661.8 190.4L661.6 193.5L661.4 196.7L661.2 199.8L661.1 202.9L661 206L661.3 209.1L661.3 209.1L662.9 206L664.2 202.9L665.5 199.8L666.7 196.7L667.8 193.5L668.9 190.4Z" fill="rgb(18,18,18)"/><path d="M693.8 190.4L693.2 194.9L692.7 199.4L692.2 203.9L691.9 208.4L691.8 212.9L693.8 217.4L693.8 217.4L697.8 212.9L699.7 208.4L701.3 203.9L702.8 199.4L704.3 194.9L705.7 190.4Z" fill="rgb(18,18,18)"/><path d="M728.1 190.4L727.6 194.9L727 199.4L726.6 203.9L726.2 208.4L726.1 212.9L728.1 217.4L728.1 217.4L732.1 212.9L734 208.4L735.6 203.9L737.2 199.4L738.6 194.9L740 190.4Z" fill="rgb(18,18,18)"/><path d="M762.5 190.4L761.9 194.9L761.4 199.4L760.9 203.9L760.6 208.4L760.5 212.9L762.5 217.4L762.5 217.4L766.5 212.9L768.4 208.4L770 203.9L771.5 199.4L773 194.9L774.4 190.4Z" fill="rgb(18,18,18)"/><path d="M796.8 190.4L796.2 194.9L795.7 199.4L795.3 203.9L794.9 208.4L794.8 212.9L796.8 217.4L796.8 217.4L800.8 212.9L802.7 208.4L804.3 203.9L805.9 199.4L807.3 194.9L808.7 190.4Z" fill="rgb(18,18,18)"/><path d="M831.2 190.4L830.6 194.9L830.1 199.4L829.6 203.9L829.3 208.4L829.1 212.9L831.2 217.4L831.2 217.4L835.2 212.9L837 208.4L838.7 203.9L840.2 199.4L841.7 194.9L843.1 190.4Z" fill="rgb(18,18,18)"/><path d="M867.9 190.4L867.7 193.5L867.5 196.7L867.3 199.8L867.1 202.9L867.1 206L867.3 209.1L867.3 209.1L869 206L870.3 202.9L871.5 199.8L872.7 196.7L873.9 193.5L875 190.4Z" fill="rgb(18,18,18)"/><ellipse cx="627.4" cy="172.8" rx="11.4" ry="9.3" fill="rgb(18,18,18)"/><ellipse cx="638.8" cy="184.2" rx="8" ry="10.4" fill="rgb(18,18,18)"/><ellipse cx="-22.9" cy="159.4" rx="13.7" ry="10.4" fill="rgb(18,18,18)"/><ellipse cx="801.4" cy="159.4" rx="13.7" ry="10.4" fill="rgb(18,18,18)"/><ellipse cx="21.8" cy="192.5" rx="6.9" ry="12.4" fill="rgb(18,18,18)"/><ellipse cx="846.1" cy="192.5" rx="6.9" ry="12.4" fill="rgb(18,18,18)"/><ellipse cx="24" cy="221.5" rx="6.9" ry="24.8" fill="rgb(18,18,18)"/><ellipse cx="848.3" cy="221.5" rx="6.9" ry="24.8" fill="rgb(18,18,18)"/><ellipse cx="643.4" cy="213.2" rx="13.7" ry="18.6" fill="rgb(18,18,18)"/><ellipse cx="657.2" cy="240.1" rx="6.9" ry="14.5" fill="rgb(18,18,18)"/><ellipse cx="728.1" cy="219.4" rx="8" ry="18.6" fill="rgb(18,18,18)" transform="rotate(-25 728.1 219.4)"/><ellipse cx="709.8" cy="245.3" rx="11.4" ry="6.2" fill="rgb(18,18,18)"/><ellipse cx="103" cy="159.4" rx="18.3" ry="6.2" fill="rgb(18,18,18)"/><ellipse cx="101.9" cy="192.5" rx="7.3" ry="14.5" fill="rgb(18,18,18)" transform="rotate(-35 101.9 192.5)"/><ellipse cx="92.7" cy="213.2" rx="5.7" ry="12.4" fill="rgb(18,18,18)"/><ellipse cx="85.9" cy="229.8" rx="5.7" ry="8.3" fill="rgb(18,18,18)"/><ellipse cx="222.1" cy="159.4" rx="9.2" ry="10.4" fill="rgb(18,18,18)"/><ellipse cx="256.4" cy="159.4" rx="6.9" ry="8.3" fill="rgb(18,18,18)"/><ellipse cx="638.8" cy="155.3" rx="16" ry="6.2" fill="rgb(18,18,18)"/><ellipse cx="665.2" cy="154.2" rx="9.2" ry="7.2" fill="rgb(18,18,18)"/><ellipse cx="693.8" cy="153.2" rx="9.2" ry="6.2" fill="rgb(18,18,18)"/><ellipse cx="650.3" cy="166.6" rx="2.7" ry="5.2" fill="rgb(18,18,18)"/><ellipse cx="684.6" cy="166.6" rx="3.4" ry="4.1" fill="rgb(18,18,18)"/></g><use href="#landp" fill="rgb(18,18,18)" stroke="rgb(18,18,18)" stroke-width="7.8" stroke-linejoin="round"/><g filter="url(#b2i)"><path d="M-22.9 -6.2L-22.9 29L-11.4 22.8L0 18.2L22.9 18.2L45.8 19L68.7 18.2L91.6 17.8L114.5 18.6L125.9 20.1L137.4 21.7L148.8 23.8L160.3 26.5L174 29L183.2 35.2L206.1 35.2L229 35.2L251.9 37.3L274.8 39.3L297.7 41.4L320.6 41.4L343.5 43.5L366.4 44.5L389.3 45.5L412.1 45.5L423.6 41.4L435 38.3L457.9 37.3L480.8 37.3L503.7 37.7L526.6 39.3L538.1 43.5L549.5 45.5L572.4 47.6L595.3 48.6L613.6 49.7L622.8 43.5L636.5 34.2L650.3 29L659.4 25.9L677.8 26.9L686.9 31.1L698.4 29L714.4 24.8L732.7 41.4L746.4 44.5L764.8 42.4L773.9 39.3L783.1 35.2L790 32.1L801.4 27.9L812.9 22.8L824.3 18.2L847.2 18.2L847.2 -6.2Z" fill="rgb(52,52,52)"/><path d="M-22.9 -6.2L-22.9 18.6L0 15.3L45.8 15.7L91.6 15.1L125.9 16.1L142 18L160.3 20.3L183.2 21.7L206.1 21.7L229 21.1L251.9 24.4L274.8 26.9L297.7 27.9L320.6 27.9L343.5 30L366.4 33.1L384.7 36.6L400.7 38.7L412.1 38.3L423.6 35.2L435 33.1L457.9 32.7L480.8 33.1L503.7 33.5L526.6 33.9L538.1 37.3L549.5 41.4L572.4 43.5L595.3 44.5L613.6 43.5L622.8 31.1L641.1 24.8L664 17.6L686.9 13.5L732.7 12.4L778.5 13.5L790 18.6L801.4 18.6L812.9 16.6L824.3 15.3L847.2 15.3L847.2 -6.2Z" fill="rgb(84,84,84)"/><path d="M-22.9 -6.2L-22.9 14.5L0 13.2L45.8 13L91.6 12.8L125.9 13.7L144.3 15.7L171.7 16.6L206.1 17.6L229 18.6L251.9 21.7L274.8 24L309.1 23.6L343.5 25.3L366.4 27.9L380.1 32.1L393.8 34.4L412.1 33.1L423.6 30.6L457.9 29.8L503.7 30.6L531.2 31.1L540.4 35.2L549.5 39.3L572.4 41.4L595.3 42.4L609.1 39.3L618.2 29L629.7 20.7L641.1 12.4L664 7.2L686.9 5.8L732.7 6.6L767.1 7.2L790 11.4L801.4 14.5L824.3 13.2L847.2 13.2L847.2 -6.2Z" fill="rgb(121,121,121)"/><ellipse cx="549.5" cy="8.3" rx="137.4" ry="5.2" fill="rgb(134,134,134)"/><ellipse cx="320.6" cy="9.5" rx="183.2" ry="7" fill="rgb(144,144,144)"/><ellipse cx="393.8" cy="16.6" rx="68.7" ry="7.5" fill="rgb(144,144,144)"/><ellipse cx="435" cy="12.4" rx="34.3" ry="6.2" fill="rgb(145,145,145)"/><ellipse cx="343.5" cy="9.1" rx="50.4" ry="3.9" fill="rgb(161,161,161)"/><ellipse cx="229" cy="7.7" rx="50.4" ry="3.1" fill="rgb(154,154,154)"/><ellipse cx="407.6" cy="13.9" rx="32.1" ry="5.4" fill="rgb(153,153,153)"/><ellipse cx="421.3" cy="14.9" rx="16" ry="5.2" fill="rgb(162,162,162)"/><ellipse cx="512.9" cy="13.5" rx="41.2" ry="4.6" fill="rgb(149,149,149)"/><ellipse cx="517.5" cy="13.7" rx="18.3" ry="2.5" fill="rgb(161,161,161)"/><ellipse cx="377.8" cy="21.7" rx="27.5" ry="3.3" fill="rgb(145,145,145)"/><ellipse cx="-68.7" cy="2.5" rx="183.2" ry="2.1" fill="rgb(110,110,110)"/><ellipse cx="755.6" cy="2.5" rx="183.2" ry="2.1" fill="rgb(110,110,110)"/><ellipse cx="-412.1" cy="1.4" rx="435" ry="1.1" fill="rgb(125,125,125)"/><ellipse cx="412.1" cy="1.4" rx="435" ry="1.1" fill="rgb(125,125,125)"/><ellipse cx="1236.4" cy="1.4" rx="435" ry="1.1" fill="rgb(125,125,125)"/><ellipse cx="403" cy="38.3" rx="11.4" ry="3.1" fill="rgb(128,128,128)"/><ellipse cx="668.6" cy="37.3" rx="13.7" ry="10.4" fill="rgb(34,34,34)"/><ellipse cx="771.6" cy="33.1" rx="11.4" ry="12.4" fill="rgb(51,51,51)" transform="rotate(35 771.6 33.1)"/><ellipse cx="-34.3" cy="24.8" rx="13.7" ry="8.3" fill="rgb(76,76,76)"/><ellipse cx="790" cy="24.8" rx="13.7" ry="8.3" fill="rgb(76,76,76)"/><ellipse cx="286.2" cy="32.7" rx="27.5" ry="2.7" fill="rgb(43,43,43)"/></g><g filter="url(#b3i)"><path d="M-22.9 382.9L-22.9 302.6L0 302.2L22.9 302.2L45.8 303.3L57.2 308.4L68.7 310.3L103 310.3L137.4 310.3L160.3 309.9L183.2 309.7L206.1 313.8L229 316.7L263.3 317.5L297.7 318.2L343.5 318.4L377.8 318.6L412.1 320.6L435 320L457.9 319.2L476.3 316.7L492.3 315.1L508.3 316.7L526.6 319.2L549.5 322.1L572.4 324.8L595.3 326.6L618.2 326.2L641.1 324.2L664 321.7L686.9 319.2L709.8 315.9L732.7 312.6L755.6 309.7L778.5 307L801.4 304.9L824.3 302.2L847.2 302.2L847.2 382.9Z" fill="rgb(128,128,128)"/><path d="M-22.9 382.9L-22.9 312.4L0 312.4L22.9 312.4L45.8 313L57.2 317.5L68.7 319.2L103 319.6L137.4 320.2L160.3 323.3L183.2 324L206.1 320.6L229 321.9L263.3 322.1L297.7 321.7L343.5 322.7L377.8 323.5L412.1 323.7L435 323.3L457.9 322.7L476.3 321.3L492.3 320.4L508.3 321.9L526.6 323.7L549.5 326L572.4 328.5L595.3 330L618.2 329.8L641.1 328.1L664 326L686.9 323.7L709.8 320.6L732.7 318L755.6 315.9L778.5 314L801.4 313L824.3 312.4L847.2 312.4L847.2 382.9Z" fill="rgb(247,247,247)"/><ellipse cx="9.2" cy="321.9" rx="11.4" ry="6.8" fill="rgb(178,178,178)"/><ellipse cx="833.5" cy="321.9" rx="11.4" ry="6.8" fill="rgb(178,178,178)"/><ellipse cx="162.6" cy="321.9" rx="11.4" ry="3.3" fill="rgb(173,173,173)"/><ellipse cx="183.2" cy="318.4" rx="20.6" ry="2.7" fill="rgb(128,128,128)"/><ellipse cx="400.7" cy="342.6" rx="11.4" ry="4.6" fill="rgb(140,140,140)"/><ellipse cx="421.3" cy="341.6" rx="9.2" ry="4.1" fill="rgb(153,153,153)"/><ellipse cx="229" cy="320.9" rx="16" ry="2.1" fill="rgb(168,168,168)"/><ellipse cx="343.5" cy="322.5" rx="13.7" ry="1.7" fill="rgb(168,168,168)"/><ellipse cx="577" cy="339.5" rx="9.2" ry="1.7" fill="rgb(178,178,178)"/><ellipse cx="755.6" cy="341.6" rx="6.9" ry="2.1" fill="rgb(178,178,178)"/><ellipse cx="-18.3" cy="333.3" rx="6.9" ry="1.4" fill="rgb(178,178,178)"/><ellipse cx="806" cy="333.3" rx="6.9" ry="1.4" fill="rgb(178,178,178)"/><ellipse cx="682.3" cy="322.5" rx="3.7" ry="2.1" fill="rgb(173,173,173)"/></g><g mask="url(#landmask)"><g filter="url(#b2n)"><rect x="-20" y="-20" width="870" height="420" fill="rgb(32,32,32)"/><ellipse cx="29.8" cy="53.8" rx="20.6" ry="5.4" fill="rgb(45,45,45)" transform="rotate(-38 29.8 53.8)"/><ellipse cx="854.1" cy="53.8" rx="20.6" ry="5.4" fill="rgb(45,45,45)" transform="rotate(-38 854.1 53.8)"/><ellipse cx="45.8" cy="85.9" rx="59.5" ry="10.8" fill="rgb(45,45,45)" transform="rotate(-3 45.8 85.9)"/><ellipse cx="870.1" cy="85.9" rx="59.5" ry="10.8" fill="rgb(45,45,45)" transform="rotate(-3 870.1 85.9)"/><ellipse cx="-9.2" cy="103.5" rx="12.6" ry="7.9" fill="rgb(45,45,45)"/><ellipse cx="815.1" cy="103.5" rx="12.6" ry="7.9" fill="rgb(45,45,45)"/><ellipse cx="75.6" cy="105.6" rx="20.6" ry="5.4" fill="rgb(48,48,48)"/><ellipse cx="781.9" cy="52" rx="10.3" ry="3.3" fill="rgb(51,51,51)"/><ellipse cx="100.7" cy="90" rx="16" ry="7.2" fill="rgb(47,47,47)"/><ellipse cx="61.8" cy="49.7" rx="18.3" ry="5.2" fill="rgb(41,41,41)"/><ellipse cx="194.6" cy="42.4" rx="68.7" ry="6.6" fill="rgb(48,48,48)"/><ellipse cx="309.1" cy="46.6" rx="103" ry="9.3" fill="rgb(60,60,60)"/><ellipse cx="256.4" cy="38.3" rx="50.4" ry="5.2" fill="rgb(61,61,61)"/><ellipse cx="229" cy="30" rx="22.9" ry="4.1" fill="rgb(74,74,74)"/><ellipse cx="343.5" cy="49.7" rx="61.8" ry="8.7" fill="rgb(69,69,69)"/><ellipse cx="393.8" cy="48.6" rx="22.9" ry="6.2" fill="rgb(71,71,71)"/><ellipse cx="215.2" cy="43.5" rx="9.2" ry="2.9" fill="rgb(84,84,84)"/><ellipse cx="296.5" cy="47" rx="6.4" ry="4.3" fill="rgb(84,84,84)"/><ellipse cx="320.6" cy="49.3" rx="12.6" ry="4.1" fill="rgb(97,97,97)"/><ellipse cx="322.9" cy="56.3" rx="10.3" ry="3.3" fill="rgb(97,97,97)"/><ellipse cx="407.6" cy="45.5" rx="9.2" ry="2.5" fill="rgb(107,107,107)"/><ellipse cx="366.4" cy="46.6" rx="16" ry="3.3" fill="rgb(79,79,79)"/><ellipse cx="309.1" cy="61.1" rx="13.7" ry="4.1" fill="rgb(66,66,66)"/><ellipse cx="160.3" cy="85.9" rx="52.7" ry="14.5" fill="rgb(56,56,56)"/><ellipse cx="139.7" cy="98.3" rx="20.6" ry="8.7" fill="rgb(69,69,69)"/><ellipse cx="137.4" cy="108.1" rx="13.7" ry="5.4" fill="rgb(69,69,69)"/><ellipse cx="128.2" cy="118" rx="18.3" ry="9.3" fill="rgb(60,60,60)"/><ellipse cx="148.8" cy="122.1" rx="13.7" ry="7.2" fill="rgb(62,62,62)"/><ellipse cx="109.9" cy="104.5" rx="9.2" ry="4.1" fill="rgb(51,51,51)"/><ellipse cx="192.3" cy="91.1" rx="18.3" ry="6.2" fill="rgb(64,64,64)"/><ellipse cx="132.8" cy="124.2" rx="6.9" ry="4.1" fill="rgb(69,69,69)"/><ellipse cx="142" cy="115.9" rx="6.9" ry="3.1" fill="rgb(69,69,69)"/><ellipse cx="96.2" cy="119" rx="16" ry="7.2" fill="rgb(79,79,79)"/><ellipse cx="105.3" cy="136.6" rx="21.8" ry="15.5" fill="rgb(96,96,96)" transform="rotate(30 105.3 136.6)"/><ellipse cx="109.9" cy="141.8" rx="11.4" ry="6.2" fill="rgb(110,110,110)" transform="rotate(20 109.9 141.8)"/><ellipse cx="96.2" cy="130.4" rx="9.2" ry="5.2" fill="rgb(107,107,107)"/><ellipse cx="119.1" cy="143.9" rx="13.7" ry="6.8" fill="rgb(103,103,103)"/><ellipse cx="128.2" cy="139.1" rx="6.9" ry="4.1" fill="rgb(92,92,92)"/><ellipse cx="103" cy="151.1" rx="9.2" ry="4.1" fill="rgb(87,87,87)"/><ellipse cx="20.6" cy="138.3" rx="68.7" ry="19.9" fill="rgb(96,96,96)"/><ellipse cx="844.9" cy="138.3" rx="68.7" ry="19.9" fill="rgb(96,96,96)"/><ellipse cx="-20.6" cy="140.8" rx="18.3" ry="13.5" fill="rgb(93,93,93)"/><ellipse cx="803.7" cy="140.8" rx="18.3" ry="13.5" fill="rgb(93,93,93)"/><ellipse cx="68.7" cy="135.6" rx="16" ry="14.5" fill="rgb(97,97,97)"/><ellipse cx="27.5" cy="123" rx="29.8" ry="4.6" fill="rgb(92,92,92)"/><ellipse cx="851.8" cy="123" rx="29.8" ry="4.6" fill="rgb(92,92,92)"/><ellipse cx="-4.6" cy="119" rx="16" ry="3.7" fill="rgb(69,69,69)"/><ellipse cx="819.7" cy="119" rx="16" ry="3.7" fill="rgb(69,69,69)"/><ellipse cx="59.5" cy="125.2" rx="16" ry="3.7" fill="rgb(94,94,94)"/><ellipse cx="27.5" cy="149.5" rx="13.7" ry="4.8" fill="rgb(117,117,117)"/><ellipse cx="851.8" cy="149.5" rx="13.7" ry="4.8" fill="rgb(117,117,117)"/><ellipse cx="11.4" cy="129.4" rx="8" ry="4.1" fill="rgb(116,116,116)"/><ellipse cx="835.7" cy="129.4" rx="8" ry="4.1" fill="rgb(116,116,116)"/><ellipse cx="57.2" cy="132.5" rx="12.6" ry="6.2" fill="rgb(116,116,116)"/><ellipse cx="-11.4" cy="137.7" rx="10.3" ry="5.2" fill="rgb(116,116,116)"/><ellipse cx="812.9" cy="137.7" rx="10.3" ry="5.2" fill="rgb(116,116,116)"/><ellipse cx="68.7" cy="142.8" rx="8" ry="4.1" fill="rgb(116,116,116)"/><ellipse cx="-27.5" cy="147" rx="6.9" ry="4.1" fill="rgb(112,112,112)"/><ellipse cx="796.8" cy="147" rx="6.9" ry="4.1" fill="rgb(112,112,112)"/><ellipse cx="34.3" cy="130.4" rx="6.9" ry="3.1" fill="rgb(112,112,112)"/><ellipse cx="-2.3" cy="147" rx="6.9" ry="3.1" fill="rgb(110,110,110)"/><ellipse cx="822" cy="147" rx="6.9" ry="3.1" fill="rgb(110,110,110)"/><ellipse cx="40.1" cy="142.2" rx="5.3" ry="3.3" fill="rgb(71,71,71)"/><ellipse cx="10.3" cy="138.1" rx="6" ry="3.1" fill="rgb(79,79,79)"/><ellipse cx="834.6" cy="138.1" rx="6" ry="3.1" fill="rgb(79,79,79)"/><ellipse cx="19.5" cy="148" rx="3.4" ry="3.1" fill="rgb(79,79,79)"/><ellipse cx="843.8" cy="148" rx="3.4" ry="3.1" fill="rgb(79,79,79)"/><ellipse cx="41.2" cy="160.8" rx="73.3" ry="3.7" fill="rgb(51,51,51)"/><ellipse cx="865.5" cy="160.8" rx="73.3" ry="3.7" fill="rgb(51,51,51)"/><ellipse cx="107.6" cy="168.7" rx="9.6" ry="7.5" fill="rgb(74,74,74)"/><ellipse cx="100.7" cy="176" rx="8" ry="7.2" fill="rgb(56,56,56)"/><ellipse cx="91.6" cy="165.6" rx="6.9" ry="6.2" fill="rgb(51,51,51)"/><ellipse cx="84.7" cy="192.5" rx="10.3" ry="13.5" fill="rgb(45,45,45)"/><ellipse cx="52.7" cy="236" rx="21.8" ry="17.6" fill="rgb(50,50,50)"/><ellipse cx="46.9" cy="236" rx="12.6" ry="12.4" fill="rgb(58,58,58)"/><ellipse cx="106.5" cy="227.7" rx="3.7" ry="8.3" fill="rgb(46,46,46)"/><ellipse cx="38.9" cy="227.7" rx="4.6" ry="6.2" fill="rgb(69,69,69)"/><ellipse cx="55" cy="248.4" rx="9.2" ry="5.2" fill="rgb(51,51,51)"/><ellipse cx="183.2" cy="113.4" rx="24" ry="5.6" fill="rgb(120,120,120)" transform="rotate(27 183.2 113.4)"/><ellipse cx="179.3" cy="113.9" rx="6.4" ry="2.3" fill="rgb(153,153,153)" transform="rotate(27 179.3 113.9)"/><ellipse cx="196.9" cy="121.7" rx="6.9" ry="2.5" fill="rgb(128,128,128)" transform="rotate(15 196.9 121.7)"/><ellipse cx="202.6" cy="123" rx="11.4" ry="3.1" fill="rgb(112,112,112)" transform="rotate(12 202.6 123)"/><ellipse cx="169.4" cy="107" rx="6.9" ry="3.3" fill="rgb(128,128,128)" transform="rotate(30 169.4 107)"/><ellipse cx="194.6" cy="106.6" rx="16" ry="4.1" fill="rgb(76,76,76)"/><ellipse cx="212.9" cy="108.7" rx="10.3" ry="6.6" fill="rgb(92,92,92)"/><ellipse cx="219.8" cy="118" rx="11.4" ry="6.2" fill="rgb(87,87,87)"/><ellipse cx="206.1" cy="115.9" rx="22.9" ry="8.3" fill="rgb(74,74,74)"/><ellipse cx="240.4" cy="93.2" rx="34.3" ry="9.5" fill="rgb(71,71,71)"/><ellipse cx="222.1" cy="85.7" rx="7.3" ry="3.1" fill="rgb(94,94,94)"/><ellipse cx="270.2" cy="68.3" rx="25.2" ry="5" fill="rgb(69,69,69)"/><ellipse cx="256.4" cy="106.6" rx="20.6" ry="8.7" fill="rgb(48,48,48)"/><ellipse cx="286.2" cy="91.1" rx="12.6" ry="8.3" fill="rgb(46,46,46)"/><ellipse cx="235.8" cy="102.5" rx="13.7" ry="4.6" fill="rgb(84,84,84)"/><ellipse cx="258.7" cy="118" rx="16" ry="10.4" fill="rgb(45,45,45)"/><ellipse cx="164.9" cy="130.4" rx="8.7" ry="6.6" fill="rgb(61,61,61)"/><ellipse cx="176.3" cy="147" rx="9.2" ry="11.4" fill="rgb(42,42,42)"/><ellipse cx="155.7" cy="130.4" rx="6.9" ry="6.2" fill="rgb(56,56,56)"/><ellipse cx="365.2" cy="70.4" rx="6.9" ry="9.3" fill="rgb(46,46,46)" transform="rotate(-20 365.2 70.4)"/><ellipse cx="476.3" cy="51.8" rx="32.1" ry="10.4" fill="rgb(46,46,46)"/><ellipse cx="476.3" cy="44.5" rx="22.9" ry="2.7" fill="rgb(61,61,61)"/><ellipse cx="501" cy="59.4" rx="7.3" ry="2.1" fill="rgb(133,133,133)" transform="rotate(-8 501 59.4)"/><ellipse cx="524.3" cy="54.9" rx="11.4" ry="5.2" fill="rgb(74,74,74)"/><ellipse cx="531.2" cy="68.3" rx="6.9" ry="9.3" fill="rgb(61,61,61)"/><ellipse cx="492.3" cy="55.9" rx="13.7" ry="3.1" fill="rgb(66,66,66)"/><ellipse cx="574.7" cy="54.9" rx="61.8" ry="12.8" fill="rgb(45,45,45)"/><ellipse cx="586.2" cy="46.4" rx="52.7" ry="3.9" fill="rgb(57,57,57)"/><ellipse cx="664" cy="70.4" rx="20.6" ry="10.4" fill="rgb(46,46,46)"/><ellipse cx="659.4" cy="62.1" rx="11.4" ry="4.1" fill="rgb(60,60,60)"/><ellipse cx="623.9" cy="87.8" rx="6" ry="2.3" fill="rgb(20,20,20)"/><ellipse cx="625.6" cy="94.8" rx="2.1" ry="3.7" fill="rgb(22,22,22)"/><ellipse cx="636.5" cy="93.6" rx="3.4" ry="2.5" fill="rgb(23,23,23)"/><ellipse cx="577" cy="99.4" rx="29.8" ry="20.7" fill="rgb(56,56,56)"/><ellipse cx="578.2" cy="97.3" rx="7.3" ry="5.4" fill="rgb(71,71,71)"/><ellipse cx="563.3" cy="101.4" rx="6.9" ry="4.1" fill="rgb(69,69,69)"/><ellipse cx="586.2" cy="115.9" rx="9.2" ry="7.2" fill="rgb(62,62,62)"/><ellipse cx="567.9" cy="118" rx="6.9" ry="4.1" fill="rgb(66,66,66)"/><ellipse cx="590.7" cy="82.8" rx="25.2" ry="8.3" fill="rgb(54,54,54)"/><ellipse cx="618.2" cy="103.5" rx="18.3" ry="10.4" fill="rgb(43,43,43)"/><ellipse cx="586.2" cy="132.5" rx="11.4" ry="10.4" fill="rgb(51,51,51)"/><ellipse cx="599.9" cy="107.6" rx="11.4" ry="8.3" fill="rgb(60,60,60)"/><ellipse cx="731.6" cy="202.9" rx="6.9" ry="9.3" fill="rgb(43,43,43)"/><ellipse cx="712.1" cy="225.6" rx="12.6" ry="6.2" fill="rgb(43,43,43)"/><ellipse cx="667.5" cy="227.7" rx="4.4" ry="11.4" fill="rgb(66,66,66)"/><ellipse cx="677.8" cy="254.6" rx="9.2" ry="13.5" fill="rgb(45,45,45)"/><ellipse cx="666.3" cy="273.2" rx="6.9" ry="13.5" fill="rgb(46,46,46)"/><ellipse cx="657.2" cy="288.8" rx="3.7" ry="4.6" fill="rgb(76,76,76)"/><ellipse cx="662.9" cy="242.2" rx="4.1" ry="8.3" fill="rgb(56,56,56)"/><ellipse cx="304.5" cy="238" rx="43.5" ry="19.7" fill="rgb(45,45,45)"/><ellipse cx="285.3" cy="229.8" rx="9.6" ry="5.4" fill="rgb(60,60,60)"/><ellipse cx="319.4" cy="241.4" rx="8.9" ry="8.1" fill="rgb(68,68,68)"/><ellipse cx="318.3" cy="242.6" rx="3.2" ry="4.1" fill="rgb(80,80,80)"/><ellipse cx="41.2" cy="23.2" rx="16" ry="4.1" fill="rgb(94,94,94)"/><ellipse cx="865.5" cy="23.2" rx="16" ry="4.1" fill="rgb(94,94,94)"/><ellipse cx="132.8" cy="32.5" rx="25.2" ry="3.3" fill="rgb(105,105,105)" transform="rotate(-24 132.8 32.5)"/><ellipse cx="224.4" cy="20.7" rx="18.3" ry="4.6" fill="rgb(140,140,140)"/><ellipse cx="325.1" cy="30.4" rx="16" ry="2.9" fill="rgb(128,128,128)"/><ellipse cx="588.5" cy="32.1" rx="55" ry="11.4" fill="rgb(107,107,107)"/><ellipse cx="599.9" cy="25.9" rx="41.2" ry="5.2" fill="rgb(128,128,128)"/><ellipse cx="643.4" cy="21.7" rx="32.1" ry="8.3" fill="rgb(168,168,168)"/><ellipse cx="618.2" cy="22.8" rx="16" ry="5.2" fill="rgb(158,158,158)"/><ellipse cx="625.1" cy="30" rx="20.6" ry="3.1" fill="rgb(143,143,143)"/><ellipse cx="659.4" cy="41.4" rx="22.9" ry="9.3" fill="rgb(98,98,98)" transform="rotate(35 659.4 41.4)"/><ellipse cx="666.3" cy="44.5" rx="11.4" ry="4.6" fill="rgb(115,115,115)" transform="rotate(35 666.3 44.5)"/><ellipse cx="645.7" cy="36.2" rx="11.4" ry="3.1" fill="rgb(110,110,110)"/><ellipse cx="572.4" cy="39.3" rx="22.9" ry="5.2" fill="rgb(107,107,107)"/><ellipse cx="547.2" cy="35.2" rx="11.4" ry="4.1" fill="rgb(112,112,112)"/><ellipse cx="570.1" cy="30" rx="16" ry="2.5" fill="rgb(133,133,133)"/><ellipse cx="602.2" cy="35.2" rx="9.2" ry="3.1" fill="rgb(115,115,115)"/><ellipse cx="586.2" cy="41.4" rx="13.7" ry="3.1" fill="rgb(94,94,94)"/><ellipse cx="629.7" cy="52.8" rx="9.2" ry="3.3" fill="rgb(64,64,64)"/><ellipse cx="599.9" cy="22.8" rx="6.9" ry="2.1" fill="rgb(168,168,168)"/><ellipse cx="572.4" cy="25.9" rx="6.9" ry="2.1" fill="rgb(163,163,163)"/><ellipse cx="728.1" cy="35.2" rx="50.4" ry="24.8" fill="rgb(128,128,128)"/><ellipse cx="-80.1" cy="20.7" rx="59.5" ry="9.3" fill="rgb(128,128,128)"/><ellipse cx="744.2" cy="20.7" rx="59.5" ry="9.3" fill="rgb(128,128,128)"/><ellipse cx="719" cy="55.9" rx="18.3" ry="10.4" fill="rgb(128,128,128)"/><path d="M683.5 17.4L709.8 15.9L744.2 15.3L771.6 16.6L765.9 21.7L763.2 26.9L762.5 33.1L760.2 37.7L751 42.2L743 45.5L733.9 49.7L728.1 54.2L723.6 58.4L720.3 58.8L714.9 55.5L711.6 50.7L709.8 46.6L707.5 41.4L704.8 36.2L699.5 31.1L692.6 26.5L684.6 22.8L678.9 20.3Z" fill="rgb(255,255,255)"/><g filter="url(#b1)"></g></g></g></g>
<g id="fieldA2" filter="url(#qA)"><rect x="-20" y="-20" width="870" height="420" fill="rgb(18,18,18)"/><g filter="url(#b1)"><path d="M-53.8 191.5L-50.1 187.3L-47.8 179.6L-44.9 170.7L-42.4 162.9L-40.5 157.3L-38.9 153.8L-37.6 151.8L-36.6 151.1L-35.7 151.8L-34.3 154L-33 157.8L-31.4 163.4L-29.3 170.7L-26.8 179.6L-24.9 187.3L-23.9 191.5L-19.5 191.5L-15.8 187.3L-13.5 179.6L-10.6 170.7L-8.1 162.9L-6.1 157.3L-4.6 153.8L-3.3 151.8L-2.3 151.1L-1.3 151.8L0 154L1.4 157.8L2.9 163.4L5 170.7L7.5 179.6L9.5 187.3L10.4 191.5L14.9 191.5L18.6 187.3L20.9 179.6L23.8 170.7L26.3 162.9L28.2 157.3L29.7 153.8L31.1 151.8L32.1 151.1L33.2 151.8L34.8 154L36.4 157.8L38.2 163.4L40.8 170.7L43.7 179.6L46 187.3L47.2 191.5L49.2 191.5L51.3 188.4L52.7 183.4L53.8 176.5L55 169.6L56.6 164.1L58.8 160L61.6 157L64.1 155.6L66.4 155.3L68.7 155.6L71.2 157.2L73.7 160.4L75.8 164.7L77.2 170L78.3 176.5L79.5 183.4L80.6 188.4L81.5 191.5L83.6 191.5L85.6 188.4L87 183.4L88.2 176.5L89.3 169.6L90.9 164.1L93.2 160L95.9 157L98.5 155.6L100.7 155.3L102.7 155.6L104.9 157.2L107 160.4L108.8 164.7L110 170L110.9 176.5L111.9 183.4L112.9 188.4L113.7 191.5L117.9 191.5L122.2 188.4L123.3 183.4L124.3 176.5L125.3 169.6L126.7 164.1L128.6 160L131 157L133.1 155.6L135.1 155.3L137.1 155.6L139.2 157.2L141.4 160.4L143.1 164.7L144.3 170L145.3 176.5L146.3 183.4L147.2 188.4L148 191.5L152.3 191.5L156.5 188.4L157.7 183.4L158.7 176.5L159.6 169.6L161 164.1L163 160L165.3 157L167.5 155.6L169.4 155.3L171.4 155.6L173.6 157.2L175.7 160.4L177.5 164.7L178.7 170L179.6 176.5L180.6 183.4L181.6 188.4L182.4 191.5L186.6 191.5L190.8 188.4L192 183.4L193 176.5L194 169.6L195.4 164.1L197.3 160L199.7 157L201.8 155.6L203.8 155.3L205.7 155.6L207.9 157.2L210.1 160.4L211.8 164.7L213 170L214 176.5L215 183.4L215.9 188.4L216.7 191.5L221 191.5L225.2 188.4L226.4 183.4L227.4 176.5L228.3 169.6L229.7 164.1L231.7 160L234 157L236.2 155.6L238.1 155.3L240.1 155.6L242.2 157.2L244.4 160.4L246.2 164.7L247.3 170L248.3 176.5L249.3 183.4L250.3 188.4L251.1 191.5L255.3 191.5L259.5 188.4L260.7 183.2L261.7 176L262.7 168.7L264 162.9L266 158.6L268.4 155.5L270.5 154L272.5 153.6L274.6 154L277 155.7L279.4 159L281.4 163.5L282.7 169.1L283.8 176L284.8 183.2L285.9 188.4L286.8 191.5L289.6 191.5L292.5 188.4L293.8 183.2L294.9 176L296 168.7L297.5 162.9L299.7 158.6L302.3 155.5L304.7 154L306.8 153.6L309 154L311.4 155.7L313.8 159L315.7 163.5L317 169.1L318.1 176L319.2 183.2L320.3 188.4L321.1 191.5L324 191.5L326.9 188.4L328.2 183.2L329.2 176L330.3 168.7L331.8 162.9L334 158.6L336.6 155.5L339 154L341.2 153.6L343.3 154L345.7 155.7L348.1 159L350.1 163.5L351.4 169.1L352.4 176L353.5 183.2L354.6 188.4L355.5 191.5L358.3 191.5L361.2 188.4L362.5 183.2L363.6 176L364.7 168.7L366.2 162.9L368.4 158.6L371 155.5L373.3 154L375.5 153.6L377.7 154L380.1 155.7L382.5 159L384.4 163.5L385.7 169.1L386.8 176L387.9 183.2L389 188.4L389.8 191.5L392.7 191.5L394.7 187.3L397.3 180.1L400.5 171.8L403.4 164.6L405.5 159.4L407.3 156.1L408.8 154.2L409.9 153.6L411 154.2L412.6 156.3L414.2 159.8L416 165L418.6 171.8L421.5 180.1L423.8 187.3L425 191.5L427 191.5L428.2 187.3L430.9 180.1L434.4 171.8L437.3 164.6L439.6 159.4L441.5 156.1L443.1 154.2L444.2 153.6L445.4 154.2L447 156.3L448.6 159.8L450.4 165L452.9 171.8L455.9 180.1L458.2 187.3L459.3 191.5L461.4 191.5L462.5 187.3L465.3 180.1L468.7 171.8L471.7 164.6L474 159.4L475.8 156.1L477.4 154.2L478.6 153.6L479.7 154.2L481.3 156.3L482.9 159.8L484.7 165L487.3 171.8L490.2 180.1L492.5 187.3L493.7 191.5L495.7 191.5L496.9 187.3L499.6 180.1L503.1 171.8L506 164.6L508.3 159.4L510.2 156.1L511.8 154.2L512.9 153.6L514 154.2L515.6 156.3L517.2 159.8L519.1 165L521.6 171.8L524.6 180.1L526.9 187.3L528 191.5L530.1 191.5L531.2 187.3L534 180.1L537.4 171.8L540.4 164.6L542.7 159.4L544.5 156.1L546.1 154.2L547.2 153.6L548.4 154.2L550 156.3L551.6 159.8L553.4 165L555.9 171.8L558.9 180.1L561.2 187.3L562.4 191.5L564.4 191.5L565.6 187.3L568.3 180.9L571.7 173.6L574.7 167.3L577 162.8L578.8 159.9L580.4 158.3L581.6 157.7L582.7 158.3L584.3 160.1L585.9 163.2L587.8 167.7L590.3 173.6L593.3 180.9L595.6 187.3L596.7 191.5L598.8 191.5L599.9 187.3L602.7 182.4L606.1 177.2L609.1 172.7L611.4 169.4L613.2 167.4L614.8 166.2L615.9 165.8L617.1 166.2L618.7 167.5L620.3 169.7L622.1 172.9L624.6 177.2L627.6 182.4L629.9 187.3L631 191.5L633.1 191.5L634.3 187.3L637 180.1L640.4 171.8L643.4 164.6L645.7 159.4L647.5 156.1L649.1 154.2L650.3 153.6L651.4 154.2L653 156.3L654.6 159.8L656.5 165L659 171.8L662 180.1L664.2 187.3L665.4 191.5L667.5 191.5L668.6 187.3L671.3 179.6L674.8 170.7L677.8 162.9L680 157.3L681.9 153.8L683.5 151.8L684.6 151.1L685.6 151.8L686.9 154L688.3 157.8L689.8 163.4L691.9 170.7L694.4 179.6L696.4 187.3L697.3 191.5L701.8 191.5L705.5 187.3L707.8 179.6L710.7 170.7L713.2 162.9L715.1 157.3L716.7 153.8L718 151.8L719 151.1L719.9 151.8L721.3 154L722.6 157.8L724.2 163.4L726.3 170.7L728.8 179.6L730.7 187.3L731.7 191.5L736.1 191.5L739.8 187.3L742.2 179.6L745 170.7L747.5 162.9L749.5 157.3L751 153.8L752.4 151.8L753.3 151.1L754.3 151.8L755.6 154L757 157.8L758.5 163.4L760.6 170.7L763.1 179.6L765.1 187.3L766 191.5L770.5 191.5L774.2 187.3L776.5 179.6L779.4 170.7L781.9 162.9L783.8 157.3L785.4 153.8L786.7 151.8L787.7 151.1L788.6 151.8L790 154L791.3 157.8L792.9 163.4L795 170.7L797.5 179.6L799.4 187.3L800.4 191.5L804.8 191.5L808.5 187.3L810.8 179.6L813.7 170.7L816.2 162.9L818.2 157.3L819.7 153.8L821 151.8L822 151.1L823 151.8L824.3 154L825.7 157.8L827.2 163.4L829.3 170.7L831.8 179.6L833.8 187.3L834.7 191.5L839.2 191.5L842.9 187.3L845.2 179.6L848.1 170.7L850.6 162.9L852.5 157.3L854 153.8L855.4 151.8L856.4 151.1L857.5 151.8L859.1 154L860.7 157.8L862.5 163.4L865.1 170.7L868 179.6L870.3 187.3L871.5 191.5L870.1 248.4L842.6 248.4L824.3 247.4L812.2 243L801.4 242.2L787.7 239.7L776.2 240.1L763.6 243L747.6 236.4L732.7 240.1L714.4 247.8L686.9 250.5L659.4 252.5L636.5 252.5L618.2 251.1L606.1 244.5L595.3 244.3L581.8 247.8L573.8 243L563.3 242.2L549.5 244.5L541.5 239.7L531.2 238L517.2 241.4L509 234.9L499.2 233.9L485 236.4L476.7 230L467.1 233.9L452.4 234.9L444.2 238L435 239.1L416.7 234.9L412.1 244.3L404.8 239.7L383.8 246.1L367.7 251.1L351.5 239.7L343.5 242.2L258.7 246.3L247.3 247.8L235.8 244.3L217.5 242.2L194.6 243.2L171.7 245.3L148.8 243.2L125.9 245.3L103 244.3L80.1 246.3L57.2 248.4L34.3 248.4L18.3 248.4L0 247.4L-22.9 244.3L-45.8 246.3Z" fill="rgb(10,10,10)"/><path d="M-27.5 190.4L-28.1 194.9L-28.6 199.4L-29 203.9L-29.4 208.4L-29.5 212.9L-27.5 217.4L-27.5 217.4L-23.5 212.9L-21.6 208.4L-20 203.9L-18.4 199.4L-17 194.9L-15.6 190.4Z" fill="rgb(18,18,18)"/><path d="M6.9 190.4L6.3 194.9L5.8 199.4L5.3 203.9L5 208.4L4.8 212.9L6.9 217.4L6.9 217.4L10.9 212.9L12.7 208.4L14.4 203.9L15.9 199.4L17.4 194.9L18.8 190.4Z" fill="rgb(18,18,18)"/><path d="M43.6 190.4L43.4 193.5L43.2 196.7L43 199.8L42.8 202.9L42.8 206L43 209.1L43 209.1L44.7 206L46 202.9L47.2 199.8L48.4 196.7L49.6 193.5L50.7 190.4Z" fill="rgb(18,18,18)"/><path d="M78 190.4L77.7 193.5L77.5 196.7L77.3 199.8L77.2 202.9L77.1 206L77.4 209.1L77.4 209.1L79 206L80.4 202.9L81.6 199.8L82.8 196.7L83.9 193.5L85.1 190.4Z" fill="rgb(18,18,18)"/><path d="M110.1 190.4L109.7 194.2L109.3 198L109 201.8L108.8 205.6L108.8 209.4L110.8 213.2L110.8 213.2L114.6 209.4L116.2 205.6L117.7 201.8L119.1 198L120.3 194.2L121.6 190.4Z" fill="rgb(18,18,18)"/><path d="M144.5 190.4L144 194.2L143.7 198L143.3 201.8L143.1 205.6L143.1 209.4L145.2 213.2L145.2 213.2L148.9 209.4L150.6 205.6L152 201.8L153.4 198L154.7 194.2L155.9 190.4Z" fill="rgb(18,18,18)"/><path d="M178.8 190.4L178.4 194.2L178 198L177.7 201.8L177.5 205.6L177.5 209.4L179.5 213.2L179.5 213.2L183.2 209.4L184.9 205.6L186.4 201.8L187.7 198L189 194.2L190.3 190.4Z" fill="rgb(18,18,18)"/><path d="M213.2 190.4L212.7 194.2L212.3 198L212 201.8L211.8 205.6L211.8 209.4L213.9 213.2L213.9 213.2L217.6 209.4L219.3 205.6L220.7 201.8L222.1 198L223.4 194.2L224.6 190.4Z" fill="rgb(18,18,18)"/><path d="M247.5 190.4L247.2 193.5L247 196.7L246.8 199.8L246.8 202.9L246.9 206L249.1 209.1L249.1 209.1L252.7 206L254.2 202.9L255.5 199.8L256.7 196.7L257.9 193.5L259 190.4Z" fill="rgb(18,18,18)"/><path d="M283.2 190.4L283.1 193.5L283 196.7L282.9 199.8L282.9 202.9L283 206L283.5 209.1L283.5 209.1L285.3 206L286.8 202.9L288.2 199.8L289.5 196.7L290.7 193.5L291.9 190.4Z" fill="rgb(18,18,18)"/><path d="M317.6 190.4L317.4 193.5L317.3 196.7L317.2 199.8L317.2 202.9L317.3 206L317.8 209.1L317.8 209.1L319.7 206L321.1 202.9L322.5 199.8L323.8 196.7L325.1 193.5L326.3 190.4Z" fill="rgb(18,18,18)"/><path d="M351.9 190.4L351.8 193.5L351.7 196.7L351.6 199.8L351.6 202.9L351.7 206L352.2 209.1L352.2 209.1L354 206L355.5 202.9L356.8 199.8L358.1 196.7L359.4 193.5L360.6 190.4Z" fill="rgb(18,18,18)"/><path d="M386.3 190.4L385.1 198L384 205.6L383 213.2L382 220.8L381 228.4L380.6 236L380.6 236L383.4 228.4L385.9 220.8L388.2 213.2L390.5 205.6L392.8 198L395 190.4Z" fill="rgb(18,18,18)"/><path d="M421.4 190.4L420.2 198L419 205.6L417.8 213.2L416.7 220.8L415.6 228.4L414.9 236L414.9 236L417.5 228.4L419.8 220.8L422.1 213.2L424.2 205.6L426.4 198L428.5 190.4Z" fill="rgb(18,18,18)"/><path d="M455.8 190.4L454.5 198L453.3 205.6L452.1 213.2L451 220.8L450 228.4L449.2 236L449.2 236L451.9 228.4L454.2 220.8L456.4 213.2L458.6 205.6L460.7 198L462.9 190.4Z" fill="rgb(18,18,18)"/><path d="M490.1 190.4L490 193.2L489.8 196L489.7 198.7L489.6 201.5L489.7 204.2L490 207L490 207L491.6 204.2L492.8 201.5L494 198.7L495.1 196L496.2 193.2L497.2 190.4Z" fill="rgb(18,18,18)"/><path d="M524.5 190.4L524.4 192.9L524.3 195.3L524.3 197.7L524.3 200.1L524.4 202.5L524.8 204.9L524.8 204.9L526.3 202.5L527.5 200.1L528.5 197.7L529.6 195.3L530.6 192.9L531.6 190.4Z" fill="rgb(18,18,18)"/><path d="M558.8 190.4L558.7 192.9L558.7 195.3L558.6 197.7L558.6 200.1L558.7 202.5L559.2 204.9L559.2 204.9L560.6 202.5L561.8 200.1L562.9 197.7L563.9 195.3L564.9 192.9L565.9 190.4Z" fill="rgb(18,18,18)"/><path d="M593.2 190.4L592.8 194.2L592.4 198L592.1 201.8L591.8 205.6L591.5 209.4L591.7 213.2L591.7 213.2L593.5 209.4L594.9 205.6L596.3 201.8L597.7 198L599 194.2L600.3 190.4Z" fill="rgb(18,18,18)"/><path d="M627.5 190.4L627.3 193.5L627 196.7L626.9 199.8L626.7 202.9L626.7 206L626.9 209.1L626.9 209.1L628.6 206L629.9 202.9L631.1 199.8L632.3 196.7L633.5 193.5L634.6 190.4Z" fill="rgb(18,18,18)"/><path d="M661.8 190.4L661.6 193.5L661.4 196.7L661.2 199.8L661.1 202.9L661 206L661.3 209.1L661.3 209.1L662.9 206L664.2 202.9L665.5 199.8L666.7 196.7L667.8 193.5L668.9 190.4Z" fill="rgb(18,18,18)"/><path d="M693.8 190.4L693.2 194.9L692.7 199.4L692.2 203.9L691.9 208.4L691.8 212.9L693.8 217.4L693.8 217.4L697.8 212.9L699.7 208.4L701.3 203.9L702.8 199.4L704.3 194.9L705.7 190.4Z" fill="rgb(18,18,18)"/><path d="M728.1 190.4L727.6 194.9L727 199.4L726.6 203.9L726.2 208.4L726.1 212.9L728.1 217.4L728.1 217.4L732.1 212.9L734 208.4L735.6 203.9L737.2 199.4L738.6 194.9L740 190.4Z" fill="rgb(18,18,18)"/><path d="M762.5 190.4L761.9 194.9L761.4 199.4L760.9 203.9L760.6 208.4L760.5 212.9L762.5 217.4L762.5 217.4L766.5 212.9L768.4 208.4L770 203.9L771.5 199.4L773 194.9L774.4 190.4Z" fill="rgb(18,18,18)"/><path d="M796.8 190.4L796.2 194.9L795.7 199.4L795.3 203.9L794.9 208.4L794.8 212.9L796.8 217.4L796.8 217.4L800.8 212.9L802.7 208.4L804.3 203.9L805.9 199.4L807.3 194.9L808.7 190.4Z" fill="rgb(18,18,18)"/><path d="M831.2 190.4L830.6 194.9L830.1 199.4L829.6 203.9L829.3 208.4L829.1 212.9L831.2 217.4L831.2 217.4L835.2 212.9L837 208.4L838.7 203.9L840.2 199.4L841.7 194.9L843.1 190.4Z" fill="rgb(18,18,18)"/><path d="M867.9 190.4L867.7 193.5L867.5 196.7L867.3 199.8L867.1 202.9L867.1 206L867.3 209.1L867.3 209.1L869 206L870.3 202.9L871.5 199.8L872.7 196.7L873.9 193.5L875 190.4Z" fill="rgb(18,18,18)"/><ellipse cx="627.4" cy="172.8" rx="11.4" ry="9.3" fill="rgb(18,18,18)"/><ellipse cx="638.8" cy="184.2" rx="8" ry="10.4" fill="rgb(18,18,18)"/><ellipse cx="-22.9" cy="159.4" rx="13.7" ry="10.4" fill="rgb(18,18,18)"/><ellipse cx="801.4" cy="159.4" rx="13.7" ry="10.4" fill="rgb(18,18,18)"/><ellipse cx="21.8" cy="192.5" rx="6.9" ry="12.4" fill="rgb(18,18,18)"/><ellipse cx="846.1" cy="192.5" rx="6.9" ry="12.4" fill="rgb(18,18,18)"/><ellipse cx="24" cy="221.5" rx="6.9" ry="24.8" fill="rgb(18,18,18)"/><ellipse cx="848.3" cy="221.5" rx="6.9" ry="24.8" fill="rgb(18,18,18)"/><ellipse cx="643.4" cy="213.2" rx="13.7" ry="18.6" fill="rgb(18,18,18)"/><ellipse cx="657.2" cy="240.1" rx="6.9" ry="14.5" fill="rgb(18,18,18)"/><ellipse cx="728.1" cy="219.4" rx="8" ry="18.6" fill="rgb(18,18,18)" transform="rotate(-25 728.1 219.4)"/><ellipse cx="709.8" cy="245.3" rx="11.4" ry="6.2" fill="rgb(18,18,18)"/><ellipse cx="103" cy="159.4" rx="18.3" ry="6.2" fill="rgb(18,18,18)"/><ellipse cx="101.9" cy="192.5" rx="7.3" ry="14.5" fill="rgb(18,18,18)" transform="rotate(-35 101.9 192.5)"/><ellipse cx="92.7" cy="213.2" rx="5.7" ry="12.4" fill="rgb(18,18,18)"/><ellipse cx="85.9" cy="229.8" rx="5.7" ry="8.3" fill="rgb(18,18,18)"/><ellipse cx="222.1" cy="159.4" rx="9.2" ry="10.4" fill="rgb(18,18,18)"/><ellipse cx="256.4" cy="159.4" rx="6.9" ry="8.3" fill="rgb(18,18,18)"/><ellipse cx="638.8" cy="155.3" rx="16" ry="6.2" fill="rgb(18,18,18)"/><ellipse cx="665.2" cy="154.2" rx="9.2" ry="7.2" fill="rgb(18,18,18)"/><ellipse cx="693.8" cy="153.2" rx="9.2" ry="6.2" fill="rgb(18,18,18)"/><ellipse cx="650.3" cy="166.6" rx="2.7" ry="5.2" fill="rgb(18,18,18)"/><ellipse cx="684.6" cy="166.6" rx="3.4" ry="4.1" fill="rgb(18,18,18)"/></g><use href="#landp" fill="rgb(18,18,18)" stroke="rgb(18,18,18)" stroke-width="7.8" stroke-linejoin="round"/><g filter="url(#b2i)"><path d="M-22.9 -6.2L-22.9 29L-11.4 22.8L0 18.2L22.9 18.2L45.8 19L68.7 18.2L91.6 17.8L114.5 18.6L125.9 20.1L137.4 21.7L148.8 23.8L160.3 26.5L174 29L183.2 35.2L206.1 35.2L229 35.2L251.9 37.3L274.8 39.3L297.7 41.4L320.6 41.4L343.5 43.5L366.4 44.5L389.3 45.5L412.1 45.5L423.6 41.4L435 38.3L457.9 37.3L480.8 37.3L503.7 37.7L526.6 39.3L538.1 43.5L549.5 45.5L572.4 47.6L595.3 48.6L613.6 49.7L622.8 43.5L636.5 34.2L650.3 29L659.4 25.9L677.8 26.9L686.9 31.1L698.4 29L714.4 24.8L732.7 41.4L746.4 44.5L764.8 42.4L773.9 39.3L783.1 35.2L790 32.1L801.4 27.9L812.9 22.8L824.3 18.2L847.2 18.2L847.2 -6.2Z" fill="rgb(52,52,52)"/><path d="M-22.9 -6.2L-22.9 18.6L0 15.3L45.8 15.7L91.6 15.1L125.9 16.1L142 18L160.3 20.3L183.2 21.7L206.1 21.7L229 21.1L251.9 24.4L274.8 26.9L297.7 27.9L320.6 27.9L343.5 30L366.4 33.1L384.7 36.6L400.7 38.7L412.1 38.3L423.6 35.2L435 33.1L457.9 32.7L480.8 33.1L503.7 33.5L526.6 33.9L538.1 37.3L549.5 41.4L572.4 43.5L595.3 44.5L613.6 43.5L622.8 31.1L641.1 24.8L664 17.6L686.9 13.5L732.7 12.4L778.5 13.5L790 18.6L801.4 18.6L812.9 16.6L824.3 15.3L847.2 15.3L847.2 -6.2Z" fill="rgb(84,84,84)"/><path d="M-22.9 -6.2L-22.9 14.5L0 13.2L45.8 13L91.6 12.8L125.9 13.7L144.3 15.7L171.7 16.6L206.1 17.6L229 18.6L251.9 21.7L274.8 24L309.1 23.6L343.5 25.3L366.4 27.9L380.1 32.1L393.8 34.4L412.1 33.1L423.6 30.6L457.9 29.8L503.7 30.6L531.2 31.1L540.4 35.2L549.5 39.3L572.4 41.4L595.3 42.4L609.1 39.3L618.2 29L629.7 20.7L641.1 12.4L664 7.2L686.9 5.8L732.7 6.6L767.1 7.2L790 11.4L801.4 14.5L824.3 13.2L847.2 13.2L847.2 -6.2Z" fill="rgb(121,121,121)"/><ellipse cx="549.5" cy="8.3" rx="137.4" ry="5.2" fill="rgb(134,134,134)"/><ellipse cx="320.6" cy="9.1" rx="183.2" ry="6.2" fill="rgb(136,136,136)"/><ellipse cx="393.8" cy="16.6" rx="68.7" ry="7" fill="rgb(138,138,138)"/><ellipse cx="435" cy="12.4" rx="34.3" ry="6.2" fill="rgb(140,140,140)"/><ellipse cx="286.2" cy="6.6" rx="119.1" ry="3.1" fill="rgb(145,145,145)"/><ellipse cx="464.8" cy="11.2" rx="43.5" ry="4.6" fill="rgb(149,149,149)"/><ellipse cx="343.5" cy="7.5" rx="32.1" ry="2.1" fill="rgb(156,156,156)"/><ellipse cx="476.3" cy="11.2" rx="18.3" ry="2.5" fill="rgb(158,158,158)"/><ellipse cx="407.6" cy="15.5" rx="22.9" ry="4.1" fill="rgb(147,147,147)"/><ellipse cx="377.8" cy="21.7" rx="27.5" ry="3.3" fill="rgb(140,140,140)"/><ellipse cx="549.5" cy="12.4" rx="22.9" ry="3.1" fill="rgb(143,143,143)"/><ellipse cx="-68.7" cy="2.5" rx="183.2" ry="2.1" fill="rgb(112,112,112)"/><ellipse cx="755.6" cy="2.5" rx="183.2" ry="2.1" fill="rgb(112,112,112)"/><ellipse cx="-412.1" cy="1.4" rx="435" ry="1.1" fill="rgb(128,128,128)"/><ellipse cx="412.1" cy="1.4" rx="435" ry="1.1" fill="rgb(128,128,128)"/><ellipse cx="1236.4" cy="1.4" rx="435" ry="1.1" fill="rgb(128,128,128)"/><ellipse cx="403" cy="38.3" rx="11.4" ry="3.1" fill="rgb(128,128,128)"/><ellipse cx="668.6" cy="37.3" rx="13.7" ry="10.4" fill="rgb(34,34,34)"/><ellipse cx="771.6" cy="33.1" rx="11.4" ry="12.4" fill="rgb(54,54,54)" transform="rotate(35 771.6 33.1)"/><ellipse cx="-34.3" cy="24.8" rx="13.7" ry="8.3" fill="rgb(82,82,82)"/><ellipse cx="790" cy="24.8" rx="13.7" ry="8.3" fill="rgb(82,82,82)"/><ellipse cx="286.2" cy="32.7" rx="27.5" ry="2.7" fill="rgb(43,43,43)"/><ellipse cx="366.4" cy="24.8" rx="18.3" ry="5.2" fill="rgb(128,128,128)"/></g><g filter="url(#b3i)"><path d="M-22.9 382.9L-22.9 302.6L0 302.2L22.9 302.2L45.8 303.3L57.2 308.4L68.7 310.3L103 310.3L137.4 310.3L160.3 309.9L183.2 309.7L206.1 313.8L229 316.7L263.3 317.5L297.7 318.2L343.5 318.4L377.8 318.6L412.1 320.6L435 320L457.9 319.2L476.3 316.7L492.3 315.1L508.3 316.7L526.6 319.2L549.5 322.1L572.4 324.8L595.3 326.6L618.2 326.2L641.1 324.2L664 321.7L686.9 319.2L709.8 315.9L732.7 312.6L755.6 309.7L778.5 307L801.4 304.9L824.3 302.2L847.2 302.2L847.2 382.9Z" fill="rgb(128,128,128)"/><path d="M-22.9 382.9L-22.9 312.4L0 312.4L22.9 312.4L45.8 313L57.2 317.5L68.7 319.2L103 319.6L137.4 320.2L160.3 323.3L183.2 324L206.1 320.6L229 321.9L263.3 322.1L297.7 321.7L343.5 322.7L377.8 323.5L412.1 323.7L435 323.3L457.9 322.7L476.3 321.3L492.3 320.4L508.3 321.9L526.6 323.7L549.5 326L572.4 328.5L595.3 330L618.2 329.8L641.1 328.1L664 326L686.9 323.7L709.8 320.6L732.7 318L755.6 315.9L778.5 314L801.4 313L824.3 312.4L847.2 312.4L847.2 382.9Z" fill="rgb(247,247,247)"/><ellipse cx="9.2" cy="321.9" rx="11.4" ry="6.8" fill="rgb(178,178,178)"/><ellipse cx="833.5" cy="321.9" rx="11.4" ry="6.8" fill="rgb(178,178,178)"/><ellipse cx="162.6" cy="321.9" rx="11.4" ry="3.3" fill="rgb(173,173,173)"/><ellipse cx="183.2" cy="318.4" rx="20.6" ry="2.7" fill="rgb(128,128,128)"/><ellipse cx="400.7" cy="342.6" rx="11.4" ry="4.6" fill="rgb(140,140,140)"/><ellipse cx="421.3" cy="341.6" rx="9.2" ry="4.1" fill="rgb(153,153,153)"/><ellipse cx="229" cy="320.9" rx="16" ry="2.1" fill="rgb(168,168,168)"/><ellipse cx="343.5" cy="322.5" rx="13.7" ry="1.7" fill="rgb(168,168,168)"/><ellipse cx="577" cy="339.5" rx="9.2" ry="1.7" fill="rgb(178,178,178)"/><ellipse cx="755.6" cy="341.6" rx="6.9" ry="2.1" fill="rgb(178,178,178)"/><ellipse cx="-18.3" cy="333.3" rx="6.9" ry="1.4" fill="rgb(178,178,178)"/><ellipse cx="806" cy="333.3" rx="6.9" ry="1.4" fill="rgb(178,178,178)"/><ellipse cx="682.3" cy="322.5" rx="3.7" ry="2.1" fill="rgb(173,173,173)"/></g><g mask="url(#landmask)"><g filter="url(#b2n)"><rect x="-20" y="-20" width="870" height="420" fill="rgb(32,32,32)"/><ellipse cx="29.8" cy="53.8" rx="20.6" ry="5.4" fill="rgb(45,45,45)" transform="rotate(-38 29.8 53.8)"/><ellipse cx="854.1" cy="53.8" rx="20.6" ry="5.4" fill="rgb(45,45,45)" transform="rotate(-38 854.1 53.8)"/><ellipse cx="45.8" cy="85.9" rx="59.5" ry="10.8" fill="rgb(45,45,45)" transform="rotate(-3 45.8 85.9)"/><ellipse cx="870.1" cy="85.9" rx="59.5" ry="10.8" fill="rgb(45,45,45)" transform="rotate(-3 870.1 85.9)"/><ellipse cx="-9.2" cy="103.5" rx="12.6" ry="7.9" fill="rgb(45,45,45)"/><ellipse cx="815.1" cy="103.5" rx="12.6" ry="7.9" fill="rgb(45,45,45)"/><ellipse cx="75.6" cy="105.6" rx="20.6" ry="5.4" fill="rgb(48,48,48)"/><ellipse cx="781.9" cy="52" rx="10.3" ry="3.3" fill="rgb(51,51,51)"/><ellipse cx="100.7" cy="90" rx="16" ry="7.2" fill="rgb(47,47,47)"/><ellipse cx="61.8" cy="49.7" rx="18.3" ry="5.2" fill="rgb(41,41,41)"/><ellipse cx="194.6" cy="42.4" rx="68.7" ry="6.6" fill="rgb(48,48,48)"/><ellipse cx="309.1" cy="46.6" rx="103" ry="9.3" fill="rgb(60,60,60)"/><ellipse cx="256.4" cy="38.3" rx="50.4" ry="5.2" fill="rgb(61,61,61)"/><ellipse cx="229" cy="30" rx="22.9" ry="4.1" fill="rgb(74,74,74)"/><ellipse cx="343.5" cy="49.7" rx="61.8" ry="8.7" fill="rgb(69,69,69)"/><ellipse cx="393.8" cy="48.6" rx="22.9" ry="6.2" fill="rgb(71,71,71)"/><ellipse cx="215.2" cy="43.5" rx="9.2" ry="2.9" fill="rgb(84,84,84)"/><ellipse cx="296.5" cy="47" rx="6.4" ry="4.3" fill="rgb(84,84,84)"/><ellipse cx="320.6" cy="49.3" rx="12.6" ry="4.1" fill="rgb(97,97,97)"/><ellipse cx="322.9" cy="56.3" rx="10.3" ry="3.3" fill="rgb(97,97,97)"/><ellipse cx="407.6" cy="45.5" rx="9.2" ry="2.5" fill="rgb(107,107,107)"/><ellipse cx="366.4" cy="46.6" rx="16" ry="3.3" fill="rgb(79,79,79)"/><ellipse cx="309.1" cy="61.1" rx="13.7" ry="4.1" fill="rgb(66,66,66)"/><ellipse cx="160.3" cy="85.9" rx="52.7" ry="14.5" fill="rgb(56,56,56)"/><ellipse cx="139.7" cy="98.3" rx="20.6" ry="8.7" fill="rgb(69,69,69)"/><ellipse cx="137.4" cy="108.1" rx="13.7" ry="5.4" fill="rgb(69,69,69)"/><ellipse cx="128.2" cy="118" rx="18.3" ry="9.3" fill="rgb(60,60,60)"/><ellipse cx="148.8" cy="122.1" rx="13.7" ry="7.2" fill="rgb(62,62,62)"/><ellipse cx="109.9" cy="104.5" rx="9.2" ry="4.1" fill="rgb(51,51,51)"/><ellipse cx="192.3" cy="91.1" rx="18.3" ry="6.2" fill="rgb(64,64,64)"/><ellipse cx="132.8" cy="124.2" rx="6.9" ry="4.1" fill="rgb(69,69,69)"/><ellipse cx="142" cy="115.9" rx="6.9" ry="3.1" fill="rgb(69,69,69)"/><ellipse cx="96.2" cy="119" rx="16" ry="7.2" fill="rgb(79,79,79)"/><ellipse cx="105.3" cy="136.6" rx="21.8" ry="15.5" fill="rgb(96,96,96)" transform="rotate(30 105.3 136.6)"/><ellipse cx="109.9" cy="141.8" rx="11.4" ry="6.2" fill="rgb(110,110,110)" transform="rotate(20 109.9 141.8)"/><ellipse cx="96.2" cy="130.4" rx="9.2" ry="5.2" fill="rgb(107,107,107)"/><ellipse cx="119.1" cy="143.9" rx="13.7" ry="6.8" fill="rgb(103,103,103)"/><ellipse cx="128.2" cy="139.1" rx="6.9" ry="4.1" fill="rgb(92,92,92)"/><ellipse cx="103" cy="151.1" rx="9.2" ry="4.1" fill="rgb(87,87,87)"/><ellipse cx="20.6" cy="138.3" rx="68.7" ry="19.9" fill="rgb(96,96,96)"/><ellipse cx="844.9" cy="138.3" rx="68.7" ry="19.9" fill="rgb(96,96,96)"/><ellipse cx="-20.6" cy="140.8" rx="18.3" ry="13.5" fill="rgb(93,93,93)"/><ellipse cx="803.7" cy="140.8" rx="18.3" ry="13.5" fill="rgb(93,93,93)"/><ellipse cx="68.7" cy="135.6" rx="16" ry="14.5" fill="rgb(97,97,97)"/><ellipse cx="27.5" cy="123" rx="29.8" ry="4.6" fill="rgb(92,92,92)"/><ellipse cx="851.8" cy="123" rx="29.8" ry="4.6" fill="rgb(92,92,92)"/><ellipse cx="-4.6" cy="119" rx="16" ry="3.7" fill="rgb(69,69,69)"/><ellipse cx="819.7" cy="119" rx="16" ry="3.7" fill="rgb(69,69,69)"/><ellipse cx="59.5" cy="125.2" rx="16" ry="3.7" fill="rgb(94,94,94)"/><ellipse cx="27.5" cy="149.5" rx="13.7" ry="4.8" fill="rgb(117,117,117)"/><ellipse cx="851.8" cy="149.5" rx="13.7" ry="4.8" fill="rgb(117,117,117)"/><ellipse cx="11.4" cy="129.4" rx="8" ry="4.1" fill="rgb(116,116,116)"/><ellipse cx="835.7" cy="129.4" rx="8" ry="4.1" fill="rgb(116,116,116)"/><ellipse cx="57.2" cy="132.5" rx="12.6" ry="6.2" fill="rgb(116,116,116)"/><ellipse cx="-11.4" cy="137.7" rx="10.3" ry="5.2" fill="rgb(116,116,116)"/><ellipse cx="812.9" cy="137.7" rx="10.3" ry="5.2" fill="rgb(116,116,116)"/><ellipse cx="68.7" cy="142.8" rx="8" ry="4.1" fill="rgb(116,116,116)"/><ellipse cx="-27.5" cy="147" rx="6.9" ry="4.1" fill="rgb(112,112,112)"/><ellipse cx="796.8" cy="147" rx="6.9" ry="4.1" fill="rgb(112,112,112)"/><ellipse cx="34.3" cy="130.4" rx="6.9" ry="3.1" fill="rgb(112,112,112)"/><ellipse cx="-2.3" cy="147" rx="6.9" ry="3.1" fill="rgb(110,110,110)"/><ellipse cx="822" cy="147" rx="6.9" ry="3.1" fill="rgb(110,110,110)"/><ellipse cx="40.1" cy="142.2" rx="5.3" ry="3.3" fill="rgb(71,71,71)"/><ellipse cx="10.3" cy="138.1" rx="6" ry="3.1" fill="rgb(79,79,79)"/><ellipse cx="834.6" cy="138.1" rx="6" ry="3.1" fill="rgb(79,79,79)"/><ellipse cx="19.5" cy="148" rx="3.4" ry="3.1" fill="rgb(79,79,79)"/><ellipse cx="843.8" cy="148" rx="3.4" ry="3.1" fill="rgb(79,79,79)"/><ellipse cx="41.2" cy="160.8" rx="73.3" ry="3.7" fill="rgb(51,51,51)"/><ellipse cx="865.5" cy="160.8" rx="73.3" ry="3.7" fill="rgb(51,51,51)"/><ellipse cx="107.6" cy="168.7" rx="9.6" ry="7.5" fill="rgb(74,74,74)"/><ellipse cx="100.7" cy="176" rx="8" ry="7.2" fill="rgb(56,56,56)"/><ellipse cx="91.6" cy="165.6" rx="6.9" ry="6.2" fill="rgb(51,51,51)"/><ellipse cx="84.7" cy="192.5" rx="10.3" ry="13.5" fill="rgb(45,45,45)"/><ellipse cx="52.7" cy="236" rx="21.8" ry="17.6" fill="rgb(50,50,50)"/><ellipse cx="46.9" cy="236" rx="12.6" ry="12.4" fill="rgb(58,58,58)"/><ellipse cx="106.5" cy="227.7" rx="3.7" ry="8.3" fill="rgb(46,46,46)"/><ellipse cx="38.9" cy="227.7" rx="4.6" ry="6.2" fill="rgb(69,69,69)"/><ellipse cx="55" cy="248.4" rx="9.2" ry="5.2" fill="rgb(51,51,51)"/><ellipse cx="183.2" cy="113.4" rx="24" ry="5.6" fill="rgb(120,120,120)" transform="rotate(27 183.2 113.4)"/><ellipse cx="179.3" cy="113.9" rx="6.4" ry="2.3" fill="rgb(153,153,153)" transform="rotate(27 179.3 113.9)"/><ellipse cx="196.9" cy="121.7" rx="6.9" ry="2.5" fill="rgb(128,128,128)" transform="rotate(15 196.9 121.7)"/><ellipse cx="202.6" cy="123" rx="11.4" ry="3.1" fill="rgb(112,112,112)" transform="rotate(12 202.6 123)"/><ellipse cx="169.4" cy="107" rx="6.9" ry="3.3" fill="rgb(128,128,128)" transform="rotate(30 169.4 107)"/><ellipse cx="194.6" cy="106.6" rx="16" ry="4.1" fill="rgb(76,76,76)"/><ellipse cx="212.9" cy="108.7" rx="10.3" ry="6.6" fill="rgb(92,92,92)"/><ellipse cx="219.8" cy="118" rx="11.4" ry="6.2" fill="rgb(87,87,87)"/><ellipse cx="206.1" cy="115.9" rx="22.9" ry="8.3" fill="rgb(74,74,74)"/><ellipse cx="240.4" cy="93.2" rx="34.3" ry="9.5" fill="rgb(71,71,71)"/><ellipse cx="222.1" cy="85.7" rx="7.3" ry="3.1" fill="rgb(94,94,94)"/><ellipse cx="270.2" cy="68.3" rx="25.2" ry="5" fill="rgb(69,69,69)"/><ellipse cx="256.4" cy="106.6" rx="20.6" ry="8.7" fill="rgb(48,48,48)"/><ellipse cx="286.2" cy="91.1" rx="12.6" ry="8.3" fill="rgb(46,46,46)"/><ellipse cx="235.8" cy="102.5" rx="13.7" ry="4.6" fill="rgb(84,84,84)"/><ellipse cx="258.7" cy="118" rx="16" ry="10.4" fill="rgb(45,45,45)"/><ellipse cx="164.9" cy="130.4" rx="8.7" ry="6.6" fill="rgb(61,61,61)"/><ellipse cx="176.3" cy="147" rx="9.2" ry="11.4" fill="rgb(42,42,42)"/><ellipse cx="155.7" cy="130.4" rx="6.9" ry="6.2" fill="rgb(56,56,56)"/><ellipse cx="365.2" cy="70.4" rx="6.9" ry="9.3" fill="rgb(46,46,46)" transform="rotate(-20 365.2 70.4)"/><ellipse cx="476.3" cy="51.8" rx="32.1" ry="10.4" fill="rgb(46,46,46)"/><ellipse cx="476.3" cy="44.5" rx="22.9" ry="2.7" fill="rgb(61,61,61)"/><ellipse cx="501" cy="59.4" rx="7.3" ry="2.1" fill="rgb(133,133,133)" transform="rotate(-8 501 59.4)"/><ellipse cx="524.3" cy="54.9" rx="11.4" ry="5.2" fill="rgb(74,74,74)"/><ellipse cx="531.2" cy="68.3" rx="6.9" ry="9.3" fill="rgb(61,61,61)"/><ellipse cx="492.3" cy="55.9" rx="13.7" ry="3.1" fill="rgb(66,66,66)"/><ellipse cx="574.7" cy="54.9" rx="61.8" ry="12.8" fill="rgb(45,45,45)"/><ellipse cx="586.2" cy="46.4" rx="52.7" ry="3.9" fill="rgb(57,57,57)"/><ellipse cx="664" cy="70.4" rx="20.6" ry="10.4" fill="rgb(46,46,46)"/><ellipse cx="659.4" cy="62.1" rx="11.4" ry="4.1" fill="rgb(60,60,60)"/><ellipse cx="623.9" cy="87.8" rx="6" ry="2.3" fill="rgb(20,20,20)"/><ellipse cx="625.6" cy="94.8" rx="2.1" ry="3.7" fill="rgb(22,22,22)"/><ellipse cx="636.5" cy="93.6" rx="3.4" ry="2.5" fill="rgb(23,23,23)"/><ellipse cx="577" cy="99.4" rx="29.8" ry="20.7" fill="rgb(56,56,56)"/><ellipse cx="578.2" cy="97.3" rx="7.3" ry="5.4" fill="rgb(71,71,71)"/><ellipse cx="563.3" cy="101.4" rx="6.9" ry="4.1" fill="rgb(69,69,69)"/><ellipse cx="586.2" cy="115.9" rx="9.2" ry="7.2" fill="rgb(62,62,62)"/><ellipse cx="567.9" cy="118" rx="6.9" ry="4.1" fill="rgb(66,66,66)"/><ellipse cx="590.7" cy="82.8" rx="25.2" ry="8.3" fill="rgb(54,54,54)"/><ellipse cx="618.2" cy="103.5" rx="18.3" ry="10.4" fill="rgb(43,43,43)"/><ellipse cx="586.2" cy="132.5" rx="11.4" ry="10.4" fill="rgb(51,51,51)"/><ellipse cx="599.9" cy="107.6" rx="11.4" ry="8.3" fill="rgb(60,60,60)"/><ellipse cx="731.6" cy="202.9" rx="6.9" ry="9.3" fill="rgb(43,43,43)"/><ellipse cx="712.1" cy="225.6" rx="12.6" ry="6.2" fill="rgb(43,43,43)"/><ellipse cx="667.5" cy="227.7" rx="4.4" ry="11.4" fill="rgb(66,66,66)"/><ellipse cx="677.8" cy="254.6" rx="9.2" ry="13.5" fill="rgb(45,45,45)"/><ellipse cx="666.3" cy="273.2" rx="6.9" ry="13.5" fill="rgb(46,46,46)"/><ellipse cx="657.2" cy="288.8" rx="3.7" ry="4.6" fill="rgb(76,76,76)"/><ellipse cx="662.9" cy="242.2" rx="4.1" ry="8.3" fill="rgb(56,56,56)"/><ellipse cx="304.5" cy="238" rx="43.5" ry="19.7" fill="rgb(45,45,45)"/><ellipse cx="285.3" cy="229.8" rx="9.6" ry="5.4" fill="rgb(60,60,60)"/><ellipse cx="319.4" cy="241.4" rx="8.9" ry="8.1" fill="rgb(68,68,68)"/><ellipse cx="318.3" cy="242.6" rx="3.2" ry="4.1" fill="rgb(80,80,80)"/><ellipse cx="41.2" cy="23.2" rx="16" ry="4.1" fill="rgb(94,94,94)"/><ellipse cx="865.5" cy="23.2" rx="16" ry="4.1" fill="rgb(94,94,94)"/><ellipse cx="132.8" cy="32.5" rx="25.2" ry="3.3" fill="rgb(105,105,105)" transform="rotate(-24 132.8 32.5)"/><ellipse cx="224.4" cy="20.7" rx="18.3" ry="4.6" fill="rgb(140,140,140)"/><ellipse cx="325.1" cy="30.4" rx="16" ry="2.9" fill="rgb(128,128,128)"/><ellipse cx="588.5" cy="32.1" rx="55" ry="11.4" fill="rgb(107,107,107)"/><ellipse cx="599.9" cy="25.9" rx="41.2" ry="5.2" fill="rgb(128,128,128)"/><ellipse cx="643.4" cy="21.7" rx="32.1" ry="8.3" fill="rgb(168,168,168)"/><ellipse cx="618.2" cy="22.8" rx="16" ry="5.2" fill="rgb(158,158,158)"/><ellipse cx="625.1" cy="30" rx="20.6" ry="3.1" fill="rgb(143,143,143)"/><ellipse cx="659.4" cy="41.4" rx="22.9" ry="9.3" fill="rgb(98,98,98)" transform="rotate(35 659.4 41.4)"/><ellipse cx="666.3" cy="44.5" rx="11.4" ry="4.6" fill="rgb(115,115,115)" transform="rotate(35 666.3 44.5)"/><ellipse cx="645.7" cy="36.2" rx="11.4" ry="3.1" fill="rgb(110,110,110)"/><ellipse cx="572.4" cy="39.3" rx="22.9" ry="5.2" fill="rgb(107,107,107)"/><ellipse cx="547.2" cy="35.2" rx="11.4" ry="4.1" fill="rgb(112,112,112)"/><ellipse cx="570.1" cy="30" rx="16" ry="2.5" fill="rgb(133,133,133)"/><ellipse cx="602.2" cy="35.2" rx="9.2" ry="3.1" fill="rgb(115,115,115)"/><ellipse cx="586.2" cy="41.4" rx="13.7" ry="3.1" fill="rgb(94,94,94)"/><ellipse cx="629.7" cy="52.8" rx="9.2" ry="3.3" fill="rgb(64,64,64)"/><ellipse cx="599.9" cy="22.8" rx="6.9" ry="2.1" fill="rgb(168,168,168)"/><ellipse cx="572.4" cy="25.9" rx="6.9" ry="2.1" fill="rgb(163,163,163)"/><ellipse cx="728.1" cy="35.2" rx="50.4" ry="24.8" fill="rgb(128,128,128)"/><ellipse cx="-80.1" cy="20.7" rx="59.5" ry="9.3" fill="rgb(128,128,128)"/><ellipse cx="744.2" cy="20.7" rx="59.5" ry="9.3" fill="rgb(128,128,128)"/><ellipse cx="719" cy="55.9" rx="18.3" ry="10.4" fill="rgb(128,128,128)"/><path d="M683.5 17.4L709.8 15.9L744.2 15.3L771.6 16.6L765.9 21.7L763.2 26.9L762.5 33.1L760.2 37.7L751 42.2L743 45.5L733.9 49.7L728.1 54.2L723.6 58.4L720.3 58.8L714.9 55.5L711.6 50.7L709.8 46.6L707.5 41.4L704.8 36.2L699.5 31.1L692.6 26.5L684.6 22.8L678.9 20.3Z" fill="rgb(255,255,255)"/><g filter="url(#b1)"></g></g></g></g>
<g id="fieldD" filter="url(#qD)"><rect x="-20" y="-20" width="870" height="420" fill="rgb(128,128,128)"/><g filter="url(#b2)"><ellipse cx="201.5" cy="0.8" rx="132.8" ry="2.3" fill="rgb(82,82,82)"/><ellipse cx="1025.8" cy="0.8" rx="132.8" ry="2.3" fill="rgb(82,82,82)"/><ellipse cx="206.1" cy="0.4" rx="77.9" ry="1.7" fill="rgb(51,51,51)"/><ellipse cx="508.3" cy="8.3" rx="103" ry="7" fill="rgb(109,109,109)"/><ellipse cx="487.7" cy="9.5" rx="43.5" ry="4.1" fill="rgb(78,78,78)"/><ellipse cx="526.6" cy="1.7" rx="123.6" ry="2.7" fill="rgb(71,71,71)"/><ellipse cx="508.3" cy="1" rx="82.4" ry="1.9" fill="rgb(48,48,48)"/><ellipse cx="428.2" cy="26.9" rx="16" ry="5" fill="rgb(90,90,90)"/><ellipse cx="460.2" cy="22.8" rx="48.1" ry="6.8" fill="rgb(109,109,109)"/><ellipse cx="-68.7" cy="8.9" rx="71" ry="6.2" fill="rgb(109,109,109)"/><ellipse cx="755.6" cy="8.9" rx="71" ry="6.2" fill="rgb(109,109,109)"/><ellipse cx="-43.5" cy="12.4" rx="48.1" ry="3.1" fill="rgb(71,71,71)"/><ellipse cx="780.8" cy="12.4" rx="48.1" ry="3.1" fill="rgb(71,71,71)"/><ellipse cx="652.6" cy="4.6" rx="36.6" ry="2.7" fill="rgb(85,85,85)"/><ellipse cx="-36.6" cy="2.7" rx="38.9" ry="2.1" fill="rgb(144,144,144)"/><ellipse cx="787.7" cy="2.7" rx="38.9" ry="2.1" fill="rgb(144,144,144)"/><ellipse cx="229" cy="11.4" rx="142" ry="5.8" fill="rgb(146,146,146)"/><ellipse cx="1053.3" cy="11.4" rx="142" ry="5.8" fill="rgb(146,146,146)"/><ellipse cx="270.2" cy="11.2" rx="105.3" ry="4.3" fill="rgb(173,173,173)"/><ellipse cx="155.7" cy="9.9" rx="50.4" ry="3.5" fill="rgb(177,177,177)"/><ellipse cx="151.1" cy="9.7" rx="29.8" ry="2.3" fill="rgb(194,194,194)"/><ellipse cx="316" cy="11" rx="55" ry="3.5" fill="rgb(197,197,197)"/><ellipse cx="327.4" cy="11.2" rx="18.3" ry="2.7" fill="rgb(212,212,212)"/><ellipse cx="251.9" cy="19.7" rx="64.1" ry="5.4" fill="rgb(144,144,144)"/><ellipse cx="50.4" cy="11.4" rx="22.9" ry="3.3" fill="rgb(144,144,144)"/><ellipse cx="874.7" cy="11.4" rx="22.9" ry="3.3" fill="rgb(144,144,144)"/><ellipse cx="11.4" cy="3.7" rx="20.6" ry="1.9" fill="rgb(144,144,144)"/><ellipse cx="835.7" cy="3.7" rx="20.6" ry="1.9" fill="rgb(144,144,144)"/><ellipse cx="27.5" cy="17" rx="18.3" ry="1.4" fill="rgb(144,144,144)"/><ellipse cx="851.8" cy="17" rx="18.3" ry="1.4" fill="rgb(144,144,144)"/><ellipse cx="293.1" cy="28.4" rx="45.8" ry="2.7" fill="rgb(144,144,144)"/><ellipse cx="380.1" cy="24.8" rx="32.1" ry="10.4" fill="rgb(109,109,109)"/><ellipse cx="364.1" cy="22.4" rx="14.9" ry="5.4" fill="rgb(73,73,73)" transform="rotate(15 364.1 22.4)"/><ellipse cx="3.4" cy="12" rx="4.1" ry="3.1" fill="rgb(76,76,76)"/><ellipse cx="827.7" cy="12" rx="4.1" ry="3.1" fill="rgb(76,76,76)"/><ellipse cx="68.7" cy="15.3" rx="11.4" ry="1.2" fill="rgb(109,109,109)"/><ellipse cx="403" cy="9.3" rx="13.7" ry="5" fill="rgb(144,144,144)"/><ellipse cx="407.6" cy="47" rx="9.2" ry="1.7" fill="rgb(144,144,144)"/><ellipse cx="421.3" cy="46.6" rx="9.2" ry="3.7" fill="rgb(144,144,144)"/><ellipse cx="446.5" cy="34.2" rx="6.9" ry="1.7" fill="rgb(144,144,144)"/><ellipse cx="415.6" cy="14.5" rx="5.7" ry="4.6" fill="rgb(144,144,144)"/><ellipse cx="524.3" cy="16.6" rx="32.1" ry="6.6" fill="rgb(148,148,148)"/><ellipse cx="515.2" cy="15.5" rx="12.6" ry="3.1" fill="rgb(173,173,173)"/><ellipse cx="588.5" cy="23.4" rx="55" ry="7.9" fill="rgb(153,153,153)"/><ellipse cx="585" cy="22.8" rx="28.6" ry="4.1" fill="rgb(184,184,184)"/><ellipse cx="622.8" cy="17.6" rx="18.3" ry="4.6" fill="rgb(180,180,180)"/><ellipse cx="625.1" cy="29" rx="9.2" ry="8.3" fill="rgb(144,144,144)"/><ellipse cx="627.4" cy="35.2" rx="6.9" ry="3.1" fill="rgb(144,144,144)"/><ellipse cx="483.1" cy="44.5" rx="18.3" ry="1.7" fill="rgb(109,109,109)"/><ellipse cx="527.8" cy="54.4" rx="5.7" ry="1.9" fill="rgb(109,109,109)"/><ellipse cx="579.3" cy="39.7" rx="38.9" ry="7" fill="rgb(109,109,109)"/><ellipse cx="563.3" cy="36.2" rx="11.4" ry="3.1" fill="rgb(92,92,92)"/><ellipse cx="667.5" cy="46.2" rx="12.6" ry="7.5" fill="rgb(109,109,109)"/><ellipse cx="625.1" cy="44.5" rx="8" ry="3.7" fill="rgb(109,109,109)"/><ellipse cx="668.6" cy="20.3" rx="11.4" ry="3.1" fill="rgb(73,73,73)"/><ellipse cx="682.3" cy="19.5" rx="14.9" ry="3.3" fill="rgb(109,109,109)"/><ellipse cx="704.5" cy="16.8" rx="11.4" ry="1.9" fill="rgb(173,173,173)"/><ellipse cx="770.5" cy="36.2" rx="6.9" ry="9.1" fill="rgb(109,109,109)" transform="rotate(35 770.5 36.2)"/><ellipse cx="772.8" cy="38.3" rx="3.7" ry="4.6" fill="rgb(92,92,92)" transform="rotate(35 772.8 38.3)"/><ellipse cx="705.2" cy="40.4" rx="3.4" ry="2.1" fill="rgb(144,144,144)"/><ellipse cx="707.5" cy="32.1" rx="2.7" ry="1.7" fill="rgb(144,144,144)"/><ellipse cx="168.3" cy="107.6" rx="2.7" ry="1.9" fill="rgb(144,144,144)"/><ellipse cx="185.5" cy="117" rx="6.9" ry="3.3" fill="rgb(144,144,144)"/><ellipse cx="224.4" cy="118" rx="6.9" ry="4.1" fill="rgb(109,109,109)"/><ellipse cx="210.7" cy="34.2" rx="6.9" ry="2.5" fill="rgb(144,144,144)"/><ellipse cx="730.4" cy="312.6" rx="38.9" ry="3.5" fill="rgb(144,144,144)" transform="rotate(-12 730.4 312.6)"/></g></g>
</defs>
<text x="637.5" y="93.4" font-size="38.2" text-anchor="middle" textLength="464.1" lengthAdjust="spacingAndGlyphs">ALBEDO_SRF SON global</text>
<g transform="translate(215.6,153.8)" clip-path="url(#axclip)">
<use href="#fieldA"/>
<use href="#coastlines"/>
</g>
<path d="M215.6 526.4v7.3M353 526.4v7.3M490.4 526.4v7.3M627.7 526.4v7.3M765.1 526.4v7.3M902.5 526.4v7.3M1039.9 526.4v7.3M215.6 153.8h-7.3M215.6 215.9h-7.3M215.6 278h-7.3M215.6 340.1h-7.3M215.6 402.2h-7.3M215.6 464.3h-7.3M215.6 526.4h-7.3" stroke="#000" stroke-width="1.67" fill="none"/>
<rect x="215.6" y="153.8" width="824.3" height="372.6" fill="none" stroke="#000" stroke-width="2.08"/>
<text x="215.6" y="553.3" font-size="17.0" text-anchor="middle" textLength="29.5" lengthAdjust="spacingAndGlyphs">0°E</text>
<text x="353" y="553.3" font-size="17.0" text-anchor="middle" textLength="40.1" lengthAdjust="spacingAndGlyphs">60°E</text>
<text x="490.4" y="553.3" font-size="17.0" text-anchor="middle" textLength="50.7" lengthAdjust="spacingAndGlyphs">120°E</text>
<text x="627.7" y="553.3" font-size="17.0" text-anchor="middle" textLength="40.1" lengthAdjust="spacingAndGlyphs">180°</text>
<text x="765.1" y="553.3" font-size="17.0" text-anchor="middle" textLength="56.6" lengthAdjust="spacingAndGlyphs">120°W</text>
<text x="902.5" y="553.3" font-size="17.0" text-anchor="middle" textLength="46.0" lengthAdjust="spacingAndGlyphs">60°W</text>
<text x="1039.9" y="553.3" font-size="17.0" text-anchor="middle" textLength="35.4" lengthAdjust="spacingAndGlyphs">0°W</text>
<text x="200.6" y="159.8" font-size="17.0" text-anchor="end" textLength="42.0" lengthAdjust="spacingAndGlyphs">90°N</text>
<text x="200.6" y="221.9" font-size="17.0" text-anchor="end" textLength="42.0" lengthAdjust="spacingAndGlyphs">60°N</text>
<text x="200.6" y="284" font-size="17.0" text-anchor="end" textLength="42.0" lengthAdjust="spacingAndGlyphs">30°N</text>
<text x="200.6" y="346.1" font-size="17.0" text-anchor="end" textLength="18.9" lengthAdjust="spacingAndGlyphs">0°</text>
<text x="200.6" y="408.2" font-size="17.0" text-anchor="end" textLength="40.1" lengthAdjust="spacingAndGlyphs">30°S</text>
<text x="200.6" y="470.3" font-size="17.0" text-anchor="end" textLength="40.1" lengthAdjust="spacingAndGlyphs">60°S</text>
<text x="200.6" y="532.4" font-size="17.0" text-anchor="end" textLength="40.1" lengthAdjust="spacingAndGlyphs">90°S</text>
<g transform="translate(215.6,623.9)" clip-path="url(#axclip)">
<use href="#fieldA2"/>
<use href="#coastlines"/>
</g>
<path d="M215.6 996.5v7.3M353 996.5v7.3M490.4 996.5v7.3M627.7 996.5v7.3M765.1 996.5v7.3M902.5 996.5v7.3M1039.9 996.5v7.3M215.6 623.9h-7.3M215.6 686h-7.3M215.6 748.1h-7.3M215.6 810.2h-7.3M215.6 872.3h-7.3M215.6 934.4h-7.3M215.6 996.5h-7.3" stroke="#000" stroke-width="1.67" fill="none"/>
<rect x="215.6" y="623.9" width="824.3" height="372.6" fill="none" stroke="#000" stroke-width="2.08"/>
<text x="215.6" y="1023.4" font-size="17.0" text-anchor="middle" textLength="29.5" lengthAdjust="spacingAndGlyphs">0°E</text>
<text x="353" y="1023.4" font-size="17.0" text-anchor="middle" textLength="40.1" lengthAdjust="spacingAndGlyphs">60°E</text>
<text x="490.4" y="1023.4" font-size="17.0" text-anchor="middle" textLength="50.7" lengthAdjust="spacingAndGlyphs">120°E</text>
<text x="627.7" y="1023.4" font-size="17.0" text-anchor="middle" textLength="40.1" lengthAdjust="spacingAndGlyphs">180°</text>
<text x="765.1" y="1023.4" font-size="17.0" text-anchor="middle" textLength="56.6" lengthAdjust="spacingAndGlyphs">120°W</text>
<text x="902.5" y="1023.4" font-size="17.0" text-anchor="middle" textLength="46.0" lengthAdjust="spacingAndGlyphs">60°W</text>
<text x="1039.9" y="1023.4" font-size="17.0" text-anchor="middle" textLength="35.4" lengthAdjust="spacingAndGlyphs">0°W</text>
<text x="200.6" y="629.9" font-size="17.0" text-anchor="end" textLength="42.0" lengthAdjust="spacingAndGlyphs">90°N</text>
<text x="200.6" y="692" font-size="17.0" text-anchor="end" textLength="42.0" lengthAdjust="spacingAndGlyphs">60°N</text>
<text x="200.6" y="754.1" font-size="17.0" text-anchor="end" textLength="42.0" lengthAdjust="spacingAndGlyphs">30°N</text>
<text x="200.6" y="816.2" font-size="17.0" text-anchor="end" textLength="18.9" lengthAdjust="spacingAndGlyphs">0°</text>
<text x="200.6" y="878.3" font-size="17.0" text-anchor="end" textLength="40.1" lengthAdjust="spacingAndGlyphs">30°S</text>
<text x="200.6" y="940.4" font-size="17.0" text-anchor="end" textLength="40.1" lengthAdjust="spacingAndGlyphs">60°S</text>
<text x="200.6" y="1002.5" font-size="17.0" text-anchor="end" textLength="40.1" lengthAdjust="spacingAndGlyphs">90°S</text>
<g transform="translate(215.6,1093.9)" clip-path="url(#axclip)">
<use href="#fieldD"/>
<use href="#coastlines"/>
</g>
<path d="M215.6 1466.5v7.3M353 1466.5v7.3M490.4 1466.5v7.3M627.7 1466.5v7.3M765.1 1466.5v7.3M902.5 1466.5v7.3M1039.9 1466.5v7.3M215.6 1093.9h-7.3M215.6 1156h-7.3M215.6 1218.1h-7.3M215.6 1280.2h-7.3M215.6 1342.3h-7.3M215.6 1404.4h-7.3M215.6 1466.5h-7.3" stroke="#000" stroke-width="1.67" fill="none"/>
<rect x="215.6" y="1093.9" width="824.3" height="372.6" fill="none" stroke="#000" stroke-width="2.08"/>
<text x="215.6" y="1493.4" font-size="17.0" text-anchor="middle" textLength="29.5" lengthAdjust="spacingAndGlyphs">0°E</text>
<text x="353" y="1493.4" font-size="17.0" text-anchor="middle" textLength="40.1" lengthAdjust="spacingAndGlyphs">60°E</text>
<text x="490.4" y="1493.4" font-size="17.0" text-anchor="middle" textLength="50.7" lengthAdjust="spacingAndGlyphs">120°E</text>
<text x="627.7" y="1493.4" font-size="17.0" text-anchor="middle" textLength="40.1" lengthAdjust="spacingAndGlyphs">180°</text>
<text x="765.1" y="1493.4" font-size="17.0" text-anchor="middle" textLength="56.6" lengthAdjust="spacingAndGlyphs">120°W</text>
<text x="902.5" y="1493.4" font-size="17.0" text-anchor="middle" textLength="46.0" lengthAdjust="spacingAndGlyphs">60°W</text>
<text x="1039.9" y="1493.4" font-size="17.0" text-anchor="middle" textLength="35.4" lengthAdjust="spacingAndGlyphs">0°W</text>
<text x="200.6" y="1099.9" font-size="17.0" text-anchor="end" textLength="42.0" lengthAdjust="spacingAndGlyphs">90°N</text>
<text x="200.6" y="1162" font-size="17.0" text-anchor="end" textLength="42.0" lengthAdjust="spacingAndGlyphs">60°N</text>
<text x="200.6" y="1224.1" font-size="17.0" text-anchor="end" textLength="42.0" lengthAdjust="spacingAndGlyphs">30°N</text>
<text x="200.6" y="1286.2" font-size="17.0" text-anchor="end" textLength="18.9" lengthAdjust="spacingAndGlyphs">0°</text>
<text x="200.6" y="1348.3" font-size="17.0" text-anchor="end" textLength="40.1" lengthAdjust="spacingAndGlyphs">30°S</text>
<text x="200.6" y="1410.4" font-size="17.0" text-anchor="end" textLength="40.1" lengthAdjust="spacingAndGlyphs">60°S</text>
<text x="200.6" y="1472.5" font-size="17.0" text-anchor="end" textLength="40.1" lengthAdjust="spacingAndGlyphs">90°S</text>
<text x="215.6" y="140.9" font-size="20.2" text-anchor="start" textLength="209.5" lengthAdjust="spacingAndGlyphs">EAMv1_CLUBB (1-10)</text>
<text x="1039.9" y="140.9" font-size="20.2" text-anchor="end" textLength="140.8" lengthAdjust="spacingAndGlyphs">dimensionless</text>
<text x="215.6" y="611" font-size="20.2" text-anchor="start" textLength="134.1" lengthAdjust="spacingAndGlyphs">EAMv1 (1-10)</text>
<text x="1039.9" y="611" font-size="20.2" text-anchor="end" textLength="140.8" lengthAdjust="spacingAndGlyphs">dimensionless</text>
<text x="627.8" y="1080.8" font-size="24.4" text-anchor="middle" textLength="278.4" lengthAdjust="spacingAndGlyphs">EAMv1_CLUBB - EAMv1</text>
<rect x="1061.6" y="460.38" width="41.6" height="17.40" fill="#0034F8"/>
<rect x="1061.6" y="443.58" width="41.6" height="17.40" fill="#005AC7"/>
<rect x="1061.6" y="426.78" width="41.6" height="17.40" fill="#007596"/>
<rect x="1061.6" y="409.98" width="41.6" height="17.40" fill="#36866F"/>
<rect x="1061.6" y="393.18" width="41.6" height="17.40" fill="#3F9843"/>
<rect x="1061.6" y="376.38" width="41.6" height="17.40" fill="#4AA812"/>
<rect x="1061.6" y="359.58" width="41.6" height="17.40" fill="#7AB212"/>
<rect x="1061.6" y="342.78" width="41.6" height="17.40" fill="#A0BC1A"/>
<rect x="1061.6" y="325.97" width="41.6" height="17.40" fill="#C8C720"/>
<rect x="1061.6" y="309.17" width="41.6" height="17.40" fill="#EBCF28"/>
<rect x="1061.6" y="292.37" width="41.6" height="17.40" fill="#FFC320"/>
<rect x="1061.6" y="275.57" width="41.6" height="17.40" fill="#FFA514"/>
<rect x="1061.6" y="258.77" width="41.6" height="17.40" fill="#FF8C0A"/>
<rect x="1061.6" y="241.97" width="41.6" height="17.40" fill="#FF7700"/>
<rect x="1061.6" y="225.17" width="41.6" height="17.40" fill="#FF5500"/>
<rect x="1061.6" y="208.37" width="41.6" height="17.40" fill="#FF2A00"/>
<path d="M1061.6 209.2L1082.4 195.2L1103.2 209.2Z" fill="#FF2A00"/>
<path d="M1061.6 477L1082.4 490.9L1103.2 477Z" fill="#0034F8"/>
<path d="M1061.6 208.7L1082.4 195.2L1103.2 208.7L1103.2 477.5L1082.4 490.9L1061.6 477.5Z" fill="none" stroke="#000" stroke-width="2.08" stroke-linejoin="miter"/>
<text x="1155.6" y="467.5" font-size="19.1" text-anchor="end" textLength="41.7" lengthAdjust="spacingAndGlyphs">0.05</text>
<text x="1155.6" y="450.7" font-size="19.1" text-anchor="end" textLength="41.7" lengthAdjust="spacingAndGlyphs">0.10</text>
<text x="1155.6" y="433.9" font-size="19.1" text-anchor="end" textLength="41.7" lengthAdjust="spacingAndGlyphs">0.15</text>
<text x="1155.6" y="417.1" font-size="19.1" text-anchor="end" textLength="41.7" lengthAdjust="spacingAndGlyphs">0.20</text>
<text x="1155.6" y="400.3" font-size="19.1" text-anchor="end" textLength="41.7" lengthAdjust="spacingAndGlyphs">0.25</text>
<text x="1155.6" y="383.5" font-size="19.1" text-anchor="end" textLength="41.7" lengthAdjust="spacingAndGlyphs">0.30</text>
<text x="1155.6" y="366.7" font-size="19.1" text-anchor="end" textLength="41.7" lengthAdjust="spacingAndGlyphs">0.35</text>
<text x="1155.6" y="349.9" font-size="19.1" text-anchor="end" textLength="41.7" lengthAdjust="spacingAndGlyphs">0.40</text>
<text x="1155.6" y="333.1" font-size="19.1" text-anchor="end" textLength="41.7" lengthAdjust="spacingAndGlyphs">0.45</text>
<text x="1155.6" y="316.3" font-size="19.1" text-anchor="end" textLength="41.7" lengthAdjust="spacingAndGlyphs">0.50</text>
<text x="1155.6" y="299.5" font-size="19.1" text-anchor="end" textLength="41.7" lengthAdjust="spacingAndGlyphs">0.55</text>
<text x="1155.6" y="282.7" font-size="19.1" text-anchor="end" textLength="41.7" lengthAdjust="spacingAndGlyphs">0.60</text>
<text x="1155.6" y="265.9" font-size="19.1" text-anchor="end" textLength="41.7" lengthAdjust="spacingAndGlyphs">0.65</text>
<text x="1155.6" y="249.1" font-size="19.1" text-anchor="end" textLength="41.7" lengthAdjust="spacingAndGlyphs">0.70</text>
<text x="1155.6" y="232.3" font-size="19.1" text-anchor="end" textLength="41.7" lengthAdjust="spacingAndGlyphs">0.75</text>
<rect x="1061.6" y="930.48" width="41.6" height="17.40" fill="#0034F8"/>
<rect x="1061.6" y="913.68" width="41.6" height="17.40" fill="#005AC7"/>
<rect x="1061.6" y="896.88" width="41.6" height="17.40" fill="#007596"/>
<rect x="1061.6" y="880.08" width="41.6" height="17.40" fill="#36866F"/>
<rect x="1061.6" y="863.28" width="41.6" height="17.40" fill="#3F9843"/>
<rect x="1061.6" y="846.48" width="41.6" height="17.40" fill="#4AA812"/>
<rect x="1061.6" y="829.68" width="41.6" height="17.40" fill="#7AB212"/>
<rect x="1061.6" y="812.88" width="41.6" height="17.40" fill="#A0BC1A"/>
<rect x="1061.6" y="796.07" width="41.6" height="17.40" fill="#C8C720"/>
<rect x="1061.6" y="779.27" width="41.6" height="17.40" fill="#EBCF28"/>
<rect x="1061.6" y="762.47" width="41.6" height="17.40" fill="#FFC320"/>
<rect x="1061.6" y="745.67" width="41.6" height="17.40" fill="#FFA514"/>
<rect x="1061.6" y="728.87" width="41.6" height="17.40" fill="#FF8C0A"/>
<rect x="1061.6" y="712.07" width="41.6" height="17.40" fill="#FF7700"/>
<rect x="1061.6" y="695.27" width="41.6" height="17.40" fill="#FF5500"/>
<rect x="1061.6" y="678.47" width="41.6" height="17.40" fill="#FF2A00"/>
<path d="M1061.6 679.3L1082.4 665.3L1103.2 679.3Z" fill="#FF2A00"/>
<path d="M1061.6 947.1L1082.4 961L1103.2 947.1Z" fill="#0034F8"/>
<path d="M1061.6 678.8L1082.4 665.3L1103.2 678.8L1103.2 947.6L1082.4 961L1061.6 947.6Z" fill="none" stroke="#000" stroke-width="2.08" stroke-linejoin="miter"/>
<text x="1155.6" y="937.6" font-size="19.1" text-anchor="end" textLength="41.7" lengthAdjust="spacingAndGlyphs">0.05</text>
<text x="1155.6" y="920.8" font-size="19.1" text-anchor="end" textLength="41.7" lengthAdjust="spacingAndGlyphs">0.10</text>
<text x="1155.6" y="904" font-size="19.1" text-anchor="end" textLength="41.7" lengthAdjust="spacingAndGlyphs">0.15</text>
<text x="1155.6" y="887.2" font-size="19.1" text-anchor="end" textLength="41.7" lengthAdjust="spacingAndGlyphs">0.20</text>
<text x="1155.6" y="870.4" font-size="19.1" text-anchor="end" textLength="41.7" lengthAdjust="spacingAndGlyphs">0.25</text>
<text x="1155.6" y="853.6" font-size="19.1" text-anchor="end" textLength="41.7" lengthAdjust="spacingAndGlyphs">0.30</text>
<text x="1155.6" y="836.8" font-size="19.1" text-anchor="end" textLength="41.7" lengthAdjust="spacingAndGlyphs">0.35</text>
<text x="1155.6" y="820" font-size="19.1" text-anchor="end" textLength="41.7" lengthAdjust="spacingAndGlyphs">0.40</text>
<text x="1155.6" y="803.2" font-size="19.1" text-anchor="end" textLength="41.7" lengthAdjust="spacingAndGlyphs">0.45</text>
<text x="1155.6" y="786.4" font-size="19.1" text-anchor="end" textLength="41.7" lengthAdjust="spacingAndGlyphs">0.50</text>
<text x="1155.6" y="769.6" font-size="19.1" text-anchor="end" textLength="41.7" lengthAdjust="spacingAndGlyphs">0.55</text>
<text x="1155.6" y="752.8" font-size="19.1" text-anchor="end" textLength="41.7" lengthAdjust="spacingAndGlyphs">0.60</text>
<text x="1155.6" y="736" font-size="19.1" text-anchor="end" textLength="41.7" lengthAdjust="spacingAndGlyphs">0.65</text>
<text x="1155.6" y="719.2" font-size="19.1" text-anchor="end" textLength="41.7" lengthAdjust="spacingAndGlyphs">0.70</text>
<text x="1155.6" y="702.4" font-size="19.1" text-anchor="end" textLength="41.7" lengthAdjust="spacingAndGlyphs">0.75</text>
<rect x="1061.6" y="1399.36" width="41.6" height="18.52" fill="#002CFF"/>
<rect x="1061.6" y="1381.44" width="41.6" height="18.52" fill="#244AFF"/>
<rect x="1061.6" y="1363.52" width="41.6" height="18.52" fill="#4968FF"/>
<rect x="1061.6" y="1345.60" width="41.6" height="18.52" fill="#6D86FF"/>
<rect x="1061.6" y="1327.68" width="41.6" height="18.52" fill="#92A5FF"/>
<rect x="1061.6" y="1309.76" width="41.6" height="18.52" fill="#B6C3FF"/>
<rect x="1061.6" y="1291.84" width="41.6" height="18.52" fill="#DBE1FF"/>
<rect x="1061.6" y="1273.91" width="41.6" height="18.52" fill="#FFFFFF"/>
<rect x="1061.6" y="1255.99" width="41.6" height="18.52" fill="#FFE1DB"/>
<rect x="1061.6" y="1238.07" width="41.6" height="18.52" fill="#FFC2B6"/>
<rect x="1061.6" y="1220.15" width="41.6" height="18.52" fill="#FFA492"/>
<rect x="1061.6" y="1202.23" width="41.6" height="18.52" fill="#FF856D"/>
<rect x="1061.6" y="1184.31" width="41.6" height="18.52" fill="#FF6749"/>
<rect x="1061.6" y="1166.39" width="41.6" height="18.52" fill="#FF4824"/>
<rect x="1061.6" y="1148.47" width="41.6" height="18.52" fill="#FF2A00"/>
<path d="M1061.6 1149.3L1082.4 1135.3L1103.2 1149.3Z" fill="#FF2A00"/>
<path d="M1061.6 1417.1L1082.4 1431L1103.2 1417.1Z" fill="#002CFF"/>
<path d="M1061.6 1148.8L1082.4 1135.3L1103.2 1148.8L1103.2 1417.6L1082.4 1431L1061.6 1417.6Z" fill="none" stroke="#000" stroke-width="2.08" stroke-linejoin="miter"/>
<text x="1155.6" y="1406.5" font-size="19.1" text-anchor="end" textLength="48.5" lengthAdjust="spacingAndGlyphs">-0.25</text>
<text x="1155.6" y="1388.5" font-size="19.1" text-anchor="end" textLength="48.5" lengthAdjust="spacingAndGlyphs">-0.20</text>
<text x="1155.6" y="1370.6" font-size="19.1" text-anchor="end" textLength="48.5" lengthAdjust="spacingAndGlyphs">-0.15</text>
<text x="1155.6" y="1352.7" font-size="19.1" text-anchor="end" textLength="48.5" lengthAdjust="spacingAndGlyphs">-0.10</text>
<text x="1155.6" y="1334.8" font-size="19.1" text-anchor="end" textLength="48.5" lengthAdjust="spacingAndGlyphs">-0.07</text>
<text x="1155.6" y="1316.9" font-size="19.1" text-anchor="end" textLength="48.5" lengthAdjust="spacingAndGlyphs">-0.05</text>
<text x="1155.6" y="1298.9" font-size="19.1" text-anchor="end" textLength="48.5" lengthAdjust="spacingAndGlyphs">-0.02</text>
<text x="1155.6" y="1281" font-size="19.1" text-anchor="end" textLength="41.7" lengthAdjust="spacingAndGlyphs">0.02</text>
<text x="1155.6" y="1263.1" font-size="19.1" text-anchor="end" textLength="41.7" lengthAdjust="spacingAndGlyphs">0.05</text>
<text x="1155.6" y="1245.2" font-size="19.1" text-anchor="end" textLength="41.7" lengthAdjust="spacingAndGlyphs">0.07</text>
<text x="1155.6" y="1227.3" font-size="19.1" text-anchor="end" textLength="41.7" lengthAdjust="spacingAndGlyphs">0.10</text>
<text x="1155.6" y="1209.3" font-size="19.1" text-anchor="end" textLength="41.7" lengthAdjust="spacingAndGlyphs">0.15</text>
<text x="1155.6" y="1191.4" font-size="19.1" text-anchor="end" textLength="41.7" lengthAdjust="spacingAndGlyphs">0.20</text>
<text x="1155.6" y="1173.5" font-size="19.1" text-anchor="end" textLength="41.7" lengthAdjust="spacingAndGlyphs">0.25</text>
<text x="1061.6" y="134.7" font-size="19.1" text-anchor="start" textLength="38.8" lengthAdjust="spacingAndGlyphs">Max</text>
<text x="1189.1" y="134.7" font-size="19.1" text-anchor="end" textLength="41.7" lengthAdjust="spacingAndGlyphs">0.86</text>
<text x="1061.6" y="156.7" font-size="19.1" text-anchor="start" textLength="51.1" lengthAdjust="spacingAndGlyphs">Mean</text>
<text x="1189.1" y="156.7" font-size="19.1" text-anchor="end" textLength="41.7" lengthAdjust="spacingAndGlyphs">0.14</text>
<text x="1061.6" y="178.7" font-size="19.1" text-anchor="start" textLength="33.3" lengthAdjust="spacingAndGlyphs">Min</text>
<text x="1189.1" y="178.7" font-size="19.1" text-anchor="end" textLength="41.7" lengthAdjust="spacingAndGlyphs">0.04</text>
<text x="1061.6" y="604.8" font-size="19.1" text-anchor="start" textLength="38.8" lengthAdjust="spacingAndGlyphs">Max</text>
<text x="1189.1" y="604.8" font-size="19.1" text-anchor="end" textLength="41.7" lengthAdjust="spacingAndGlyphs">0.86</text>
<text x="1061.6" y="626.8" font-size="19.1" text-anchor="start" textLength="51.1" lengthAdjust="spacingAndGlyphs">Mean</text>
<text x="1189.1" y="626.8" font-size="19.1" text-anchor="end" textLength="41.7" lengthAdjust="spacingAndGlyphs">0.14</text>
<text x="1061.6" y="648.8" font-size="19.1" text-anchor="start" textLength="33.3" lengthAdjust="spacingAndGlyphs">Min</text>
<text x="1189.1" y="648.8" font-size="19.1" text-anchor="end" textLength="41.7" lengthAdjust="spacingAndGlyphs">0.04</text>
<text x="1061.6" y="1074.8" font-size="19.1" text-anchor="start" textLength="38.8" lengthAdjust="spacingAndGlyphs">Max</text>
<text x="1189.1" y="1074.8" font-size="19.1" text-anchor="end" textLength="41.7" lengthAdjust="spacingAndGlyphs">0.18</text>
<text x="1061.6" y="1096.8" font-size="19.1" text-anchor="start" textLength="51.1" lengthAdjust="spacingAndGlyphs">Mean</text>
<text x="1189.1" y="1096.8" font-size="19.1" text-anchor="end" textLength="48.5" lengthAdjust="spacingAndGlyphs">-0.00</text>
<text x="1061.6" y="1118.8" font-size="19.1" text-anchor="start" textLength="33.3" lengthAdjust="spacingAndGlyphs">Min</text>
<text x="1189.1" y="1118.8" font-size="19.1" text-anchor="end" textLength="48.5" lengthAdjust="spacingAndGlyphs">-0.14</text>
<text x="1061.6" y="1461.8" font-size="19.1" text-anchor="start" textLength="53.0" lengthAdjust="spacingAndGlyphs">RMSE</text>
<text x="1189.1" y="1461.8" font-size="19.1" text-anchor="end" textLength="41.7" lengthAdjust="spacingAndGlyphs">0.01</text>
<text x="1061.6" y="1483.8" font-size="19.1" text-anchor="start" textLength="53.9" lengthAdjust="spacingAndGlyphs">CORR</text>
<text x="1189.1" y="1483.8" font-size="19.1" text-anchor="end" textLength="41.7" lengthAdjust="spacingAndGlyphs">1.00</text>
</svg></body></html>
